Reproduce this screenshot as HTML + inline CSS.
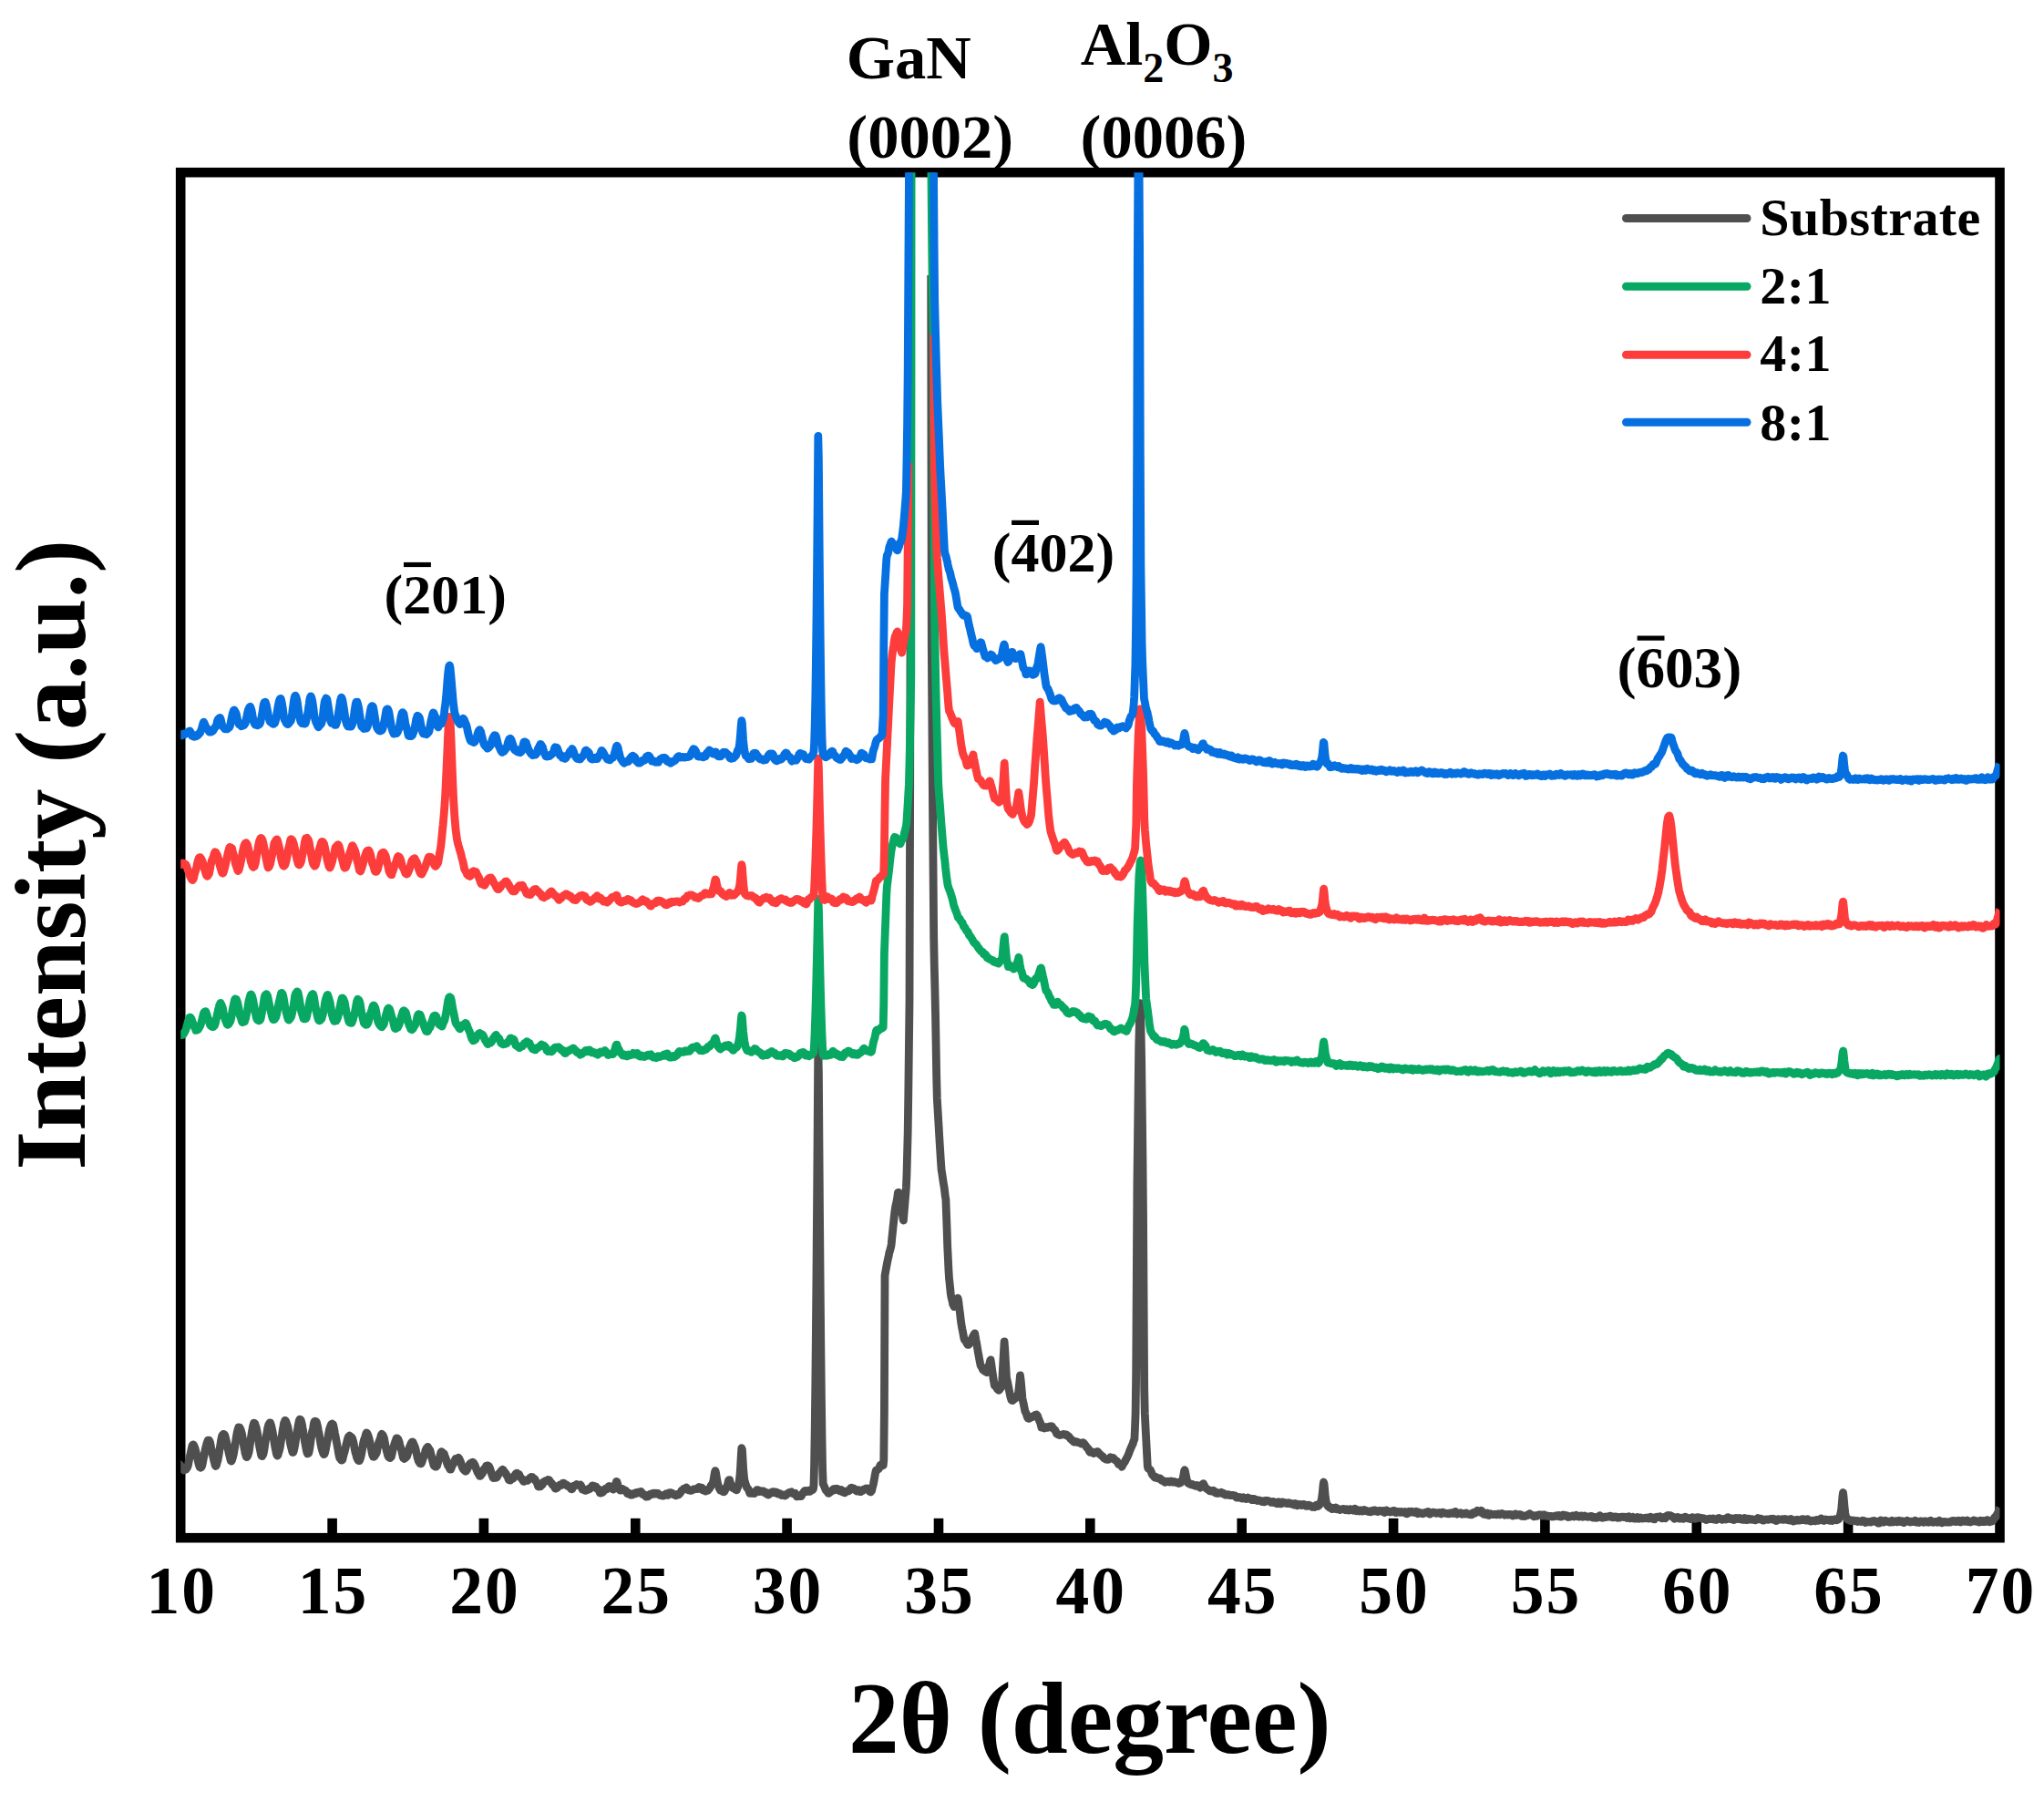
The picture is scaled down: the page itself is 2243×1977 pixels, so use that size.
<!DOCTYPE html>
<html lang="en"><head><meta charset="utf-8"><title>XRD patterns</title>
<style>
html,body{margin:0;padding:0;background:#fff;}
body{width:2243px;height:1977px;overflow:hidden;}
svg{display:block;}
text{font-family:"Liberation Serif","Times New Roman",serif;font-weight:bold;fill:#000;}
.c{fill:none;stroke-linecap:butt;}
</style></head><body>
<svg width="2243" height="1977" viewBox="0 0 2243 1977">
<rect x="0" y="0" width="2243" height="1977" fill="#ffffff"/>
<text x="928.8" y="86" font-size="68.5">GaN</text>
<text x="929.3" y="173" font-size="68.6">(0002)</text>
<text x="1185.8" y="71.3" font-size="68.5">Al<tspan dy="18.5" font-size="46">2</tspan><tspan dy="-18.5" font-size="68.5">O</tspan><tspan dy="18.5" font-size="46">3</tspan></text>
<text x="1185.6" y="173" font-size="68.6">(0006)</text>
<rect x="198.2" y="189.2" width="1996.3" height="1498.0" fill="none" stroke="#000" stroke-width="10.6"/>
<rect x="359.3" y="1665.8" width="10.6" height="20" fill="#000"/>
<rect x="525.6" y="1665.8" width="10.6" height="20" fill="#000"/>
<rect x="692.0" y="1665.8" width="10.6" height="20" fill="#000"/>
<rect x="858.3" y="1665.8" width="10.6" height="20" fill="#000"/>
<rect x="1024.7" y="1665.8" width="10.6" height="20" fill="#000"/>
<rect x="1191.0" y="1665.8" width="10.6" height="20" fill="#000"/>
<rect x="1357.4" y="1665.8" width="10.6" height="20" fill="#000"/>
<rect x="1523.8" y="1665.8" width="10.6" height="20" fill="#000"/>
<rect x="1690.1" y="1665.8" width="10.6" height="20" fill="#000"/>
<rect x="1856.5" y="1665.8" width="10.6" height="20" fill="#000"/>
<rect x="2022.8" y="1665.8" width="10.6" height="20" fill="#000"/>
<defs><clipPath id="pc"><rect x="198.2" y="189.2" width="1996.3" height="1498.0"/></clipPath></defs>
<g clip-path="url(#pc)">
<polyline class="c" stroke="#4f4f4f" stroke-width="8.8" stroke-linejoin="round" stroke-miterlimit="10" points="194.0,1605.1 194.6,1604.7 195.2,1605.0 195.8,1605.9 196.4,1606.4 197.0,1606.7 197.6,1607.1 198.2,1608.3 198.8,1609.5 199.4,1609.9 200.0,1610.8 200.6,1611.9 201.2,1612.6 201.8,1612.9 202.4,1612.3 203.0,1612.5 203.6,1611.8 204.2,1612.0 204.8,1611.0 205.4,1610.4 206.0,1608.7 206.6,1606.9 207.2,1603.3 207.8,1600.2 208.4,1597.3 209.0,1595.3 209.6,1592.1 210.2,1589.3 210.8,1586.6 211.4,1585.2 212.0,1585.0 212.6,1585.5 213.2,1586.8 213.8,1588.3 214.4,1590.5 215.0,1592.9 215.6,1595.3 216.2,1598.4 216.8,1600.7 217.4,1603.3 218.0,1606.2 218.6,1608.0 219.2,1609.6 219.8,1609.9 220.4,1610.2 221.0,1609.7 221.6,1608.4 222.2,1606.1 222.8,1602.7 223.4,1599.7 224.0,1596.9 224.6,1593.9 225.2,1590.5 225.8,1587.9 226.4,1585.7 227.0,1583.4 227.6,1581.7 228.2,1580.1 228.8,1580.2 229.4,1580.1 230.0,1581.2 230.6,1582.8 231.2,1585.9 231.8,1589.3 232.4,1591.8 233.0,1594.3 233.6,1597.2 234.2,1599.9 234.8,1602.7 235.4,1604.6 236.0,1607.4 236.6,1608.5 237.2,1608.1 237.8,1606.3 238.4,1604.0 239.0,1602.1 239.6,1599.0 240.2,1595.5 240.8,1591.3 241.4,1587.7 242.0,1584.1 242.6,1580.2 243.2,1577.3 243.8,1574.9 244.4,1574.1 245.0,1573.5 245.6,1573.5 246.2,1573.9 246.8,1574.8 247.4,1577.1 248.0,1579.3 248.6,1582.5 249.2,1584.7 249.8,1588.2 250.4,1590.6 251.0,1593.4 251.6,1595.9 252.2,1598.5 252.8,1601.0 253.4,1603.0 254.0,1603.1 254.6,1601.9 255.2,1599.5 255.8,1597.7 256.4,1594.9 257.0,1591.4 257.6,1587.8 258.2,1584.2 258.8,1580.1 259.4,1576.2 260.0,1572.7 260.6,1569.9 261.2,1567.8 261.8,1566.0 262.4,1566.0 263.0,1566.1 263.6,1567.4 264.2,1568.5 264.8,1570.8 265.4,1572.9 266.0,1576.1 266.6,1579.9 267.2,1583.5 267.8,1587.9 268.4,1590.4 269.0,1594.4 269.6,1595.9 270.2,1598.3 270.8,1598.6 271.4,1597.9 272.0,1596.6 272.6,1594.9 273.2,1592.6 273.8,1588.5 274.4,1584.1 275.0,1579.7 275.6,1576.2 276.2,1572.2 276.8,1569.1 277.4,1565.4 278.0,1563.2 278.6,1561.2 279.2,1561.4 279.8,1561.9 280.4,1564.1 281.0,1565.6 281.6,1568.1 282.2,1570.9 282.8,1574.4 283.4,1578.7 284.0,1582.6 284.6,1586.6 285.2,1589.5 285.8,1592.4 286.4,1595.5 287.0,1597.3 287.6,1597.7 288.2,1596.6 288.8,1595.8 289.4,1593.3 290.0,1590.0 290.6,1585.7 291.2,1581.7 291.8,1578.1 292.4,1574.4 293.0,1571.5 293.6,1567.6 294.2,1565.1 294.8,1562.9 295.4,1561.9 296.0,1560.9 296.6,1560.9 297.2,1562.6 297.8,1564.7 298.4,1567.8 299.0,1570.3 299.6,1573.7 300.2,1577.1 300.8,1581.1 301.4,1584.9 302.0,1588.4 302.6,1591.2 303.2,1594.2 303.8,1596.2 304.4,1597.1 305.0,1596.2 305.6,1594.1 306.2,1592.3 306.8,1590.1 307.4,1587.3 308.0,1583.4 308.6,1579.3 309.2,1575.7 309.8,1571.9 310.4,1567.8 311.0,1564.8 311.6,1561.3 312.2,1559.9 312.8,1558.4 313.4,1558.9 314.0,1560.0 314.6,1562.0 315.2,1563.6 315.8,1565.3 316.4,1568.6 317.0,1572.6 317.6,1577.4 318.2,1581.4 318.8,1584.9 319.4,1587.3 320.0,1589.6 320.6,1592.0 321.2,1593.5 321.8,1593.2 322.4,1591.5 323.0,1588.8 323.6,1585.7 324.2,1582.1 324.8,1578.2 325.4,1574.4 326.0,1570.7 326.6,1567.7 327.2,1563.8 327.8,1560.8 328.4,1558.3 329.0,1557.2 329.6,1557.4 330.2,1558.1 330.8,1560.2 331.4,1562.6 332.0,1566.7 332.6,1569.5 333.2,1573.5 333.8,1576.7 334.4,1581.3 335.0,1584.2 335.6,1587.5 336.2,1590.7 336.8,1593.3 337.4,1594.8 338.0,1594.7 338.6,1594.3 339.2,1592.4 339.8,1589.1 340.4,1585.1 341.0,1580.7 341.6,1576.3 342.2,1572.4 342.8,1569.8 343.4,1567.5 344.0,1564.2 344.6,1560.8 345.2,1559.5 345.8,1559.1 346.4,1559.4 347.0,1559.7 347.6,1561.1 348.2,1563.5 348.8,1566.4 349.4,1569.6 350.0,1572.3 350.6,1575.9 351.2,1579.2 351.8,1583.6 352.4,1586.2 353.0,1589.3 353.6,1591.3 354.2,1593.1 354.8,1594.8 355.4,1595.6 356.0,1595.3 356.6,1593.7 357.2,1591.3 357.8,1588.0 358.4,1584.8 359.0,1581.4 359.6,1579.1 360.2,1575.1 360.8,1571.6 361.4,1568.5 362.0,1566.7 362.6,1564.8 363.2,1563.3 363.8,1562.5 364.4,1562.1 365.0,1562.7 365.6,1562.8 366.2,1565.6 366.8,1568.5 367.4,1572.4 368.0,1575.1 368.6,1578.1 369.2,1581.3 369.8,1584.5 370.4,1587.8 371.0,1591.0 371.6,1594.7 372.2,1597.6 372.8,1599.7 373.4,1600.5 374.0,1601.2 374.6,1602.1 375.2,1602.1 375.8,1601.3 376.4,1599.0 377.0,1596.5 377.6,1594.2 378.2,1592.3 378.8,1590.1 379.4,1587.4 380.0,1584.5 380.6,1582.4 381.2,1579.7 381.8,1577.9 382.4,1576.1 383.0,1576.0 383.6,1575.2 384.2,1575.6 384.8,1576.1 385.4,1576.6 386.0,1577.0 386.6,1578.0 387.2,1580.0 387.8,1582.2 388.4,1584.9 389.0,1588.5 389.6,1591.7 390.2,1594.3 390.8,1595.8 391.4,1598.5 392.0,1600.1 392.6,1601.4 393.2,1602.5 393.8,1602.6 394.4,1602.6 395.0,1601.3 395.6,1599.7 396.2,1597.1 396.8,1594.5 397.4,1591.3 398.0,1587.8 398.6,1583.4 399.2,1580.7 399.8,1578.9 400.4,1577.6 401.0,1575.4 401.6,1573.2 402.2,1572.0 402.8,1572.4 403.4,1573.4 404.0,1575.1 404.6,1576.9 405.2,1579.2 405.8,1581.8 406.4,1584.6 407.0,1587.6 407.6,1590.6 408.2,1593.9 408.8,1596.4 409.4,1598.0 410.0,1597.8 410.6,1598.3 411.2,1597.2 411.8,1596.5 412.4,1595.3 413.0,1594.6 413.6,1592.8 414.2,1589.3 414.8,1586.1 415.4,1583.2 416.0,1581.5 416.6,1580.2 417.2,1578.5 417.8,1576.4 418.4,1574.0 419.0,1573.4 419.6,1573.8 420.2,1574.6 420.8,1576.1 421.4,1577.6 422.0,1580.8 422.6,1583.8 423.2,1587.4 423.8,1589.7 424.4,1592.2 425.0,1594.3 425.6,1596.6 426.2,1598.1 426.8,1598.9 427.4,1599.1 428.0,1599.5 428.6,1599.2 429.2,1598.5 429.8,1596.7 430.4,1593.9 431.0,1591.1 431.6,1588.3 432.2,1586.7 432.8,1584.5 433.4,1582.8 434.0,1581.0 434.6,1579.4 435.2,1577.8 435.8,1577.8 436.4,1578.7 437.0,1579.2 437.6,1580.7 438.2,1582.4 438.8,1585.8 439.4,1587.3 440.0,1589.4 440.6,1590.8 441.2,1594.2 441.8,1596.4 442.4,1599.3 443.0,1599.4 443.6,1600.5 444.2,1599.6 444.8,1599.6 445.4,1599.2 446.0,1598.4 446.6,1597.6 447.2,1595.7 447.8,1593.9 448.4,1591.3 449.0,1589.0 449.6,1587.5 450.2,1585.8 450.8,1584.3 451.4,1583.1 452.0,1582.3 452.6,1582.0 453.2,1582.5 453.8,1584.1 454.4,1585.2 455.0,1586.8 455.6,1588.2 456.2,1590.6 456.8,1593.2 457.4,1595.7 458.0,1599.0 458.6,1600.5 459.2,1602.8 459.8,1603.7 460.4,1604.8 461.0,1605.6 461.6,1605.7 462.2,1605.8 462.8,1604.6 463.4,1602.8 464.0,1600.9 464.6,1599.1 465.2,1597.9 465.8,1595.7 466.4,1593.7 467.0,1591.0 467.6,1590.2 468.2,1588.7 468.8,1588.0 469.4,1587.4 470.0,1588.5 470.6,1589.3 471.2,1590.1 471.8,1591.0 472.4,1593.1 473.0,1595.9 473.6,1598.2 474.2,1600.8 474.8,1603.2 475.4,1605.3 476.0,1607.5 476.6,1608.3 477.2,1609.0 477.8,1608.4 478.4,1609.2 479.0,1608.7 479.6,1608.2 480.2,1605.7 480.8,1604.0 481.4,1602.0 482.0,1600.8 482.6,1598.4 483.2,1596.2 483.8,1593.7 484.4,1592.6 485.0,1593.1 485.6,1593.8 486.2,1594.3 486.8,1594.3 487.4,1595.0 488.0,1597.4 488.6,1598.5 489.2,1600.7 489.8,1601.6 490.4,1605.1 491.0,1606.2 491.6,1608.2 492.2,1608.5 492.8,1609.6 493.4,1611.0 494.0,1612.2 494.6,1612.2 495.2,1610.8 495.8,1608.8 496.4,1607.7 497.0,1606.7 497.6,1606.0 498.2,1604.6 498.8,1602.8 499.4,1601.5 500.0,1600.4 500.6,1600.5 501.2,1600.7 501.8,1600.4 502.4,1599.7 503.0,1599.3 503.6,1599.9 504.2,1601.0 504.8,1602.3 505.4,1603.6 506.0,1605.7 506.6,1607.4 507.2,1609.5 507.8,1610.7 508.4,1611.8 509.0,1612.4 509.6,1613.1 510.2,1613.7 510.8,1614.2 511.4,1614.0 512.0,1613.1 512.6,1612.2 513.2,1610.7 513.8,1609.8 514.4,1608.5 515.0,1607.0 515.6,1606.2 516.2,1605.4 516.8,1605.5 517.4,1604.8 518.0,1604.4 518.6,1604.1 519.2,1604.5 519.8,1605.1 520.4,1606.4 521.0,1607.2 521.6,1608.8 522.2,1610.3 522.8,1612.3 523.4,1613.5 524.0,1615.2 524.6,1615.9 525.2,1617.3 525.8,1618.0 526.4,1619.3 527.0,1619.3 527.6,1618.7 528.2,1617.8 528.8,1617.0 529.4,1616.3 530.0,1615.2 530.6,1613.0 531.2,1611.8 531.8,1611.0 532.4,1610.9 533.0,1610.0 533.6,1608.3 534.2,1608.0 534.8,1607.9 535.4,1607.9 536.0,1608.3 536.6,1608.7 537.2,1610.3 537.8,1611.2 538.4,1613.7 539.0,1615.5 539.6,1617.3 540.2,1618.8 540.8,1620.8 541.4,1621.6 542.0,1621.6 542.6,1621.0 543.2,1620.9 543.8,1621.0 544.4,1621.3 545.0,1620.9 545.6,1620.3 546.2,1618.9 546.8,1617.8 547.4,1616.6 548.0,1616.2 548.6,1615.8 549.2,1614.9 549.8,1614.0 550.4,1613.4 551.0,1612.7 551.6,1612.3 552.2,1612.7 552.8,1613.6 553.4,1615.1 554.0,1615.1 554.6,1616.1 555.2,1616.8 555.8,1618.3 556.4,1618.7 557.0,1619.9 557.6,1621.6 558.2,1623.4 558.8,1623.9 559.4,1623.9 560.0,1624.1 560.6,1623.0 561.2,1622.5 561.8,1621.7 562.4,1622.2 563.0,1622.1 563.6,1621.3 564.2,1620.2 564.8,1618.8 565.4,1617.9 566.0,1616.9 566.6,1616.3 567.2,1616.1 567.8,1617.1 568.4,1617.3 569.0,1617.4 569.6,1617.4 570.2,1618.9 570.8,1619.9 571.4,1621.4 572.0,1621.5 572.6,1622.5 573.2,1622.7 573.8,1624.2 574.4,1625.4 575.0,1625.3 575.6,1624.9 576.2,1624.6 576.8,1624.7 577.4,1624.1 578.0,1624.0 578.6,1624.0 579.2,1624.3 579.8,1623.1 580.4,1622.7 581.0,1621.9 581.6,1622.1 582.2,1621.0 582.8,1620.6 583.4,1620.3 584.0,1620.5 584.6,1621.3 585.2,1621.7 585.8,1622.2 586.4,1622.5 587.0,1623.0 587.6,1624.6 588.2,1625.2 588.8,1626.1 589.4,1627.1 590.0,1629.1 590.6,1630.8 591.2,1631.0 591.8,1630.7 592.4,1630.9 593.0,1630.9 593.6,1630.2 594.2,1629.3 594.8,1629.0 595.4,1628.5 596.0,1627.1 596.6,1625.6 597.2,1625.5 597.8,1625.1 598.4,1625.0 599.0,1624.3 599.6,1624.4 600.2,1624.1 600.8,1624.1 601.4,1623.5 602.0,1623.7 602.6,1623.6 603.2,1624.9 603.8,1625.7 604.4,1626.6 605.0,1626.8 605.6,1627.6 606.2,1629.0 606.8,1629.3 607.4,1629.7 608.0,1629.8 608.6,1631.9 609.2,1633.0 609.8,1633.2 610.4,1632.4 611.0,1632.7 611.6,1632.2 612.2,1631.3 612.8,1630.5 613.4,1630.3 614.0,1630.2 614.6,1629.0 615.2,1629.1 615.8,1629.2 616.4,1629.4 617.0,1628.8 617.6,1627.3 618.2,1627.4 618.8,1627.2 619.4,1628.4 620.0,1628.8 620.6,1629.1 621.2,1628.8 621.8,1629.1 622.4,1629.5 623.0,1630.5 623.6,1630.6 624.2,1631.2 624.8,1630.8 625.4,1631.8 626.0,1632.2 626.6,1633.6 627.2,1633.9 627.8,1633.7 628.4,1632.3 629.0,1630.9 629.6,1630.1 630.2,1630.2 630.8,1630.2 631.4,1629.5 632.0,1629.5 632.6,1628.5 633.2,1629.2 633.8,1628.9 634.4,1629.3 635.0,1629.1 635.6,1629.1 636.2,1629.2 636.8,1628.9 637.4,1629.5 638.0,1631.0 638.6,1633.0 639.2,1634.2 639.8,1634.3 640.4,1633.9 641.0,1634.5 641.6,1634.7 642.2,1635.3 642.8,1634.9 643.4,1635.0 644.0,1634.8 644.6,1634.7 645.2,1633.9 645.8,1633.5 646.4,1633.9 647.0,1633.7 647.6,1633.2 648.2,1631.8 648.8,1631.6 649.4,1630.7 650.0,1630.0 650.6,1629.8 651.2,1630.2 651.8,1630.4 652.4,1630.9 653.0,1630.9 653.6,1631.4 654.2,1631.3 654.8,1632.9 655.4,1632.8 656.0,1633.6 656.6,1633.6 657.2,1635.4 657.8,1636.6 658.4,1638.0 659.0,1637.5 659.6,1637.9 660.2,1637.3 660.8,1637.6 661.4,1637.2 662.0,1636.5 662.6,1635.4 663.2,1634.4 663.8,1633.5 664.4,1633.4 665.0,1633.0 665.6,1633.2 666.2,1633.6 666.8,1632.9 667.4,1631.9 668.0,1630.8 668.6,1630.5 669.2,1630.8 669.8,1631.5 670.4,1631.9 671.0,1632.0 671.6,1632.5 672.2,1633.0 672.8,1634.1 673.4,1633.7 674.0,1633.4 674.6,1632.0 675.2,1630.3 675.8,1627.4 676.4,1625.5 677.0,1625.8 677.6,1627.7 678.2,1630.4 678.8,1632.1 679.4,1634.0 680.0,1634.2 680.6,1635.2 681.2,1635.2 681.8,1635.2 682.4,1633.8 683.0,1633.5 683.6,1633.9 684.2,1634.3 684.8,1634.6 685.4,1634.6 686.0,1635.3 686.6,1635.4 687.2,1636.1 687.8,1636.8 688.4,1638.6 689.0,1638.8 689.6,1638.9 690.2,1638.1 690.8,1639.3 691.4,1639.5 692.0,1640.0 692.6,1639.9 693.2,1640.2 693.8,1640.0 694.4,1639.7 695.0,1639.1 695.6,1638.6 696.2,1638.3 696.8,1638.8 697.4,1638.9 698.0,1638.0 698.6,1637.3 699.2,1637.3 699.8,1638.0 700.4,1637.9 701.0,1637.0 701.6,1637.0 702.2,1636.8 702.8,1636.8 703.4,1636.4 704.0,1637.5 704.6,1638.4 705.2,1639.6 705.8,1639.2 706.4,1639.9 707.0,1639.7 707.6,1640.2 708.2,1641.2 708.8,1642.1 709.4,1642.2 710.0,1641.3 710.6,1641.1 711.2,1641.7 711.8,1641.4 712.4,1640.3 713.0,1639.4 713.6,1639.2 714.2,1639.5 714.8,1639.8 715.4,1639.5 716.0,1639.4 716.6,1638.1 717.2,1638.1 717.8,1638.5 718.4,1639.1 719.0,1638.9 719.6,1638.2 720.2,1638.8 720.8,1638.5 721.4,1638.7 722.0,1638.5 722.6,1639.6 723.2,1639.9 723.8,1640.2 724.4,1640.2 725.0,1640.7 725.6,1640.8 726.2,1640.7 726.8,1640.7 727.4,1641.2 728.0,1641.1 728.6,1640.8 729.2,1640.4 729.8,1640.1 730.4,1639.8 731.0,1638.7 731.6,1639.1 732.2,1639.6 732.8,1640.4 733.4,1639.5 734.0,1638.6 734.6,1637.6 735.2,1637.6 735.8,1638.1 736.4,1637.7 737.0,1638.4 737.6,1638.1 738.2,1639.5 738.8,1639.6 739.4,1639.7 740.0,1639.6 740.6,1640.1 741.2,1640.6 741.8,1640.8 742.4,1640.3 743.0,1639.4 743.6,1639.3 744.2,1639.5 744.8,1639.9 745.4,1639.0 746.0,1638.6 746.6,1637.7 747.2,1636.7 747.8,1635.5 748.4,1635.5 749.0,1634.6 749.6,1634.5 750.2,1633.3 750.8,1633.1 751.4,1632.9 752.0,1632.9 752.6,1632.7 753.2,1632.0 753.8,1632.7 754.4,1634.2 755.0,1634.6 755.6,1634.8 756.2,1635.0 756.8,1635.2 757.4,1635.4 758.0,1635.2 758.6,1635.3 759.2,1634.8 759.8,1634.7 760.4,1634.7 761.0,1634.3 761.6,1633.7 762.2,1633.7 762.8,1633.6 763.4,1633.7 764.0,1633.4 764.6,1633.2 765.2,1633.5 765.8,1632.5 766.4,1632.5 767.0,1631.5 767.6,1632.7 768.2,1633.3 768.8,1632.9 769.4,1632.1 770.0,1632.1 770.6,1633.7 771.2,1634.8 771.8,1634.9 772.4,1635.2 773.0,1635.4 773.6,1635.7 774.2,1636.1 774.8,1635.0 775.4,1635.3 776.0,1634.3 776.6,1635.3 777.2,1634.5 777.8,1634.1 778.4,1633.3 779.0,1632.3 779.6,1631.5 780.2,1629.8 780.8,1629.0 781.4,1628.3 782.0,1627.6 782.6,1625.4 783.2,1622.7 783.8,1618.7 784.4,1615.2 785.0,1613.6 785.6,1616.0 786.2,1620.0 786.8,1623.7 787.4,1626.6 788.0,1629.3 788.6,1630.9 789.2,1632.8 789.8,1633.7 790.4,1635.1 791.0,1635.0 791.6,1635.7 792.2,1635.8 792.8,1636.1 793.4,1636.6 794.0,1636.3 794.6,1636.8 795.2,1635.8 795.8,1634.7 796.4,1633.0 797.0,1631.7 797.6,1630.8 798.2,1629.3 798.8,1627.1 799.4,1624.6 800.0,1623.6 800.6,1623.6 801.2,1626.2 801.8,1627.8 802.4,1629.9 803.0,1630.9 803.6,1632.2 804.2,1632.7 804.8,1632.8 805.4,1632.7 806.0,1632.8 806.6,1633.3 807.2,1634.4 807.8,1634.6 808.4,1634.8 809.0,1632.7 809.6,1632.0 810.2,1629.7 810.8,1627.5 811.4,1623.5 812.0,1618.2 812.6,1609.5 813.2,1598.2 813.8,1588.7 814.4,1590.3 815.0,1599.7 815.6,1610.4 816.2,1617.5 816.8,1623.3 817.4,1625.5 818.0,1627.8 818.6,1629.2 819.2,1631.3 819.8,1632.4 820.4,1633.0 821.0,1633.5 821.6,1634.8 822.2,1636.6 822.8,1638.3 823.4,1638.3 824.0,1637.5 824.6,1637.2 825.2,1638.3 825.8,1638.4 826.4,1638.3 827.0,1638.1 827.6,1638.6 828.2,1638.4 828.8,1637.3 829.4,1635.9 830.0,1635.4 830.6,1634.6 831.2,1635.1 831.8,1634.8 832.4,1635.6 833.0,1635.9 833.6,1636.6 834.2,1635.9 834.8,1635.6 835.4,1635.8 836.0,1636.3 836.6,1635.9 837.2,1635.8 837.8,1635.9 838.4,1637.4 839.0,1636.9 839.6,1637.5 840.2,1637.2 840.8,1638.4 841.4,1639.2 842.0,1639.6 842.6,1639.6 843.2,1640.0 843.8,1638.9 844.4,1638.7 845.0,1637.7 845.6,1638.3 846.2,1638.0 846.8,1637.5 847.4,1636.8 848.0,1636.7 848.6,1636.9 849.2,1636.6 849.8,1637.0 850.4,1637.7 851.0,1637.4 851.6,1636.9 852.2,1637.2 852.8,1638.4 853.4,1638.8 854.0,1638.1 854.6,1638.1 855.2,1638.4 855.8,1638.7 856.4,1639.7 857.0,1640.0 857.6,1640.4 858.2,1639.9 858.8,1640.2 859.4,1640.0 860.0,1640.4 860.6,1640.7 861.2,1641.0 861.8,1640.9 862.4,1640.3 863.0,1639.8 863.6,1639.1 864.2,1638.5 864.8,1638.4 865.4,1637.7 866.0,1638.1 866.6,1637.6 867.2,1637.7 867.8,1637.0 868.4,1636.8 869.0,1637.4 869.6,1637.6 870.2,1638.7 870.8,1638.8 871.4,1638.6 872.0,1638.4 872.6,1638.3 873.2,1639.7 873.8,1640.6 874.4,1641.9 875.0,1641.5 875.6,1640.8 876.2,1641.2 876.8,1641.7 877.4,1641.7 878.0,1641.1 878.6,1641.5 879.2,1641.5 879.8,1640.6 880.4,1639.2 881.0,1638.4 881.6,1637.5 882.2,1636.5 882.8,1635.8 883.4,1635.3 884.0,1635.4 884.6,1635.3 885.2,1636.5 885.8,1636.1 886.4,1636.1 887.0,1635.2 887.6,1635.8 888.2,1636.3 888.8,1636.3 889.4,1635.8 890.0,1634.6 890.6,1634.2 891.2,1634.4 891.8,1634.5 892.4,1633.6 893.0,1629.5 893.6,1605.8 894.2,1568.4 894.8,1519.2 895.4,1460.3 896.0,1392.0 896.6,1316.7 897.2,1235.5 897.8,1147.3 898.4,1177.0 899.0,1261.6 899.6,1341.2 900.2,1412.9 900.8,1476.8 901.4,1532.3 902.0,1577.9 902.6,1610.8 903.2,1627.9 903.8,1628.9 904.4,1630.6 905.0,1631.8 905.6,1633.4 906.2,1634.8 906.8,1635.3 907.4,1636.1 908.0,1636.8 908.6,1637.8 909.2,1638.3 909.8,1638.0 910.4,1637.5 911.0,1637.2 911.6,1636.5 912.2,1636.4 912.8,1635.5 913.4,1635.5 914.0,1634.3 914.6,1633.8 915.2,1633.5 915.8,1634.2 916.4,1634.7 917.0,1634.5 917.6,1633.9 918.2,1633.2 918.8,1633.4 919.4,1633.6 920.0,1634.4 920.6,1635.2 921.2,1635.7 921.8,1635.3 922.4,1634.6 923.0,1634.5 923.6,1635.0 924.2,1636.2 924.8,1637.1 925.4,1637.2 926.0,1637.0 926.6,1637.4 927.2,1637.7 927.8,1637.0 928.4,1636.0 929.0,1635.9 929.6,1636.0 930.2,1636.1 930.8,1636.0 931.4,1635.7 932.0,1635.3 932.6,1634.7 933.2,1633.2 933.8,1632.4 934.4,1632.1 935.0,1632.5 935.6,1632.9 936.2,1632.8 936.8,1632.8 937.4,1633.3 938.0,1634.0 938.6,1634.8 939.2,1635.0 939.8,1635.6 940.4,1636.1 941.0,1635.2 941.6,1634.8 942.2,1634.7 942.8,1635.5 943.4,1635.9 944.0,1636.6 944.6,1636.6 945.2,1635.9 945.8,1635.9 946.4,1635.6 947.0,1635.2 947.6,1634.1 948.2,1634.0 948.8,1633.9 949.4,1633.8 950.0,1633.2 950.6,1633.1 951.2,1632.9 951.8,1633.5 952.4,1633.9 953.0,1634.2 953.6,1634.2 954.2,1636.0 954.8,1635.9 955.4,1636.9 956.0,1636.0 956.6,1635.6 957.2,1632.7 957.8,1630.4 958.4,1628.2 959.0,1625.2 959.6,1621.8 960.2,1618.2 960.8,1615.4 961.4,1613.0 962.0,1613.2 962.6,1612.7 963.2,1612.4 963.8,1611.9 964.4,1611.4 965.0,1609.9 965.6,1608.3 966.2,1607.2 966.8,1607.9 967.4,1607.6 968.0,1608.2 968.6,1607.3 969.2,1607.8 969.8,1601.8 970.4,1547.5 971.0,1399.7 971.6,1396.0 972.2,1392.8 972.8,1389.4 973.4,1386.1 974.0,1383.4 974.6,1380.4 975.2,1378.0 975.8,1374.5 976.4,1372.8 977.0,1370.5 977.6,1368.4 978.2,1365.0 978.8,1358.1 979.4,1352.7 980.0,1346.3 980.6,1341.3 981.2,1335.0 981.8,1329.8 982.4,1325.6 983.0,1322.0 983.6,1320.1 984.2,1316.8 984.8,1313.2 985.4,1308.4 986.0,1308.2 986.6,1311.2 987.2,1314.2 987.8,1315.8 988.4,1316.8 989.0,1321.0 989.6,1326.3 990.2,1331.4 990.8,1335.7 991.4,1339.0 992.0,1331.3 992.6,1324.4 993.2,1316.8 993.8,1310.1 994.4,1302.8 995.0,1288.4 995.6,1265.1 996.2,1241.7 996.8,1199.9 997.4,1149.2 998.0,1099.2 998.6,899.2 999.2,621.2 999.2,620.6"/>
<polyline class="c" stroke="#4f4f4f" stroke-width="8.8" stroke-linejoin="round" stroke-miterlimit="10" points="1021.7,302.0 1022.3,707.6 1022.9,796.2 1023.5,884.7 1024.1,958.3 1024.7,1028.5 1025.3,1060.4 1025.9,1084.4 1026.5,1111.8 1027.1,1146.0 1027.7,1181.5 1028.3,1204.9 1028.9,1215.2 1029.5,1225.2 1030.1,1235.7 1030.7,1246.2 1031.3,1256.0 1031.9,1265.6 1032.5,1275.2 1033.1,1283.5 1033.7,1287.1 1034.3,1291.1 1034.9,1295.5 1035.5,1298.9 1036.1,1302.6 1036.7,1307.1 1037.3,1312.5 1037.9,1315.8 1038.5,1331.8 1039.1,1348.5 1039.7,1367.3 1040.3,1379.3 1040.9,1392.5 1041.5,1402.6 1042.1,1407.8 1042.7,1413.7 1043.3,1419.5 1043.9,1422.9 1044.5,1425.5 1045.1,1427.8 1045.7,1431.1 1046.3,1431.5 1046.9,1433.6 1047.5,1432.9 1048.1,1432.7 1048.7,1431.1 1049.3,1429.0 1049.9,1427.3 1050.5,1425.4 1051.1,1424.2 1051.7,1426.8 1052.3,1431.7 1052.9,1436.7 1053.5,1441.0 1054.1,1446.5 1054.7,1451.3 1055.3,1454.9 1055.9,1458.1 1056.5,1460.9 1057.1,1464.3 1057.7,1467.8 1058.3,1469.7 1058.9,1470.6 1059.5,1470.5 1060.1,1471.8 1060.7,1473.3 1061.3,1474.3 1061.9,1475.2 1062.5,1475.0 1063.1,1475.3 1063.7,1473.5 1064.3,1473.0 1064.9,1473.0 1065.5,1472.4 1066.1,1470.3 1066.7,1468.4 1067.3,1466.8 1067.9,1466.0 1068.5,1464.6 1069.1,1463.5 1069.7,1462.9 1070.3,1466.3 1070.9,1469.8 1071.5,1472.6 1072.1,1476.4 1072.7,1479.7 1073.3,1483.7 1073.9,1486.5 1074.5,1490.1 1075.1,1493.3 1075.7,1496.2 1076.3,1498.8 1076.9,1498.9 1077.5,1500.3 1078.1,1501.9 1078.7,1503.1 1079.3,1503.3 1079.9,1503.8 1080.5,1503.6 1081.1,1504.8 1081.7,1504.7 1082.3,1504.8 1082.9,1505.8 1083.5,1504.9 1084.1,1503.4 1084.7,1500.4 1085.3,1497.6 1085.9,1495.9 1086.5,1493.1 1087.1,1491.8 1087.7,1495.8 1088.3,1500.2 1088.9,1504.8 1089.5,1508.5 1090.1,1513.1 1090.7,1516.3 1091.3,1520.2 1091.9,1519.4 1092.5,1520.0 1093.1,1521.2 1093.7,1522.4 1094.3,1523.9 1094.9,1524.1 1095.5,1524.9 1096.1,1525.4 1096.7,1524.7 1097.3,1523.8 1097.9,1523.0 1098.5,1522.3 1099.1,1521.1 1099.7,1515.9 1100.3,1504.3 1100.9,1493.1 1101.5,1482.4 1102.1,1471.8 1102.7,1479.7 1103.3,1490.6 1103.9,1500.9 1104.5,1511.6 1105.1,1514.1 1105.7,1516.6 1106.3,1519.6 1106.9,1522.7 1107.5,1526.2 1108.1,1529.0 1108.7,1532.0 1109.3,1534.1 1109.9,1536.1 1110.5,1535.9 1111.1,1536.6 1111.7,1535.9 1112.3,1535.9 1112.9,1534.7 1113.5,1534.3 1114.1,1534.3 1114.7,1533.4 1115.3,1532.6 1115.9,1531.3 1116.5,1530.9 1117.1,1529.7 1117.7,1527.0 1118.3,1521.1 1118.9,1515.4 1119.5,1509.0 1120.1,1513.6 1120.7,1519.8 1121.3,1526.7 1121.9,1533.7 1122.5,1537.3 1123.1,1539.4 1123.7,1542.6 1124.3,1545.5 1124.9,1548.5 1125.5,1549.4 1126.1,1550.7 1126.7,1552.5 1127.3,1554.6 1127.9,1555.8 1128.5,1555.6 1129.1,1556.3 1129.7,1556.0 1130.3,1555.8 1130.9,1554.6 1131.5,1555.0 1132.1,1554.9 1132.7,1554.1 1133.3,1553.9 1133.9,1553.7 1134.5,1553.8 1135.1,1553.3 1135.7,1552.6 1136.3,1552.2 1136.9,1552.7 1137.5,1552.0 1138.1,1552.9 1138.7,1553.6 1139.3,1555.9 1139.9,1557.3 1140.5,1558.5 1141.1,1559.9 1141.7,1561.3 1142.3,1563.8 1142.9,1566.1 1143.5,1566.0 1144.1,1565.8 1144.7,1565.7 1145.3,1566.1 1145.9,1567.0 1146.5,1566.5 1147.1,1566.1 1147.7,1565.4 1148.3,1565.7 1148.9,1566.4 1149.5,1566.3 1150.1,1565.8 1150.7,1565.4 1151.3,1565.1 1151.9,1565.8 1152.5,1565.8 1153.1,1565.5 1153.7,1564.6 1154.3,1564.8 1154.9,1566.0 1155.5,1567.1 1156.1,1567.5 1156.7,1568.2 1157.3,1568.5 1157.9,1569.2 1158.5,1570.4 1159.1,1571.8 1159.7,1573.1 1160.3,1573.4 1160.9,1573.9 1161.5,1573.9 1162.1,1574.4 1162.7,1574.5 1163.3,1574.5 1163.9,1574.1 1164.5,1574.1 1165.1,1574.0 1165.7,1573.9 1166.3,1573.8 1166.9,1573.5 1167.5,1573.5 1168.1,1573.6 1168.7,1574.3 1169.3,1573.8 1169.9,1573.9 1170.5,1574.2 1171.1,1575.0 1171.7,1575.2 1172.3,1576.0 1172.9,1576.0 1173.5,1576.9 1174.1,1577.7 1174.7,1578.5 1175.3,1578.9 1175.9,1579.4 1176.5,1580.1 1177.1,1580.7 1177.7,1581.0 1178.3,1582.0 1178.9,1581.9 1179.5,1582.0 1180.1,1581.3 1180.7,1581.8 1181.3,1581.8 1181.9,1581.9 1182.5,1582.5 1183.1,1582.5 1183.7,1582.9 1184.3,1582.9 1184.9,1583.0 1185.5,1583.1 1186.1,1583.6 1186.7,1584.0 1187.3,1583.8 1187.9,1583.2 1188.5,1582.7 1189.1,1583.1 1189.7,1583.8 1190.3,1584.7 1190.9,1585.3 1191.5,1586.3 1192.1,1587.2 1192.7,1588.3 1193.3,1588.3 1193.9,1589.0 1194.5,1589.6 1195.1,1591.7 1195.7,1592.7 1196.3,1593.3 1196.9,1592.3 1197.5,1592.4 1198.1,1592.9 1198.7,1593.2 1199.3,1594.1 1199.9,1594.0 1200.5,1594.5 1201.1,1593.9 1201.7,1594.0 1202.3,1593.0 1202.9,1592.9 1203.5,1592.7 1204.1,1593.2 1204.7,1592.7 1205.3,1593.6 1205.9,1594.1 1206.5,1595.3 1207.1,1595.4 1207.7,1596.0 1208.3,1596.9 1208.9,1597.1 1209.5,1597.4 1210.1,1597.9 1210.7,1599.0 1211.3,1599.7 1211.9,1600.0 1212.5,1600.2 1213.1,1600.5 1213.7,1601.1 1214.3,1600.9 1214.9,1601.4 1215.5,1601.2 1216.1,1601.4 1216.7,1601.1 1217.3,1600.1 1217.9,1599.6 1218.5,1598.8 1219.1,1599.1 1219.7,1599.5 1220.3,1599.7 1220.9,1599.8 1221.5,1599.5 1222.1,1600.5 1222.7,1600.5 1223.3,1601.6 1223.9,1601.8 1224.5,1602.4 1225.1,1602.7 1225.7,1603.1 1226.3,1604.0 1226.9,1605.3 1227.5,1606.5 1228.1,1606.7 1228.7,1606.7 1229.3,1606.7 1229.9,1607.8 1230.5,1607.9 1231.1,1609.3 1231.7,1607.7 1232.3,1607.0 1232.9,1605.4 1233.5,1604.8 1234.1,1604.0 1234.7,1603.1 1235.3,1601.5 1235.9,1600.7 1236.5,1599.5 1237.1,1598.3 1237.7,1597.1 1238.3,1595.5 1238.9,1594.4 1239.5,1592.3 1240.1,1590.7 1240.7,1589.5 1241.3,1587.9 1241.9,1586.8 1242.5,1585.2 1243.1,1584.4 1243.7,1581.9 1244.3,1580.3 1244.9,1579.0 1245.5,1566.2 1246.1,1550.5 1246.7,1504.6 1247.3,1402.2 1247.9,1299.1 1248.5,1250.3 1249.1,1199.4 1249.7,1149.9 1250.3,1124.6 1250.9,1100.7 1251.5,1108.4 1252.1,1133.1 1252.7,1166.9 1253.3,1216.9 1253.9,1266.9 1254.5,1331.3 1255.1,1427.2 1255.7,1523.9 1256.3,1550.9 1256.9,1563.3 1257.5,1574.5 1258.1,1586.2 1258.7,1597.4 1259.3,1608.8 1259.9,1611.3 1260.5,1611.4 1261.1,1612.0 1261.7,1612.0 1262.3,1612.7 1262.9,1614.0 1263.5,1615.2 1264.1,1617.4 1264.7,1618.0 1265.3,1618.9 1265.9,1619.3 1266.5,1620.3 1267.1,1621.0 1267.7,1620.6 1268.3,1620.3 1268.9,1621.0 1269.5,1621.5 1270.1,1621.4 1270.7,1621.6 1271.3,1622.1 1271.9,1622.3 1272.5,1622.0 1273.1,1622.0 1273.7,1622.8 1274.3,1623.3 1274.9,1624.3 1275.5,1624.7 1276.1,1624.4 1276.7,1624.4 1277.3,1624.8 1277.9,1625.8 1278.5,1626.3 1279.1,1626.1 1279.7,1625.7 1280.3,1625.7 1280.9,1625.6 1281.5,1625.2 1282.1,1625.3 1282.7,1625.5 1283.3,1626.2 1283.9,1625.3 1284.5,1625.2 1285.1,1624.9 1285.7,1625.3 1286.3,1626.0 1286.9,1625.6 1287.5,1626.0 1288.1,1625.5 1288.7,1626.0 1289.3,1626.0 1289.9,1626.4 1290.5,1626.2 1291.1,1626.7 1291.7,1626.4 1292.3,1627.1 1292.9,1626.5 1293.5,1627.3 1294.1,1626.9 1294.7,1627.1 1295.3,1626.0 1295.9,1626.2 1296.5,1625.0 1297.1,1624.2 1297.7,1623.0 1298.3,1621.1 1298.9,1617.8 1299.5,1614.1 1300.1,1612.7 1300.7,1615.2 1301.3,1618.7 1301.9,1621.5 1302.5,1624.4 1303.1,1626.0 1303.7,1627.2 1304.3,1627.3 1304.9,1627.5 1305.5,1628.1 1306.1,1628.3 1306.7,1628.7 1307.3,1628.2 1307.9,1628.6 1308.5,1628.4 1309.1,1629.2 1309.7,1629.6 1310.3,1629.4 1310.9,1629.9 1311.5,1629.9 1312.1,1630.3 1312.7,1629.7 1313.3,1629.5 1313.9,1630.0 1314.5,1630.2 1315.1,1630.7 1315.7,1631.0 1316.3,1631.7 1316.9,1632.1 1317.5,1631.3 1318.1,1630.1 1318.7,1629.2 1319.3,1628.5 1319.9,1628.4 1320.5,1627.7 1321.1,1628.7 1321.7,1629.9 1322.3,1631.4 1322.9,1632.2 1323.5,1632.8 1324.1,1633.2 1324.7,1633.6 1325.3,1634.2 1325.9,1634.3 1326.5,1635.1 1327.1,1635.0 1327.7,1635.8 1328.3,1635.3 1328.9,1635.5 1329.5,1636.1 1330.1,1636.2 1330.7,1636.0 1331.3,1635.2 1331.9,1635.4 1332.5,1636.8 1333.1,1637.3 1333.7,1638.0 1334.3,1637.0 1334.9,1637.2 1335.5,1637.3 1336.1,1638.4 1336.7,1638.2 1337.3,1638.3 1337.9,1637.8 1338.5,1637.8 1339.1,1637.7 1339.7,1637.7 1340.3,1637.3 1340.9,1637.7 1341.5,1638.1 1342.1,1638.9 1342.7,1638.3 1343.3,1638.8 1343.9,1639.2 1344.5,1640.1 1345.1,1640.2 1345.7,1640.1 1346.3,1640.1 1346.9,1639.6 1347.5,1639.9 1348.1,1639.7 1348.7,1639.9 1349.3,1640.5 1349.9,1640.7 1350.5,1640.7 1351.1,1640.4 1351.7,1640.6 1352.3,1640.4 1352.9,1640.4 1353.5,1640.4 1354.1,1640.7 1354.7,1640.9 1355.3,1640.8 1355.9,1641.9 1356.5,1642.6 1357.1,1643.1 1357.7,1642.4 1358.3,1642.9 1358.9,1642.9 1359.5,1643.1 1360.1,1642.5 1360.7,1642.6 1361.3,1643.3 1361.9,1643.3 1362.5,1644.0 1363.1,1643.3 1363.7,1643.7 1364.3,1642.7 1364.9,1643.8 1365.5,1643.5 1366.1,1644.0 1366.7,1643.8 1367.3,1644.5 1367.9,1644.2 1368.5,1643.9 1369.1,1643.0 1369.7,1643.6 1370.3,1643.8 1370.9,1644.3 1371.5,1644.2 1372.1,1644.2 1372.7,1644.1 1373.3,1644.7 1373.9,1645.5 1374.5,1645.2 1375.1,1645.1 1375.7,1644.5 1376.3,1645.5 1376.9,1645.3 1377.5,1645.6 1378.1,1645.1 1378.7,1645.8 1379.3,1646.0 1379.9,1646.5 1380.5,1646.4 1381.1,1646.4 1381.7,1645.9 1382.3,1646.1 1382.9,1646.3 1383.5,1646.9 1384.1,1647.1 1384.7,1647.5 1385.3,1647.2 1385.9,1646.6 1386.5,1646.8 1387.1,1647.8 1387.7,1647.9 1388.3,1646.9 1388.9,1646.2 1389.5,1646.4 1390.1,1646.3 1390.7,1646.6 1391.3,1646.4 1391.9,1646.6 1392.5,1646.9 1393.1,1647.2 1393.7,1647.7 1394.3,1647.7 1394.9,1648.3 1395.5,1648.2 1396.1,1648.1 1396.7,1647.5 1397.3,1648.4 1397.9,1648.6 1398.5,1648.6 1399.1,1648.0 1399.7,1648.1 1400.3,1648.7 1400.9,1649.5 1401.5,1649.8 1402.1,1649.5 1402.7,1648.8 1403.3,1647.9 1403.9,1648.2 1404.5,1648.4 1405.1,1649.9 1405.7,1649.9 1406.3,1649.2 1406.9,1648.0 1407.5,1648.0 1408.1,1648.4 1408.7,1648.4 1409.3,1648.3 1409.9,1648.9 1410.5,1649.2 1411.1,1649.1 1411.7,1649.3 1412.3,1649.2 1412.9,1649.5 1413.5,1648.7 1414.1,1648.7 1414.7,1649.2 1415.3,1649.1 1415.9,1649.5 1416.5,1649.5 1417.1,1650.1 1417.7,1650.2 1418.3,1649.6 1418.9,1650.3 1419.5,1650.7 1420.1,1651.2 1420.7,1650.1 1421.3,1649.4 1421.9,1649.7 1422.5,1651.1 1423.1,1651.6 1423.7,1651.8 1424.3,1651.0 1424.9,1650.9 1425.5,1650.5 1426.1,1650.9 1426.7,1650.5 1427.3,1650.9 1427.9,1651.3 1428.5,1651.5 1429.1,1650.7 1429.7,1650.4 1430.3,1650.7 1430.9,1650.4 1431.5,1650.6 1432.1,1651.0 1432.7,1651.7 1433.3,1652.3 1433.9,1652.3 1434.5,1652.3 1435.1,1651.6 1435.7,1651.2 1436.3,1651.3 1436.9,1651.4 1437.5,1651.6 1438.1,1651.8 1438.7,1652.3 1439.3,1652.9 1439.9,1653.4 1440.5,1653.0 1441.1,1652.9 1441.7,1653.1 1442.3,1653.0 1442.9,1653.5 1443.5,1652.6 1444.1,1652.4 1444.7,1651.2 1445.3,1651.3 1445.9,1651.5 1446.5,1652.3 1447.1,1651.9 1447.7,1651.4 1448.3,1650.1 1448.9,1649.3 1449.5,1647.5 1450.1,1645.6 1450.7,1642.0 1451.3,1637.3 1451.9,1630.4 1452.5,1626.0 1453.1,1628.3 1453.7,1634.8 1454.3,1641.8 1454.9,1645.6 1455.5,1649.2 1456.1,1650.4 1456.7,1651.9 1457.3,1651.7 1457.9,1652.4 1458.5,1653.6 1459.1,1654.1 1459.7,1653.9 1460.3,1653.9 1460.9,1654.5 1461.5,1655.6 1462.1,1655.1 1462.7,1655.3 1463.3,1654.3 1463.9,1655.4 1464.5,1655.0 1465.1,1654.7 1465.7,1654.0 1466.3,1654.2 1466.9,1655.8 1467.5,1655.8 1468.1,1655.9 1468.7,1655.5 1469.3,1656.2 1469.9,1656.3 1470.5,1656.5 1471.1,1656.1 1471.7,1656.1 1472.3,1655.8 1472.9,1655.6 1473.5,1655.5 1474.1,1655.9 1474.7,1655.5 1475.3,1656.3 1475.9,1656.2 1476.5,1656.7 1477.1,1656.1 1477.7,1655.7 1478.3,1655.9 1478.9,1656.5 1479.5,1656.7 1480.1,1657.0 1480.7,1656.5 1481.3,1656.5 1481.9,1655.6 1482.5,1656.2 1483.1,1656.2 1483.7,1656.6 1484.3,1656.8 1484.9,1657.1 1485.5,1656.2 1486.1,1655.8 1486.7,1655.1 1487.3,1656.6 1487.9,1657.5 1488.5,1657.9 1489.1,1657.5 1489.7,1656.6 1490.3,1656.9 1490.9,1657.2 1491.5,1657.8 1492.1,1657.3 1492.7,1657.7 1493.3,1656.9 1493.9,1657.4 1494.5,1657.3 1495.1,1658.0 1495.7,1657.5 1496.3,1656.9 1496.9,1656.5 1497.5,1656.9 1498.1,1657.6 1498.7,1657.3 1499.3,1657.5 1499.9,1657.4 1500.5,1658.1 1501.1,1658.1 1501.7,1658.5 1502.3,1658.5 1502.9,1658.7 1503.5,1658.4 1504.1,1658.9 1504.7,1657.9 1505.3,1658.2 1505.9,1657.5 1506.5,1658.1 1507.1,1657.3 1507.7,1656.8 1508.3,1656.8 1508.9,1656.9 1509.5,1657.8 1510.1,1657.5 1510.7,1658.3 1511.3,1658.2 1511.9,1658.7 1512.5,1658.0 1513.1,1657.6 1513.7,1657.3 1514.3,1657.4 1514.9,1657.8 1515.5,1658.1 1516.1,1657.8 1516.7,1657.7 1517.3,1657.5 1517.9,1658.1 1518.5,1658.9 1519.1,1659.5 1519.7,1659.3 1520.3,1658.0 1520.9,1657.3 1521.5,1656.8 1522.1,1657.7 1522.7,1657.9 1523.3,1658.6 1523.9,1658.1 1524.5,1658.4 1525.1,1659.0 1525.7,1658.9 1526.3,1658.8 1526.9,1658.0 1527.5,1658.6 1528.1,1658.4 1528.7,1658.3 1529.3,1657.4 1529.9,1657.3 1530.5,1657.9 1531.1,1659.4 1531.7,1659.6 1532.3,1659.7 1532.9,1658.9 1533.5,1658.9 1534.1,1658.4 1534.7,1658.3 1535.3,1658.5 1535.9,1659.3 1536.5,1658.7 1537.1,1659.1 1537.7,1658.5 1538.3,1659.0 1538.9,1658.9 1539.5,1659.2 1540.1,1659.4 1540.7,1659.6 1541.3,1659.5 1541.9,1658.7 1542.5,1659.1 1543.1,1659.7 1543.7,1660.8 1544.3,1660.7 1544.9,1659.3 1545.5,1659.0 1546.1,1658.3 1546.7,1658.6 1547.3,1659.0 1547.9,1659.1 1548.5,1659.2 1549.1,1658.2 1549.7,1658.4 1550.3,1658.5 1550.9,1659.0 1551.5,1658.8 1552.1,1659.5 1552.7,1659.3 1553.3,1659.2 1553.9,1658.2 1554.5,1659.1 1555.1,1660.3 1555.7,1660.7 1556.3,1660.0 1556.9,1659.1 1557.5,1659.4 1558.1,1659.4 1558.7,1660.1 1559.3,1660.2 1559.9,1660.6 1560.5,1660.3 1561.1,1660.1 1561.7,1660.6 1562.3,1660.0 1562.9,1660.2 1563.5,1659.5 1564.1,1659.6 1564.7,1659.2 1565.3,1659.3 1565.9,1659.3 1566.5,1658.6 1567.1,1658.4 1567.7,1659.3 1568.3,1660.6 1568.9,1661.2 1569.5,1661.1 1570.1,1660.2 1570.7,1660.0 1571.3,1659.7 1571.9,1659.5 1572.5,1659.2 1573.1,1659.1 1573.7,1659.4 1574.3,1659.4 1574.9,1659.5 1575.5,1659.6 1576.1,1660.3 1576.7,1660.2 1577.3,1660.2 1577.9,1659.9 1578.5,1659.8 1579.1,1659.7 1579.7,1659.5 1580.3,1659.9 1580.9,1660.4 1581.5,1661.0 1582.1,1660.1 1582.7,1659.8 1583.3,1659.2 1583.9,1659.9 1584.5,1659.9 1585.1,1659.8 1585.7,1660.1 1586.3,1660.3 1586.9,1660.1 1587.5,1660.3 1588.1,1660.6 1588.7,1660.9 1589.3,1660.7 1589.9,1660.1 1590.5,1660.7 1591.1,1660.3 1591.7,1660.3 1592.3,1659.8 1592.9,1659.6 1593.5,1660.0 1594.1,1660.2 1594.7,1660.5 1595.3,1660.2 1595.9,1658.9 1596.5,1658.9 1597.1,1658.4 1597.7,1659.9 1598.3,1660.2 1598.9,1661.1 1599.5,1660.8 1600.1,1660.4 1600.7,1660.2 1601.3,1660.2 1601.9,1660.0 1602.5,1659.8 1603.1,1660.4 1603.7,1660.6 1604.3,1661.3 1604.9,1660.8 1605.5,1660.9 1606.1,1660.5 1606.7,1660.7 1607.3,1661.0 1607.9,1661.2 1608.5,1660.8 1609.1,1660.2 1609.7,1660.7 1610.3,1660.8 1610.9,1661.0 1611.5,1661.0 1612.1,1661.5 1612.7,1661.7 1613.3,1661.1 1613.9,1661.5 1614.5,1661.4 1615.1,1661.7 1615.7,1660.8 1616.3,1660.1 1616.9,1659.3 1617.5,1659.4 1618.1,1660.0 1618.7,1660.2 1619.3,1659.4 1619.9,1658.4 1620.5,1658.0 1621.1,1657.3 1621.7,1657.6 1622.3,1657.6 1622.9,1658.9 1623.5,1659.0 1624.1,1658.9 1624.7,1658.2 1625.3,1657.2 1625.9,1657.7 1626.5,1658.3 1627.1,1660.2 1627.7,1660.8 1628.3,1661.3 1628.9,1661.2 1629.5,1661.3 1630.1,1661.7 1630.7,1661.3 1631.3,1660.9 1631.9,1660.0 1632.5,1661.0 1633.1,1661.7 1633.7,1662.5 1634.3,1661.5 1634.9,1661.1 1635.5,1660.8 1636.1,1661.3 1636.7,1661.2 1637.3,1661.5 1637.9,1661.3 1638.5,1661.7 1639.1,1661.7 1639.7,1661.7 1640.3,1661.4 1640.9,1661.2 1641.5,1661.6 1642.1,1661.5 1642.7,1661.8 1643.3,1661.4 1643.9,1661.0 1644.5,1661.2 1645.1,1661.0 1645.7,1661.8 1646.3,1661.6 1646.9,1661.4 1647.5,1660.9 1648.1,1660.5 1648.7,1660.9 1649.3,1660.8 1649.9,1661.3 1650.5,1661.5 1651.1,1662.1 1651.7,1661.7 1652.3,1661.9 1652.9,1661.5 1653.5,1661.7 1654.1,1661.8 1654.7,1662.1 1655.3,1661.9 1655.9,1661.3 1656.5,1661.4 1657.1,1661.7 1657.7,1662.0 1658.3,1661.7 1658.9,1661.8 1659.5,1662.8 1660.1,1663.0 1660.7,1662.9 1661.3,1662.2 1661.9,1661.4 1662.5,1661.3 1663.1,1660.9 1663.7,1662.4 1664.3,1662.3 1664.9,1662.3 1665.5,1661.7 1666.1,1661.9 1666.7,1662.0 1667.3,1662.0 1667.9,1661.5 1668.5,1661.6 1669.1,1661.9 1669.7,1663.2 1670.3,1663.5 1670.9,1663.4 1671.5,1663.1 1672.1,1663.2 1672.7,1663.7 1673.3,1663.7 1673.9,1663.3 1674.5,1662.8 1675.1,1662.5 1675.7,1662.7 1676.3,1662.7 1676.9,1662.3 1677.5,1661.5 1678.1,1661.2 1678.7,1660.7 1679.3,1661.5 1679.9,1661.8 1680.5,1661.9 1681.1,1662.2 1681.7,1662.5 1682.3,1663.2 1682.9,1663.6 1683.5,1663.9 1684.1,1663.5 1684.7,1663.3 1685.3,1662.7 1685.9,1663.4 1686.5,1663.3 1687.1,1662.9 1687.7,1662.6 1688.3,1661.9 1688.9,1661.9 1689.5,1662.1 1690.1,1661.9 1690.7,1661.8 1691.3,1662.1 1691.9,1662.6 1692.5,1663.2 1693.1,1662.3 1693.7,1662.0 1694.3,1661.7 1694.9,1662.4 1695.5,1662.5 1696.1,1663.1 1696.7,1663.0 1697.3,1663.3 1697.9,1662.9 1698.5,1663.2 1699.1,1663.1 1699.7,1663.5 1700.3,1663.4 1700.9,1663.6 1701.5,1663.3 1702.1,1663.3 1702.7,1663.6 1703.3,1664.0 1703.9,1663.9 1704.5,1663.9 1705.1,1663.6 1705.7,1663.9 1706.3,1663.6 1706.9,1662.8 1707.5,1662.9 1708.1,1662.9 1708.7,1663.3 1709.3,1662.7 1709.9,1662.4 1710.5,1663.6 1711.1,1663.8 1711.7,1663.6 1712.3,1663.0 1712.9,1662.7 1713.5,1664.0 1714.1,1663.4 1714.7,1662.8 1715.3,1662.1 1715.9,1662.4 1716.5,1663.1 1717.1,1662.3 1717.7,1662.6 1718.3,1663.3 1718.9,1663.4 1719.5,1663.7 1720.1,1662.9 1720.7,1664.5 1721.3,1664.2 1721.9,1664.4 1722.5,1663.9 1723.1,1664.0 1723.7,1663.8 1724.3,1663.7 1724.9,1663.3 1725.5,1662.9 1726.1,1663.4 1726.7,1663.5 1727.3,1663.9 1727.9,1663.3 1728.5,1662.9 1729.1,1662.6 1729.7,1662.3 1730.3,1662.7 1730.9,1663.3 1731.5,1663.9 1732.1,1663.9 1732.7,1664.1 1733.3,1663.9 1733.9,1663.7 1734.5,1663.6 1735.1,1663.0 1735.7,1663.8 1736.3,1663.9 1736.9,1664.3 1737.5,1663.4 1738.1,1663.3 1738.7,1663.0 1739.3,1663.8 1739.9,1663.7 1740.5,1663.7 1741.1,1663.8 1741.7,1664.1 1742.3,1664.2 1742.9,1664.3 1743.5,1664.0 1744.1,1664.1 1744.7,1663.7 1745.3,1663.6 1745.9,1663.5 1746.5,1663.4 1747.1,1664.3 1747.7,1665.0 1748.3,1665.0 1748.9,1665.0 1749.5,1664.5 1750.1,1664.7 1750.7,1664.5 1751.3,1664.6 1751.9,1665.3 1752.5,1665.1 1753.1,1664.6 1753.7,1664.2 1754.3,1664.0 1754.9,1664.3 1755.5,1662.7 1756.1,1663.3 1756.7,1663.7 1757.3,1665.1 1757.9,1665.1 1758.5,1665.4 1759.1,1665.1 1759.7,1665.1 1760.3,1664.3 1760.9,1664.2 1761.5,1664.2 1762.1,1664.6 1762.7,1664.3 1763.3,1664.0 1763.9,1663.8 1764.5,1664.0 1765.1,1664.1 1765.7,1664.0 1766.3,1663.8 1766.9,1663.2 1767.5,1664.0 1768.1,1664.0 1768.7,1664.5 1769.3,1664.1 1769.9,1664.9 1770.5,1664.4 1771.1,1664.1 1771.7,1663.9 1772.3,1664.7 1772.9,1664.6 1773.5,1664.1 1774.1,1664.2 1774.7,1664.8 1775.3,1665.4 1775.9,1664.8 1776.5,1664.6 1777.1,1664.5 1777.7,1665.0 1778.3,1664.4 1778.9,1664.5 1779.5,1664.1 1780.1,1664.2 1780.7,1664.2 1781.3,1664.3 1781.9,1664.6 1782.5,1664.6 1783.1,1664.1 1783.7,1664.3 1784.3,1664.3 1784.9,1664.9 1785.5,1665.4 1786.1,1664.8 1786.7,1664.1 1787.3,1663.8 1787.9,1664.4 1788.5,1665.8 1789.1,1665.9 1789.7,1665.5 1790.3,1665.0 1790.9,1664.5 1791.5,1664.3 1792.1,1664.9 1792.7,1665.4 1793.3,1666.2 1793.9,1665.4 1794.5,1666.0 1795.1,1665.9 1795.7,1666.1 1796.3,1665.1 1796.9,1664.5 1797.5,1664.6 1798.1,1665.5 1798.7,1666.2 1799.3,1665.8 1799.9,1665.3 1800.5,1664.9 1801.1,1665.4 1801.7,1665.6 1802.3,1666.0 1802.9,1665.6 1803.5,1665.7 1804.1,1665.8 1804.7,1665.9 1805.3,1665.1 1805.9,1665.1 1806.5,1665.6 1807.1,1665.9 1807.7,1665.7 1808.3,1665.2 1808.9,1665.8 1809.5,1666.0 1810.1,1665.1 1810.7,1665.0 1811.3,1664.3 1811.9,1664.6 1812.5,1664.6 1813.1,1665.0 1813.7,1665.6 1814.3,1666.5 1814.9,1666.9 1815.5,1666.9 1816.1,1665.4 1816.7,1664.9 1817.3,1664.3 1817.9,1664.4 1818.5,1664.2 1819.1,1664.4 1819.7,1664.5 1820.3,1664.5 1820.9,1664.2 1821.5,1663.8 1822.1,1664.3 1822.7,1664.9 1823.3,1665.7 1823.9,1665.9 1824.5,1665.7 1825.1,1665.5 1825.7,1664.5 1826.3,1665.4 1826.9,1665.5 1827.5,1665.8 1828.1,1664.4 1828.7,1663.8 1829.3,1663.0 1829.9,1662.7 1830.5,1662.5 1831.1,1662.9 1831.7,1662.8 1832.3,1662.9 1832.9,1662.7 1833.5,1663.3 1834.1,1663.2 1834.7,1663.6 1835.3,1664.0 1835.9,1664.1 1836.5,1665.3 1837.1,1665.0 1837.7,1666.3 1838.3,1665.3 1838.9,1665.8 1839.5,1664.7 1840.1,1664.7 1840.7,1664.5 1841.3,1665.3 1841.9,1665.3 1842.5,1665.8 1843.1,1665.2 1843.7,1665.8 1844.3,1665.5 1844.9,1666.0 1845.5,1665.4 1846.1,1665.8 1846.7,1665.8 1847.3,1666.4 1847.9,1665.4 1848.5,1664.6 1849.1,1664.3 1849.7,1664.9 1850.3,1665.4 1850.9,1665.5 1851.5,1665.1 1852.1,1665.8 1852.7,1666.1 1853.3,1666.1 1853.9,1666.0 1854.5,1666.3 1855.1,1666.6 1855.7,1665.9 1856.3,1665.1 1856.9,1664.7 1857.5,1664.7 1858.1,1665.2 1858.7,1665.8 1859.3,1666.2 1859.9,1666.4 1860.5,1666.3 1861.1,1665.8 1861.7,1664.9 1862.3,1664.6 1862.9,1664.7 1863.5,1665.2 1864.1,1665.3 1864.7,1665.2 1865.3,1665.1 1865.9,1665.2 1866.5,1665.7 1867.1,1665.8 1867.7,1666.1 1868.3,1665.9 1868.9,1665.8 1869.5,1665.7 1870.1,1666.4 1870.7,1666.6 1871.3,1667.0 1871.9,1666.8 1872.5,1667.6 1873.1,1666.9 1873.7,1667.1 1874.3,1666.7 1874.9,1666.9 1875.5,1666.1 1876.1,1666.2 1876.7,1666.4 1877.3,1666.4 1877.9,1666.6 1878.5,1666.4 1879.1,1666.1 1879.7,1665.9 1880.3,1666.4 1880.9,1667.2 1881.5,1666.5 1882.1,1666.7 1882.7,1666.5 1883.3,1667.5 1883.9,1666.7 1884.5,1666.6 1885.1,1665.8 1885.7,1665.7 1886.3,1665.4 1886.9,1665.9 1887.5,1666.3 1888.1,1666.3 1888.7,1666.3 1889.3,1666.8 1889.9,1667.4 1890.5,1666.8 1891.1,1666.5 1891.7,1666.5 1892.3,1666.5 1892.9,1666.3 1893.5,1666.2 1894.1,1667.0 1894.7,1666.9 1895.3,1665.7 1895.9,1664.6 1896.5,1664.6 1897.1,1665.5 1897.7,1666.3 1898.3,1666.6 1898.9,1666.4 1899.5,1666.3 1900.1,1666.0 1900.7,1666.2 1901.3,1665.9 1901.9,1667.3 1902.5,1667.6 1903.1,1667.5 1903.7,1666.2 1904.3,1665.7 1904.9,1665.5 1905.5,1665.6 1906.1,1665.5 1906.7,1666.4 1907.3,1666.5 1907.9,1666.5 1908.5,1665.7 1909.1,1665.4 1909.7,1665.7 1910.3,1666.1 1910.9,1667.0 1911.5,1666.8 1912.1,1667.3 1912.7,1666.9 1913.3,1667.2 1913.9,1666.1 1914.5,1665.5 1915.1,1665.8 1915.7,1667.0 1916.3,1667.6 1916.9,1667.6 1917.5,1667.0 1918.1,1666.8 1918.7,1666.2 1919.3,1666.8 1919.9,1667.0 1920.5,1667.2 1921.1,1666.7 1921.7,1666.8 1922.3,1667.0 1922.9,1666.8 1923.5,1667.3 1924.1,1667.3 1924.7,1667.6 1925.3,1667.5 1925.9,1667.8 1926.5,1667.8 1927.1,1667.4 1927.7,1666.7 1928.3,1666.5 1928.9,1665.5 1929.5,1666.3 1930.1,1665.8 1930.7,1666.9 1931.3,1666.2 1931.9,1666.5 1932.5,1666.2 1933.1,1666.6 1933.7,1667.2 1934.3,1668.0 1934.9,1668.0 1935.5,1668.1 1936.1,1667.2 1936.7,1667.4 1937.3,1667.1 1937.9,1667.2 1938.5,1666.9 1939.1,1666.8 1939.7,1667.1 1940.3,1667.3 1940.9,1667.1 1941.5,1666.8 1942.1,1666.9 1942.7,1666.5 1943.3,1666.5 1943.9,1666.8 1944.5,1666.5 1945.1,1666.4 1945.7,1666.1 1946.3,1666.5 1946.9,1667.7 1947.5,1666.6 1948.1,1667.7 1948.7,1667.3 1949.3,1668.6 1949.9,1668.0 1950.5,1667.6 1951.1,1666.9 1951.7,1667.3 1952.3,1666.8 1952.9,1667.0 1953.5,1667.1 1954.1,1667.1 1954.7,1667.1 1955.3,1666.8 1955.9,1666.7 1956.5,1667.3 1957.1,1667.3 1957.7,1667.3 1958.3,1666.8 1958.9,1666.4 1959.5,1666.8 1960.1,1666.8 1960.7,1666.8 1961.3,1667.5 1961.9,1667.2 1962.5,1667.8 1963.1,1667.4 1963.7,1668.0 1964.3,1667.5 1964.9,1667.3 1965.5,1666.6 1966.1,1667.0 1966.7,1667.6 1967.3,1668.8 1967.9,1669.0 1968.5,1668.8 1969.1,1668.0 1969.7,1667.6 1970.3,1667.6 1970.9,1668.2 1971.5,1668.4 1972.1,1668.1 1972.7,1667.3 1973.3,1667.5 1973.9,1668.0 1974.5,1668.1 1975.1,1668.1 1975.7,1667.8 1976.3,1667.8 1976.9,1667.2 1977.5,1666.7 1978.1,1667.1 1978.7,1666.9 1979.3,1667.4 1979.9,1666.8 1980.5,1667.5 1981.1,1667.7 1981.7,1668.0 1982.3,1667.2 1982.9,1667.2 1983.5,1666.6 1984.1,1667.4 1984.7,1667.5 1985.3,1668.1 1985.9,1668.7 1986.5,1668.8 1987.1,1669.1 1987.7,1668.4 1988.3,1668.1 1988.9,1668.3 1989.5,1668.6 1990.1,1668.2 1990.7,1668.3 1991.3,1668.1 1991.9,1668.9 1992.5,1668.7 1993.1,1668.1 1993.7,1667.3 1994.3,1667.8 1994.9,1668.4 1995.5,1668.3 1996.1,1667.8 1996.7,1667.6 1997.3,1667.4 1997.9,1666.5 1998.5,1666.0 1999.1,1666.8 1999.7,1667.6 2000.3,1668.1 2000.9,1668.1 2001.5,1668.4 2002.1,1667.7 2002.7,1667.5 2003.3,1667.0 2003.9,1667.3 2004.5,1667.2 2005.1,1667.5 2005.7,1667.8 2006.3,1667.5 2006.9,1667.4 2007.5,1668.2 2008.1,1668.3 2008.7,1667.9 2009.3,1667.2 2009.9,1667.8 2010.5,1668.5 2011.1,1668.0 2011.7,1668.1 2012.3,1667.6 2012.9,1667.5 2013.5,1666.8 2014.1,1667.0 2014.7,1667.5 2015.3,1667.8 2015.9,1667.6 2016.5,1667.4 2017.1,1666.8 2017.7,1666.7 2018.3,1665.1 2018.9,1663.4 2019.5,1661.8 2020.1,1659.3 2020.7,1655.8 2021.3,1649.2 2021.9,1641.8 2022.5,1637.5 2023.1,1642.3 2023.7,1649.4 2024.3,1656.1 2024.9,1660.4 2025.5,1663.9 2026.1,1665.2 2026.7,1665.7 2027.3,1667.1 2027.9,1667.3 2028.5,1667.4 2029.1,1667.0 2029.7,1667.9 2030.3,1668.1 2030.9,1668.6 2031.5,1668.4 2032.1,1668.4 2032.7,1668.1 2033.3,1668.0 2033.9,1668.1 2034.5,1668.3 2035.1,1668.2 2035.7,1668.9 2036.3,1668.9 2036.9,1668.9 2037.5,1668.7 2038.1,1668.5 2038.7,1669.3 2039.3,1668.9 2039.9,1669.2 2040.5,1669.1 2041.1,1668.9 2041.7,1668.9 2042.3,1669.6 2042.9,1669.0 2043.5,1669.0 2044.1,1668.4 2044.7,1668.9 2045.3,1668.3 2045.9,1669.0 2046.5,1669.2 2047.1,1670.5 2047.7,1669.9 2048.3,1670.1 2048.9,1669.5 2049.5,1669.5 2050.1,1669.9 2050.7,1669.9 2051.3,1669.8 2051.9,1669.4 2052.5,1669.7 2053.1,1670.0 2053.7,1669.6 2054.3,1668.8 2054.9,1668.7 2055.5,1668.8 2056.1,1668.9 2056.7,1668.4 2057.3,1668.6 2057.9,1668.9 2058.5,1669.6 2059.1,1669.7 2059.7,1670.3 2060.3,1669.9 2060.9,1671.1 2061.5,1670.7 2062.1,1670.9 2062.7,1669.5 2063.3,1668.1 2063.9,1667.9 2064.5,1668.1 2065.1,1669.9 2065.7,1669.4 2066.3,1670.1 2066.9,1669.3 2067.5,1670.0 2068.1,1668.4 2068.7,1668.6 2069.3,1668.2 2069.9,1669.3 2070.5,1669.3 2071.1,1669.0 2071.7,1669.1 2072.3,1669.4 2072.9,1670.0 2073.5,1670.0 2074.1,1670.2 2074.7,1669.9 2075.3,1669.1 2075.9,1668.2 2076.5,1668.7 2077.1,1669.4 2077.7,1670.0 2078.3,1669.3 2078.9,1669.1 2079.5,1669.0 2080.1,1669.1 2080.7,1668.8 2081.3,1669.6 2081.9,1669.8 2082.5,1669.8 2083.1,1668.6 2083.7,1668.2 2084.3,1668.7 2084.9,1669.5 2085.5,1669.6 2086.1,1669.4 2086.7,1669.0 2087.3,1668.7 2087.9,1669.1 2088.5,1669.4 2089.1,1670.7 2089.7,1670.0 2090.3,1669.8 2090.9,1669.2 2091.5,1669.4 2092.1,1668.9 2092.7,1668.2 2093.3,1668.4 2093.9,1669.0 2094.5,1669.3 2095.1,1669.6 2095.7,1669.9 2096.3,1670.0 2096.9,1669.7 2097.5,1669.2 2098.1,1669.3 2098.7,1669.6 2099.3,1669.7 2099.9,1669.7 2100.5,1669.3 2101.1,1668.7 2101.7,1668.2 2102.3,1668.6 2102.9,1669.3 2103.5,1670.2 2104.1,1670.0 2104.7,1670.1 2105.3,1670.0 2105.9,1670.4 2106.5,1669.8 2107.1,1669.3 2107.7,1668.9 2108.3,1668.8 2108.9,1669.0 2109.5,1669.4 2110.1,1669.6 2110.7,1670.1 2111.3,1669.6 2111.9,1669.7 2112.5,1668.9 2113.1,1668.8 2113.7,1669.0 2114.3,1669.1 2114.9,1670.0 2115.5,1670.0 2116.1,1670.2 2116.7,1669.5 2117.3,1668.8 2117.9,1668.6 2118.5,1668.3 2119.1,1669.2 2119.7,1669.2 2120.3,1670.1 2120.9,1670.1 2121.5,1670.4 2122.1,1669.9 2122.7,1669.7 2123.3,1669.6 2123.9,1669.8 2124.5,1669.5 2125.1,1669.5 2125.7,1670.1 2126.3,1670.3 2126.9,1670.0 2127.5,1668.8 2128.1,1668.3 2128.7,1668.8 2129.3,1669.1 2129.9,1669.8 2130.5,1670.0 2131.1,1670.9 2131.7,1670.5 2132.3,1670.2 2132.9,1669.5 2133.5,1670.0 2134.1,1669.7 2134.7,1669.5 2135.3,1669.9 2135.9,1670.0 2136.5,1670.1 2137.1,1670.0 2137.7,1670.1 2138.3,1670.2 2138.9,1669.8 2139.5,1670.1 2140.1,1670.1 2140.7,1670.0 2141.3,1669.0 2141.9,1668.7 2142.5,1668.4 2143.1,1668.7 2143.7,1668.9 2144.3,1668.6 2144.9,1668.5 2145.5,1668.7 2146.1,1669.5 2146.7,1669.1 2147.3,1669.4 2147.9,1669.0 2148.5,1668.9 2149.1,1668.1 2149.7,1668.3 2150.3,1669.1 2150.9,1669.9 2151.5,1670.0 2152.1,1669.2 2152.7,1668.5 2153.3,1668.1 2153.9,1668.5 2154.5,1668.1 2155.1,1668.4 2155.7,1668.7 2156.3,1669.3 2156.9,1669.4 2157.5,1668.8 2158.1,1668.4 2158.7,1668.0 2159.3,1668.7 2159.9,1669.6 2160.5,1669.7 2161.1,1669.7 2161.7,1669.2 2162.3,1669.9 2162.9,1669.6 2163.5,1669.6 2164.1,1669.3 2164.7,1668.8 2165.3,1668.7 2165.9,1667.8 2166.5,1668.2 2167.1,1668.5 2167.7,1669.0 2168.3,1668.8 2168.9,1669.3 2169.5,1669.2 2170.1,1669.1 2170.7,1669.0 2171.3,1669.7 2171.9,1670.0 2172.5,1668.9 2173.1,1668.2 2173.7,1668.3 2174.3,1668.9 2174.9,1669.7 2175.5,1669.0 2176.1,1669.2 2176.7,1668.4 2177.3,1669.4 2177.9,1669.1 2178.5,1669.7 2179.1,1669.0 2179.7,1668.5 2180.3,1667.7 2180.9,1667.7 2181.5,1667.8 2182.1,1668.7 2182.7,1669.4 2183.3,1669.9 2183.9,1669.0 2184.5,1668.5 2185.1,1668.1 2185.7,1669.0 2186.3,1668.7 2186.9,1668.6 2187.5,1667.4 2188.1,1666.0 2188.7,1665.0 2189.3,1664.2 2189.9,1664.5 2190.5,1663.6 2191.1,1662.4 2191.7,1660.8 2192.3,1660.0 2192.9,1658.6 2193.5,1657.1 2194.1,1655.1 2194.5,1654.3"/>
<polyline class="c" stroke="#08a863" stroke-width="8.8" stroke-linejoin="round" stroke-miterlimit="10" points="194.0,1132.8 194.6,1133.2 195.2,1133.4 195.8,1134.2 196.4,1134.5 197.0,1134.8 197.6,1134.7 198.2,1135.0 198.8,1135.1 199.4,1135.5 200.0,1135.4 200.6,1135.4 201.2,1134.8 201.8,1133.9 202.4,1132.8 203.0,1131.4 203.6,1130.4 204.2,1128.8 204.8,1126.7 205.4,1124.5 206.0,1122.6 206.6,1119.9 207.2,1118.4 207.8,1116.3 208.4,1116.2 209.0,1116.2 209.6,1117.1 210.2,1118.1 210.8,1120.2 211.4,1121.5 212.0,1123.5 212.6,1124.7 213.2,1126.3 213.8,1127.6 214.4,1128.4 215.0,1130.4 215.6,1130.3 216.2,1130.1 216.8,1129.2 217.4,1129.4 218.0,1128.4 218.6,1127.4 219.2,1126.1 219.8,1125.2 220.4,1123.5 221.0,1121.7 221.6,1119.4 222.2,1116.8 222.8,1113.9 223.4,1111.9 224.0,1110.6 224.6,1110.0 225.2,1109.8 225.8,1109.7 226.4,1111.3 227.0,1113.4 227.6,1115.3 228.2,1116.9 228.8,1118.1 229.4,1120.8 230.0,1122.8 230.6,1124.6 231.2,1125.3 231.8,1126.0 232.4,1126.1 233.0,1126.5 233.6,1126.1 234.2,1126.4 234.8,1125.6 235.4,1125.3 236.0,1123.5 236.6,1121.8 237.2,1118.5 237.8,1115.9 238.4,1112.5 239.0,1110.0 239.6,1107.1 240.2,1105.2 240.8,1102.6 241.4,1101.5 242.0,1100.3 242.6,1102.1 243.2,1102.4 243.8,1104.4 244.4,1105.6 245.0,1109.7 245.6,1112.4 246.2,1115.9 246.8,1117.5 247.4,1119.4 248.0,1120.9 248.6,1122.5 249.2,1123.7 249.8,1124.4 250.4,1123.9 251.0,1123.7 251.6,1122.4 252.2,1121.5 252.8,1120.5 253.4,1118.4 254.0,1115.6 254.6,1111.4 255.2,1107.7 255.8,1105.0 256.4,1101.8 257.0,1099.2 257.6,1096.7 258.2,1095.8 258.8,1096.7 259.4,1096.4 260.0,1098.1 260.6,1099.6 261.2,1102.8 261.8,1105.3 262.4,1108.3 263.0,1112.5 263.6,1115.2 264.2,1116.7 264.8,1118.3 265.4,1120.5 266.0,1121.7 266.6,1120.6 267.2,1120.5 267.8,1120.3 268.4,1120.9 269.0,1119.0 269.6,1117.1 270.2,1114.0 270.8,1111.6 271.4,1108.9 272.0,1104.7 272.6,1100.3 273.2,1097.2 273.8,1095.2 274.4,1093.0 275.0,1091.1 275.6,1090.9 276.2,1092.1 276.8,1093.5 277.4,1095.8 278.0,1098.6 278.6,1102.2 279.2,1105.4 279.8,1108.8 280.4,1111.7 281.0,1115.1 281.6,1117.4 282.2,1118.7 282.8,1119.2 283.4,1119.4 284.0,1119.9 284.6,1119.6 285.2,1119.5 285.8,1118.4 286.4,1116.3 287.0,1112.9 287.6,1109.8 288.2,1106.7 288.8,1103.3 289.4,1099.0 290.0,1094.9 290.6,1092.5 291.2,1091.5 291.8,1091.5 292.4,1090.6 293.0,1091.5 293.6,1092.6 294.2,1095.6 294.8,1098.2 295.4,1101.4 296.0,1104.4 296.6,1106.7 297.2,1109.7 297.8,1111.8 298.4,1114.8 299.0,1116.6 299.6,1118.5 300.2,1118.7 300.8,1118.5 301.4,1118.0 302.0,1117.1 302.6,1116.4 303.2,1114.6 303.8,1112.0 304.4,1108.9 305.0,1105.5 305.6,1102.4 306.2,1099.5 306.8,1097.1 307.4,1094.5 308.0,1092.1 308.6,1089.5 309.2,1089.4 309.8,1090.0 310.4,1091.5 311.0,1093.9 311.6,1097.2 312.2,1101.0 312.8,1104.1 313.4,1106.8 314.0,1110.5 314.6,1112.7 315.2,1115.1 315.8,1117.0 316.4,1118.5 317.0,1119.2 317.6,1118.4 318.2,1117.7 318.8,1116.8 319.4,1115.8 320.0,1114.0 320.6,1111.6 321.2,1108.8 321.8,1106.1 322.4,1101.7 323.0,1097.1 323.6,1092.7 324.2,1090.9 324.8,1089.4 325.4,1089.0 326.0,1087.9 326.6,1088.0 327.2,1089.6 327.8,1092.5 328.4,1095.8 329.0,1099.4 329.6,1103.4 330.2,1107.4 330.8,1110.3 331.4,1112.0 332.0,1114.0 332.6,1116.0 333.2,1117.7 333.8,1117.9 334.4,1117.6 335.0,1117.9 335.6,1117.5 336.2,1116.7 336.8,1114.2 337.4,1111.6 338.0,1108.7 338.6,1105.4 339.2,1101.7 339.8,1098.1 340.4,1095.9 341.0,1093.9 341.6,1092.8 342.2,1091.2 342.8,1090.9 343.4,1090.5 344.0,1091.9 344.6,1094.9 345.2,1098.6 345.8,1102.5 346.4,1105.7 347.0,1109.0 347.6,1111.8 348.2,1114.4 348.8,1116.8 349.4,1118.6 350.0,1119.7 350.6,1119.9 351.2,1119.5 351.8,1119.1 352.4,1118.1 353.0,1117.7 353.6,1115.2 354.2,1113.1 354.8,1110.7 355.4,1108.1 356.0,1104.3 356.6,1099.9 357.2,1097.4 357.8,1095.1 358.4,1093.4 359.0,1091.8 359.6,1091.5 360.2,1093.3 360.8,1095.0 361.4,1097.4 362.0,1099.0 362.6,1102.6 363.2,1106.5 363.8,1110.5 364.4,1113.6 365.0,1115.6 365.6,1117.7 366.2,1119.1 366.8,1120.4 367.4,1120.1 368.0,1120.0 368.6,1119.8 369.2,1119.8 369.8,1118.4 370.4,1117.1 371.0,1115.0 371.6,1112.5 372.2,1109.2 372.8,1105.7 373.4,1103.5 374.0,1099.9 374.6,1097.8 375.2,1095.1 375.8,1095.0 376.4,1095.4 377.0,1096.5 377.6,1098.2 378.2,1099.6 378.8,1103.3 379.4,1106.6 380.0,1110.6 380.6,1112.4 381.2,1114.5 381.8,1117.0 382.4,1119.4 383.0,1121.2 383.6,1121.8 384.2,1121.8 384.8,1122.3 385.4,1122.1 386.0,1122.3 386.6,1120.7 387.2,1119.3 387.8,1116.7 388.4,1114.8 389.0,1112.1 389.6,1109.6 390.2,1106.3 390.8,1103.2 391.4,1099.3 392.0,1097.6 392.6,1096.2 393.2,1097.1 393.8,1097.2 394.4,1098.3 395.0,1100.3 395.6,1103.5 396.2,1107.8 396.8,1111.0 397.4,1113.6 398.0,1116.5 398.6,1118.9 399.2,1122.0 399.8,1122.9 400.4,1123.7 401.0,1123.7 401.6,1124.4 402.2,1124.2 402.8,1124.0 403.4,1122.4 404.0,1122.3 404.6,1119.7 405.2,1117.0 405.8,1114.1 406.4,1112.1 407.0,1111.0 407.6,1109.2 408.2,1107.2 408.8,1105.0 409.4,1103.4 410.0,1103.0 410.6,1103.4 411.2,1104.7 411.8,1105.6 412.4,1108.3 413.0,1110.9 413.6,1115.7 414.2,1118.7 414.8,1121.0 415.4,1122.4 416.0,1123.3 416.6,1124.6 417.2,1124.4 417.8,1125.9 418.4,1126.5 419.0,1126.7 419.6,1125.8 420.2,1125.1 420.8,1124.5 421.4,1123.0 422.0,1120.1 422.6,1117.3 423.2,1114.7 423.8,1112.9 424.4,1110.6 425.0,1108.2 425.6,1106.9 426.2,1106.0 426.8,1106.7 427.4,1106.9 428.0,1108.8 428.6,1110.7 429.2,1113.0 429.8,1115.4 430.4,1116.9 431.0,1118.8 431.6,1121.1 432.2,1124.0 432.8,1126.5 433.4,1128.3 434.0,1128.5 434.6,1128.3 435.2,1127.9 435.8,1127.7 436.4,1127.3 437.0,1125.8 437.6,1125.1 438.2,1123.2 438.8,1121.9 439.4,1118.8 440.0,1117.4 440.6,1114.5 441.2,1113.3 441.8,1110.4 442.4,1109.4 443.0,1108.7 443.6,1108.9 444.2,1109.6 444.8,1110.1 445.4,1111.1 446.0,1113.2 446.6,1115.9 447.2,1118.8 447.8,1121.2 448.4,1122.9 449.0,1124.8 449.6,1126.1 450.2,1127.2 450.8,1129.2 451.4,1129.0 452.0,1129.6 452.6,1129.1 453.2,1128.7 453.8,1127.2 454.4,1126.0 455.0,1125.3 455.6,1124.5 456.2,1122.8 456.8,1120.9 457.4,1118.3 458.0,1115.0 458.6,1113.7 459.2,1112.6 459.8,1113.2 460.4,1113.0 461.0,1113.3 461.6,1114.7 462.2,1116.5 462.8,1119.2 463.4,1120.0 464.0,1121.6 464.6,1123.1 465.2,1125.5 465.8,1126.9 466.4,1128.7 467.0,1130.0 467.6,1131.3 468.2,1131.2 468.8,1131.7 469.4,1131.5 470.0,1130.2 470.6,1128.7 471.2,1127.6 471.8,1127.6 472.4,1126.1 473.0,1124.1 473.6,1121.4 474.2,1119.9 474.8,1118.0 475.4,1116.5 476.0,1114.7 476.6,1114.4 477.2,1114.2 477.8,1114.1 478.4,1114.8 479.0,1115.7 479.6,1117.9 480.2,1119.2 480.8,1121.5 481.4,1123.2 482.0,1124.1 482.6,1124.5 483.2,1124.2 483.8,1125.3 484.4,1125.5 485.0,1126.1 485.6,1124.6 486.2,1122.8 486.8,1121.6 487.4,1120.2 488.0,1119.0 488.6,1115.9 489.2,1113.2 489.8,1110.0 490.4,1105.7 491.0,1102.3 491.6,1098.4 492.2,1095.9 492.8,1094.1 493.4,1093.8 494.0,1094.3 494.6,1094.5 495.2,1096.8 495.8,1100.3 496.4,1104.5 497.0,1107.4 497.6,1110.2 498.2,1112.8 498.8,1116.1 499.4,1119.1 500.0,1122.0 500.6,1123.1 501.2,1124.1 501.8,1124.7 502.4,1125.5 503.0,1126.3 503.6,1127.6 504.2,1128.3 504.8,1128.9 505.4,1127.7 506.0,1127.2 506.6,1125.5 507.2,1124.9 507.8,1124.5 508.4,1125.1 509.0,1124.8 509.6,1124.1 510.2,1123.0 510.8,1122.4 511.4,1122.7 512.0,1123.9 512.6,1125.2 513.2,1127.3 513.8,1128.5 514.4,1130.0 515.0,1131.1 515.6,1132.7 516.2,1134.5 516.8,1136.8 517.4,1138.5 518.0,1140.0 518.6,1140.7 519.2,1141.7 519.8,1141.5 520.4,1141.5 521.0,1140.9 521.6,1140.6 522.2,1139.5 522.8,1137.9 523.4,1136.5 524.0,1135.3 524.6,1135.1 525.2,1134.4 525.8,1133.7 526.4,1133.4 527.0,1134.0 527.6,1134.5 528.2,1134.9 528.8,1134.7 529.4,1135.1 530.0,1135.8 530.6,1137.0 531.2,1138.2 531.8,1140.0 532.4,1141.2 533.0,1142.1 533.6,1142.6 534.2,1144.1 534.8,1145.0 535.4,1145.6 536.0,1144.8 536.6,1144.6 537.2,1143.7 537.8,1143.6 538.4,1144.0 539.0,1143.2 539.6,1143.0 540.2,1140.9 540.8,1140.2 541.4,1138.9 542.0,1138.6 542.6,1138.0 543.2,1136.4 543.8,1136.0 544.4,1135.4 545.0,1137.3 545.6,1137.6 546.2,1138.8 546.8,1138.3 547.4,1139.2 548.0,1139.8 548.6,1141.7 549.2,1142.9 549.8,1144.5 550.4,1144.6 551.0,1145.1 551.6,1145.7 552.2,1145.8 552.8,1145.4 553.4,1145.1 554.0,1145.0 554.6,1145.4 555.2,1145.2 555.8,1144.8 556.4,1144.7 557.0,1143.2 557.6,1143.2 558.2,1142.5 558.8,1141.8 559.4,1140.4 560.0,1139.0 560.6,1138.9 561.2,1139.4 561.8,1139.5 562.4,1140.3 563.0,1140.0 563.6,1141.2 564.2,1141.1 564.8,1143.6 565.4,1145.0 566.0,1146.9 566.6,1146.6 567.2,1147.8 567.8,1147.4 568.4,1148.1 569.0,1148.8 569.6,1149.6 570.2,1149.6 570.8,1149.0 571.4,1148.6 572.0,1148.3 572.6,1148.0 573.2,1147.8 573.8,1147.2 574.4,1146.0 575.0,1145.3 575.6,1144.5 576.2,1144.7 576.8,1144.5 577.4,1144.2 578.0,1142.7 578.6,1142.8 579.2,1143.6 579.8,1144.8 580.4,1144.4 581.0,1144.4 581.6,1146.0 582.2,1147.2 582.8,1148.3 583.4,1148.7 584.0,1150.2 584.6,1150.8 585.2,1151.0 585.8,1150.5 586.4,1151.2 587.0,1151.8 587.6,1151.9 588.2,1150.6 588.8,1149.6 589.4,1149.5 590.0,1149.3 590.6,1149.4 591.2,1148.7 591.8,1148.5 592.4,1147.8 593.0,1147.4 593.6,1146.6 594.2,1146.0 594.8,1146.7 595.4,1146.8 596.0,1147.0 596.6,1147.0 597.2,1148.1 597.8,1148.7 598.4,1148.5 599.0,1149.5 599.6,1151.0 600.2,1152.7 600.8,1153.1 601.4,1153.5 602.0,1152.8 602.6,1153.1 603.2,1152.5 603.8,1153.0 604.4,1153.2 605.0,1153.8 605.6,1153.1 606.2,1152.9 606.8,1151.9 607.4,1151.4 608.0,1150.3 608.6,1149.3 609.2,1149.3 609.8,1149.0 610.4,1149.3 611.0,1149.3 611.6,1149.0 612.2,1149.2 612.8,1148.7 613.4,1149.2 614.0,1149.4 614.6,1150.3 615.2,1150.9 615.8,1152.0 616.4,1152.1 617.0,1152.0 617.6,1152.3 618.2,1153.5 618.8,1154.5 619.4,1155.1 620.0,1155.5 620.6,1155.6 621.2,1155.2 621.8,1154.2 622.4,1153.4 623.0,1152.9 623.6,1153.0 624.2,1153.0 624.8,1152.7 625.4,1152.0 626.0,1151.6 626.6,1151.3 627.2,1151.1 627.8,1150.8 628.4,1150.5 629.0,1150.0 629.6,1150.3 630.2,1151.1 630.8,1151.9 631.4,1152.2 632.0,1153.5 632.6,1153.9 633.2,1154.6 633.8,1154.3 634.4,1154.6 635.0,1155.1 635.6,1156.0 636.2,1156.9 636.8,1157.2 637.4,1156.7 638.0,1156.3 638.6,1156.3 639.2,1155.7 639.8,1155.2 640.4,1154.4 641.0,1154.4 641.6,1154.2 642.2,1153.9 642.8,1152.3 643.4,1152.3 644.0,1152.6 644.6,1153.8 645.2,1153.2 645.8,1152.0 646.4,1151.8 647.0,1151.8 647.6,1152.8 648.2,1153.0 648.8,1154.2 649.4,1154.9 650.0,1154.8 650.6,1154.9 651.2,1154.4 651.8,1154.8 652.4,1154.6 653.0,1154.9 653.6,1155.9 654.2,1155.6 654.8,1156.1 655.4,1156.4 656.0,1157.1 656.6,1156.7 657.2,1155.6 657.8,1154.6 658.4,1154.2 659.0,1154.0 659.6,1154.5 660.2,1155.0 660.8,1154.9 661.4,1154.6 662.0,1154.2 662.6,1153.4 663.2,1153.0 663.8,1152.5 664.4,1153.1 665.0,1154.2 665.6,1154.6 666.2,1156.0 666.8,1156.7 667.4,1157.5 668.0,1156.9 668.6,1156.7 669.2,1156.8 669.8,1156.6 670.4,1156.4 671.0,1156.2 671.6,1156.6 672.2,1156.7 672.8,1156.4 673.4,1155.3 674.0,1153.7 674.6,1151.4 675.2,1150.0 675.8,1147.3 676.4,1146.2 677.0,1146.2 677.6,1148.6 678.2,1150.0 678.8,1150.7 679.4,1152.1 680.0,1153.0 680.6,1154.9 681.2,1155.0 681.8,1155.9 682.4,1156.7 683.0,1157.2 683.6,1158.0 684.2,1157.1 684.8,1157.6 685.4,1157.2 686.0,1158.0 686.6,1157.8 687.2,1158.1 687.8,1158.9 688.4,1158.2 689.0,1158.0 689.6,1157.0 690.2,1158.1 690.8,1157.7 691.4,1157.9 692.0,1157.1 692.6,1157.2 693.2,1157.2 693.8,1156.9 694.4,1156.5 695.0,1155.4 695.6,1155.7 696.2,1156.0 696.8,1156.5 697.4,1157.1 698.0,1156.2 698.6,1156.0 699.2,1155.3 699.8,1156.3 700.4,1157.4 701.0,1158.2 701.6,1158.7 702.2,1159.1 702.8,1159.1 703.4,1158.7 704.0,1158.0 704.6,1159.1 705.2,1158.6 705.8,1159.0 706.4,1158.6 707.0,1159.6 707.6,1159.1 708.2,1158.3 708.8,1158.2 709.4,1158.7 710.0,1158.0 710.6,1157.8 711.2,1157.2 711.8,1157.9 712.4,1158.1 713.0,1157.9 713.6,1157.0 714.2,1156.8 714.8,1157.9 715.4,1159.1 716.0,1159.4 716.6,1160.0 717.2,1159.6 717.8,1160.2 718.4,1159.3 719.0,1159.9 719.6,1159.7 720.2,1160.6 720.8,1160.3 721.4,1160.0 722.0,1158.7 722.6,1159.2 723.2,1159.1 723.8,1159.7 724.4,1158.9 725.0,1158.6 725.6,1158.5 726.2,1158.6 726.8,1158.7 727.4,1158.2 728.0,1157.9 728.6,1156.9 729.2,1157.0 729.8,1157.2 730.4,1158.3 731.0,1157.3 731.6,1156.8 732.2,1155.8 732.8,1156.6 733.4,1158.0 734.0,1159.4 734.6,1160.0 735.2,1159.9 735.8,1160.1 736.4,1160.0 737.0,1160.1 737.6,1159.8 738.2,1158.9 738.8,1158.5 739.4,1158.9 740.0,1159.5 740.6,1159.3 741.2,1158.2 741.8,1157.9 742.4,1158.0 743.0,1157.6 743.6,1157.0 744.2,1154.8 744.8,1154.2 745.4,1153.4 746.0,1153.5 746.6,1153.6 747.2,1154.4 747.8,1154.2 748.4,1154.1 749.0,1153.9 749.6,1154.3 750.2,1154.3 750.8,1153.6 751.4,1153.5 752.0,1152.7 752.6,1152.9 753.2,1153.7 753.8,1153.7 754.4,1153.5 755.0,1152.6 755.6,1153.0 756.2,1152.9 756.8,1153.2 757.4,1152.4 758.0,1151.4 758.6,1150.2 759.2,1149.7 759.8,1149.2 760.4,1149.0 761.0,1149.3 761.6,1149.1 762.2,1148.8 762.8,1148.6 763.4,1148.6 764.0,1148.4 764.6,1147.7 765.2,1148.6 765.8,1149.6 766.4,1150.5 767.0,1150.8 767.6,1151.6 768.2,1152.5 768.8,1152.3 769.4,1152.1 770.0,1152.0 770.6,1152.9 771.2,1152.9 771.8,1152.6 772.4,1152.1 773.0,1151.4 773.6,1151.4 774.2,1151.0 774.8,1151.4 775.4,1150.5 776.0,1150.0 776.6,1148.8 777.2,1148.2 777.8,1148.1 778.4,1147.7 779.0,1147.9 779.6,1146.7 780.2,1146.5 780.8,1145.3 781.4,1145.1 782.0,1144.3 782.6,1144.3 783.2,1143.1 783.8,1141.3 784.4,1139.5 785.0,1138.8 785.6,1140.5 786.2,1143.0 786.8,1145.4 787.4,1147.0 788.0,1148.1 788.6,1148.9 789.2,1149.7 789.8,1150.4 790.4,1151.0 791.0,1150.6 791.6,1149.4 792.2,1148.7 792.8,1148.4 793.4,1148.9 794.0,1148.4 794.6,1148.0 795.2,1147.5 795.8,1147.2 796.4,1147.0 797.0,1147.3 797.6,1148.0 798.2,1148.2 798.8,1147.4 799.4,1146.4 800.0,1146.6 800.6,1147.3 801.2,1148.8 801.8,1149.4 802.4,1150.1 803.0,1150.5 803.6,1151.2 804.2,1152.0 804.8,1152.3 805.4,1151.4 806.0,1150.4 806.6,1149.3 807.2,1149.3 807.8,1149.3 808.4,1149.3 809.0,1148.3 809.6,1146.8 810.2,1144.6 810.8,1141.8 811.4,1137.9 812.0,1133.1 812.6,1127.6 813.2,1119.3 813.8,1114.0 814.4,1115.6 815.0,1123.9 815.6,1131.7 816.2,1137.2 816.8,1141.7 817.4,1145.1 818.0,1147.6 818.6,1149.7 819.2,1151.2 819.8,1152.3 820.4,1152.8 821.0,1152.8 821.6,1153.2 822.2,1153.0 822.8,1153.4 823.4,1153.5 824.0,1153.7 824.6,1154.3 825.2,1153.7 825.8,1153.5 826.4,1152.4 827.0,1151.7 827.6,1151.5 828.2,1150.5 828.8,1150.7 829.4,1150.8 830.0,1151.6 830.6,1152.5 831.2,1153.2 831.8,1153.9 832.4,1154.2 833.0,1154.2 833.6,1154.8 834.2,1155.0 834.8,1155.5 835.4,1156.2 836.0,1157.2 836.6,1158.0 837.2,1157.9 837.8,1158.2 838.4,1157.7 839.0,1157.5 839.6,1156.8 840.2,1157.3 840.8,1157.0 841.4,1157.7 842.0,1157.6 842.6,1157.1 843.2,1156.1 843.8,1155.0 844.4,1154.9 845.0,1154.7 845.6,1155.0 846.2,1154.0 846.8,1153.5 847.4,1153.7 848.0,1154.7 848.6,1155.6 849.2,1155.3 849.8,1155.8 850.4,1155.6 851.0,1156.7 851.6,1157.1 852.2,1158.1 852.8,1158.2 853.4,1158.4 854.0,1157.9 854.6,1157.7 855.2,1157.9 855.8,1158.4 856.4,1158.3 857.0,1157.7 857.6,1157.6 858.2,1158.6 858.8,1159.0 859.4,1158.9 860.0,1157.2 860.6,1156.3 861.2,1155.7 861.8,1156.2 862.4,1156.0 863.0,1155.5 863.6,1156.0 864.2,1156.4 864.8,1156.6 865.4,1155.8 866.0,1156.4 866.6,1156.7 867.2,1158.0 867.8,1158.5 868.4,1158.8 869.0,1158.9 869.6,1158.4 870.2,1159.3 870.8,1159.5 871.4,1160.6 872.0,1160.7 872.6,1160.6 873.2,1160.2 873.8,1159.8 874.4,1159.4 875.0,1159.6 875.6,1159.0 876.2,1158.5 876.8,1157.1 877.4,1156.5 878.0,1155.4 878.6,1155.3 879.2,1155.0 879.8,1155.4 880.4,1154.6 881.0,1154.5 881.6,1154.4 882.2,1154.8 882.8,1156.4 883.4,1157.5 884.0,1158.2 884.6,1157.1 885.2,1157.2 885.8,1156.8 886.4,1158.0 887.0,1158.1 887.6,1158.7 888.2,1158.4 888.8,1158.1 889.4,1157.4 890.0,1157.4 890.6,1156.8 891.2,1156.6 891.8,1155.7 892.4,1155.3 893.0,1153.8 893.6,1144.4 894.2,1130.2 894.8,1112.2 895.4,1091.1 896.0,1068.2 896.6,1042.2 897.2,1015.4 897.8,986.3 898.4,996.3 899.0,1024.2 899.6,1050.9 900.2,1076.3 900.8,1099.2 901.4,1118.3 902.0,1134.9 902.6,1148.4 903.2,1157.1 903.8,1158.3 904.4,1158.1 905.0,1157.5 905.6,1156.7 906.2,1157.1 906.8,1158.2 907.4,1158.3 908.0,1157.9 908.6,1157.4 909.2,1156.7 909.8,1156.3 910.4,1156.4 911.0,1157.6 911.6,1157.2 912.2,1156.9 912.8,1155.5 913.4,1155.0 914.0,1153.2 914.6,1153.8 915.2,1154.1 915.8,1156.2 916.4,1156.3 917.0,1156.9 917.6,1155.7 918.2,1156.7 918.8,1157.0 919.4,1158.1 920.0,1156.9 920.6,1157.7 921.2,1158.4 921.8,1159.2 922.4,1158.9 923.0,1158.6 923.6,1159.2 924.2,1159.1 924.8,1159.5 925.4,1158.7 926.0,1158.1 926.6,1156.8 927.2,1155.3 927.8,1154.6 928.4,1154.7 929.0,1155.3 929.6,1154.8 930.2,1154.2 930.8,1153.0 931.4,1153.2 932.0,1153.2 932.6,1154.5 933.2,1154.5 933.8,1155.0 934.4,1155.9 935.0,1156.4 935.6,1156.7 936.2,1155.7 936.8,1155.4 937.4,1155.5 938.0,1156.3 938.6,1157.1 939.2,1156.6 939.8,1156.4 940.4,1156.5 941.0,1157.3 941.6,1157.0 942.2,1155.7 942.8,1155.1 943.4,1154.9 944.0,1155.3 944.6,1154.3 945.2,1154.4 945.8,1153.6 946.4,1153.3 947.0,1151.3 947.6,1150.7 948.2,1150.2 948.8,1150.9 949.4,1151.4 950.0,1151.6 950.6,1152.7 951.2,1152.5 951.8,1153.0 952.4,1152.7 953.0,1152.9 953.6,1153.4 954.2,1153.7 954.8,1154.0 955.4,1154.4 956.0,1154.1 956.6,1153.4 957.2,1149.8 957.8,1146.6 958.4,1143.7 959.0,1141.4 959.6,1139.4 960.2,1137.4 960.8,1134.2 961.4,1131.5 962.0,1130.0 962.6,1131.0 963.2,1130.7 963.8,1130.8 964.4,1129.3 965.0,1129.4 965.6,1129.0 966.2,1129.0 966.8,1127.4 967.4,1127.5 968.0,1127.1 968.6,1127.7 969.2,1127.2 969.8,1099.6 970.4,1046.2 971.0,1029.9 971.6,1014.1 972.2,997.9 972.8,981.6 973.4,972.4 974.0,967.6 974.6,962.7 975.2,957.8 975.8,953.1 976.4,946.9 977.0,941.6 977.6,936.3 978.2,932.5 978.8,929.4 979.4,926.7 980.0,924.6 980.6,922.2 981.2,919.4 981.8,918.3 982.4,918.7 983.0,918.7 983.6,919.4 984.2,920.0 984.8,920.6 985.4,921.3 986.0,922.6 986.6,923.7 987.2,925.2 987.8,925.9 988.4,924.8 989.0,922.5 989.6,921.2 990.2,921.0 990.8,920.4 991.4,918.9 992.0,916.4 992.6,913.1 993.2,911.3 993.8,908.4 994.4,906.7 995.0,900.5 995.6,890.8 996.2,880.9 996.8,870.5 997.4,860.9 998.0,836.6 998.6,811.2 999.2,778.3 999.8,741.9 1000.1,184.8"/>
<polyline class="c" stroke="#08a863" stroke-width="8.8" stroke-linejoin="round" stroke-miterlimit="10" points="1021.9,185.5 1022.5,249.0 1023.1,306.4 1023.7,338.5 1024.3,371.1 1024.9,559.0 1025.5,661.1 1026.1,708.0 1026.7,742.9 1027.3,771.0 1027.9,793.2 1028.5,814.7 1029.1,837.0 1029.7,859.6 1030.3,868.7 1030.9,876.5 1031.5,883.8 1032.1,891.8 1032.7,900.7 1033.3,908.2 1033.9,915.4 1034.5,922.8 1035.1,930.0 1035.7,935.0 1036.3,940.4 1036.9,945.0 1037.5,951.5 1038.1,956.6 1038.7,961.9 1039.3,966.0 1039.9,970.3 1040.5,972.7 1041.1,974.4 1041.7,976.1 1042.3,977.3 1042.9,979.4 1043.5,980.9 1044.1,982.9 1044.7,984.9 1045.3,987.1 1045.9,989.8 1046.5,992.5 1047.1,994.8 1047.7,996.1 1048.3,998.1 1048.9,999.4 1049.5,1001.1 1050.1,1002.3 1050.7,1004.4 1051.3,1006.6 1051.9,1007.2 1052.5,1007.5 1053.1,1007.9 1053.7,1009.3 1054.3,1010.5 1054.9,1011.4 1055.5,1011.7 1056.1,1012.5 1056.7,1014.2 1057.3,1016.0 1057.9,1017.0 1058.5,1017.2 1059.1,1017.9 1059.7,1019.6 1060.3,1020.6 1060.9,1021.7 1061.5,1021.6 1062.1,1022.4 1062.7,1023.5 1063.3,1025.6 1063.9,1026.5 1064.5,1026.9 1065.1,1027.7 1065.7,1028.8 1066.3,1029.8 1066.9,1030.5 1067.5,1031.6 1068.1,1033.1 1068.7,1034.1 1069.3,1034.6 1069.9,1035.0 1070.5,1035.5 1071.1,1036.0 1071.7,1036.5 1072.3,1037.8 1072.9,1038.6 1073.5,1040.0 1074.1,1040.3 1074.7,1041.5 1075.3,1041.9 1075.9,1042.6 1076.5,1043.8 1077.1,1044.0 1077.7,1044.3 1078.3,1044.3 1078.9,1045.9 1079.5,1046.9 1080.1,1047.3 1080.7,1047.0 1081.3,1046.9 1081.9,1047.9 1082.5,1048.7 1083.1,1050.5 1083.7,1050.4 1084.3,1051.3 1084.9,1051.2 1085.5,1052.2 1086.1,1052.4 1086.7,1052.3 1087.3,1052.8 1087.9,1053.5 1088.5,1053.3 1089.1,1054.0 1089.7,1053.6 1090.3,1055.0 1090.9,1054.9 1091.5,1055.7 1092.1,1055.5 1092.7,1056.0 1093.3,1055.7 1093.9,1055.4 1094.5,1055.4 1095.1,1055.9 1095.7,1057.2 1096.3,1056.4 1096.9,1055.3 1097.5,1054.1 1098.1,1053.7 1098.7,1052.9 1099.3,1052.6 1099.9,1050.2 1100.5,1043.7 1101.1,1037.2 1101.7,1030.9 1102.3,1027.6 1102.9,1034.1 1103.5,1040.7 1104.1,1047.0 1104.7,1052.9 1105.3,1055.5 1105.9,1058.3 1106.5,1060.6 1107.1,1060.5 1107.7,1059.8 1108.3,1059.2 1108.9,1059.7 1109.5,1061.2 1110.1,1061.6 1110.7,1061.5 1111.3,1062.2 1111.9,1062.3 1112.5,1063.2 1113.1,1062.4 1113.7,1061.6 1114.3,1061.2 1114.9,1059.7 1115.5,1059.2 1116.1,1056.3 1116.7,1054.7 1117.3,1052.9 1117.9,1050.2 1118.5,1053.6 1119.1,1057.7 1119.7,1061.1 1120.3,1064.7 1120.9,1065.4 1121.5,1067.2 1122.1,1069.5 1122.7,1072.2 1123.3,1073.4 1123.9,1073.3 1124.5,1073.7 1125.1,1073.5 1125.7,1074.0 1126.3,1074.0 1126.9,1074.8 1127.5,1075.4 1128.1,1075.6 1128.7,1076.0 1129.3,1077.1 1129.9,1078.1 1130.5,1079.3 1131.1,1079.0 1131.7,1079.5 1132.3,1079.7 1132.9,1080.6 1133.5,1080.5 1134.1,1079.4 1134.7,1078.4 1135.3,1076.8 1135.9,1074.9 1136.5,1073.6 1137.1,1073.0 1137.7,1074.0 1138.3,1073.0 1138.9,1071.5 1139.5,1069.8 1140.1,1067.8 1140.7,1066.0 1141.3,1064.2 1141.9,1062.5 1142.5,1062.0 1143.1,1064.8 1143.7,1067.4 1144.3,1070.6 1144.9,1072.9 1145.5,1075.7 1146.1,1078.7 1146.7,1081.5 1147.3,1084.7 1147.9,1087.0 1148.5,1087.4 1149.1,1087.8 1149.7,1088.9 1150.3,1090.0 1150.9,1092.2 1151.5,1093.1 1152.1,1094.5 1152.7,1095.2 1153.3,1096.9 1153.9,1098.4 1154.5,1099.0 1155.1,1099.9 1155.7,1101.2 1156.3,1102.3 1156.9,1102.1 1157.5,1102.0 1158.1,1102.0 1158.7,1102.3 1159.3,1100.8 1159.9,1099.9 1160.5,1099.2 1161.1,1100.3 1161.7,1100.7 1162.3,1101.5 1162.9,1102.0 1163.5,1102.2 1164.1,1102.2 1164.7,1103.2 1165.3,1103.6 1165.9,1104.4 1166.5,1105.1 1167.1,1106.3 1167.7,1106.2 1168.3,1106.5 1168.9,1107.1 1169.5,1108.6 1170.1,1109.6 1170.7,1110.6 1171.3,1111.1 1171.9,1111.5 1172.5,1111.8 1173.1,1112.1 1173.7,1111.9 1174.3,1111.7 1174.9,1111.3 1175.5,1110.8 1176.1,1110.5 1176.7,1110.0 1177.3,1109.4 1177.9,1109.7 1178.5,1109.9 1179.1,1110.4 1179.7,1109.8 1180.3,1110.1 1180.9,1110.4 1181.5,1110.8 1182.1,1111.0 1182.7,1111.9 1183.3,1112.3 1183.9,1113.7 1184.5,1113.3 1185.1,1113.9 1185.7,1114.5 1186.3,1115.9 1186.9,1116.7 1187.5,1117.0 1188.1,1117.0 1188.7,1117.6 1189.3,1116.8 1189.9,1117.1 1190.5,1116.9 1191.1,1117.9 1191.7,1118.2 1192.3,1117.9 1192.9,1118.1 1193.5,1117.3 1194.1,1116.6 1194.7,1114.8 1195.3,1115.5 1195.9,1116.3 1196.5,1117.0 1197.1,1116.3 1197.7,1116.1 1198.3,1117.3 1198.9,1118.1 1199.5,1119.8 1200.1,1119.8 1200.7,1119.6 1201.3,1119.9 1201.9,1120.6 1202.5,1122.2 1203.1,1123.1 1203.7,1123.8 1204.3,1124.9 1204.9,1124.7 1205.5,1124.8 1206.1,1124.8 1206.7,1124.6 1207.3,1125.4 1207.9,1125.5 1208.5,1125.6 1209.1,1125.1 1209.7,1124.7 1210.3,1124.3 1210.9,1124.2 1211.5,1123.7 1212.1,1123.9 1212.7,1123.1 1213.3,1123.3 1213.9,1123.4 1214.5,1123.7 1215.1,1123.9 1215.7,1124.0 1216.3,1125.2 1216.9,1125.7 1217.5,1126.8 1218.1,1127.8 1218.7,1128.9 1219.3,1128.8 1219.9,1128.8 1220.5,1129.6 1221.1,1130.6 1221.7,1131.3 1222.3,1131.4 1222.9,1131.8 1223.5,1131.2 1224.1,1130.6 1224.7,1130.2 1225.3,1130.1 1225.9,1130.2 1226.5,1130.3 1227.1,1129.9 1227.7,1129.5 1228.3,1129.3 1228.9,1128.7 1229.5,1128.3 1230.1,1127.8 1230.7,1128.5 1231.3,1128.8 1231.9,1129.2 1232.5,1129.2 1233.1,1129.8 1233.7,1130.3 1234.3,1130.2 1234.9,1130.2 1235.5,1129.9 1236.1,1131.5 1236.7,1130.1 1237.3,1129.1 1237.9,1127.2 1238.5,1125.9 1239.1,1124.7 1239.7,1123.9 1240.3,1122.7 1240.9,1121.6 1241.5,1120.0 1242.1,1118.1 1242.7,1117.0 1243.3,1114.0 1243.9,1111.6 1244.5,1107.4 1245.1,1104.4 1245.7,1101.1 1246.3,1089.8 1246.9,1070.7 1247.5,1043.8 1248.1,1015.0 1248.7,996.2 1249.3,978.3 1249.9,960.9 1250.5,953.6 1251.1,946.3 1251.7,944.0 1252.3,950.7 1252.9,957.4 1253.5,970.9 1254.1,989.5 1254.7,1008.2 1255.3,1029.8 1255.9,1056.0 1256.5,1070.6 1257.1,1083.9 1257.7,1095.8 1258.3,1100.6 1258.9,1104.9 1259.5,1109.0 1260.1,1113.8 1260.7,1118.1 1261.3,1123.4 1261.9,1126.9 1262.5,1130.8 1263.1,1132.1 1263.7,1133.2 1264.3,1134.2 1264.9,1135.0 1265.5,1136.3 1266.1,1137.4 1266.7,1137.6 1267.3,1137.2 1267.9,1138.0 1268.5,1138.8 1269.1,1140.2 1269.7,1140.7 1270.3,1141.2 1270.9,1141.2 1271.5,1141.2 1272.1,1141.6 1272.7,1141.9 1273.3,1141.9 1273.9,1142.7 1274.5,1143.0 1275.1,1143.2 1275.7,1142.8 1276.3,1142.5 1276.9,1143.3 1277.5,1142.7 1278.1,1143.1 1278.7,1142.8 1279.3,1143.3 1279.9,1143.9 1280.5,1144.3 1281.1,1144.6 1281.7,1144.6 1282.3,1143.7 1282.9,1144.4 1283.5,1144.5 1284.1,1145.1 1284.7,1145.5 1285.3,1145.8 1285.9,1146.4 1286.5,1146.2 1287.1,1145.6 1287.7,1145.2 1288.3,1145.3 1288.9,1145.3 1289.5,1145.7 1290.1,1145.6 1290.7,1146.3 1291.3,1145.4 1291.9,1145.3 1292.5,1145.3 1293.1,1145.4 1293.7,1145.3 1294.3,1144.2 1294.9,1144.6 1295.5,1143.8 1296.1,1143.2 1296.7,1141.5 1297.3,1140.5 1297.9,1139.7 1298.5,1136.9 1299.1,1133.4 1299.7,1129.2 1300.3,1130.5 1300.9,1134.2 1301.5,1139.5 1302.1,1141.1 1302.7,1143.1 1303.3,1143.2 1303.9,1144.7 1304.5,1145.3 1305.1,1145.5 1305.7,1145.1 1306.3,1144.7 1306.9,1144.9 1307.5,1145.2 1308.1,1145.5 1308.7,1145.6 1309.3,1146.0 1309.9,1146.7 1310.5,1146.9 1311.1,1146.9 1311.7,1146.8 1312.3,1147.4 1312.9,1147.4 1313.5,1147.9 1314.1,1148.4 1314.7,1149.0 1315.3,1148.7 1315.9,1149.1 1316.5,1149.5 1317.1,1149.2 1317.7,1148.1 1318.3,1147.4 1318.9,1146.6 1319.5,1145.9 1320.1,1144.7 1320.7,1144.7 1321.3,1145.3 1321.9,1145.9 1322.5,1147.0 1323.1,1147.2 1323.7,1149.4 1324.3,1150.7 1324.9,1152.4 1325.5,1152.0 1326.1,1152.0 1326.7,1152.3 1327.3,1152.8 1327.9,1153.0 1328.5,1152.3 1329.1,1152.3 1329.7,1151.9 1330.3,1152.0 1330.9,1151.5 1331.5,1152.0 1332.1,1153.0 1332.7,1153.1 1333.3,1153.7 1333.9,1154.0 1334.5,1154.5 1335.1,1153.8 1335.7,1153.3 1336.3,1153.9 1336.9,1154.1 1337.5,1153.8 1338.1,1153.7 1338.7,1153.1 1339.3,1153.7 1339.9,1154.2 1340.5,1155.2 1341.1,1155.6 1341.7,1155.4 1342.3,1155.7 1342.9,1155.6 1343.5,1155.2 1344.1,1154.9 1344.7,1154.9 1345.3,1155.9 1345.9,1156.7 1346.5,1157.1 1347.1,1156.4 1347.7,1155.5 1348.3,1155.4 1348.9,1156.4 1349.5,1156.9 1350.1,1157.1 1350.7,1156.3 1351.3,1156.7 1351.9,1156.9 1352.5,1157.3 1353.1,1157.1 1353.7,1157.8 1354.3,1157.9 1354.9,1158.6 1355.5,1158.5 1356.1,1158.7 1356.7,1158.5 1357.3,1158.1 1357.9,1157.8 1358.5,1157.4 1359.1,1157.2 1359.7,1157.8 1360.3,1158.0 1360.9,1158.7 1361.5,1158.9 1362.1,1157.8 1362.7,1157.8 1363.3,1156.8 1363.9,1158.2 1364.5,1157.8 1365.1,1158.7 1365.7,1159.2 1366.3,1159.0 1366.9,1159.1 1367.5,1158.6 1368.1,1158.6 1368.7,1158.9 1369.3,1159.0 1369.9,1159.7 1370.5,1159.2 1371.1,1160.6 1371.7,1160.7 1372.3,1160.4 1372.9,1158.8 1373.5,1158.9 1374.1,1159.6 1374.7,1160.0 1375.3,1159.8 1375.9,1160.3 1376.5,1160.2 1377.1,1160.2 1377.7,1159.7 1378.3,1159.8 1378.9,1160.8 1379.5,1161.4 1380.1,1161.5 1380.7,1161.3 1381.3,1161.3 1381.9,1162.3 1382.5,1162.1 1383.1,1162.3 1383.7,1161.9 1384.3,1161.8 1384.9,1161.8 1385.5,1161.7 1386.1,1162.0 1386.7,1162.2 1387.3,1162.6 1387.9,1163.4 1388.5,1163.1 1389.1,1162.9 1389.7,1163.5 1390.3,1163.2 1390.9,1163.2 1391.5,1162.7 1392.1,1163.2 1392.7,1163.5 1393.3,1163.2 1393.9,1163.5 1394.5,1163.8 1395.1,1163.7 1395.7,1163.5 1396.3,1163.0 1396.9,1163.0 1397.5,1163.0 1398.1,1162.6 1398.7,1163.1 1399.3,1163.8 1399.9,1165.0 1400.5,1165.3 1401.1,1164.3 1401.7,1164.2 1402.3,1163.5 1402.9,1163.9 1403.5,1164.1 1404.1,1164.0 1404.7,1164.4 1405.3,1163.8 1405.9,1164.2 1406.5,1163.6 1407.1,1163.7 1407.7,1163.6 1408.3,1164.4 1408.9,1164.8 1409.5,1164.5 1410.1,1163.9 1410.7,1163.3 1411.3,1163.5 1411.9,1163.3 1412.5,1163.5 1413.1,1163.9 1413.7,1163.8 1414.3,1163.6 1414.9,1163.9 1415.5,1164.1 1416.1,1164.0 1416.7,1164.5 1417.3,1165.5 1417.9,1165.3 1418.5,1164.2 1419.1,1163.9 1419.7,1164.1 1420.3,1164.6 1420.9,1164.3 1421.5,1165.0 1422.1,1164.2 1422.7,1163.5 1423.3,1162.8 1423.9,1164.3 1424.5,1165.1 1425.1,1165.0 1425.7,1164.8 1426.3,1165.2 1426.9,1165.8 1427.5,1165.5 1428.1,1165.4 1428.7,1166.0 1429.3,1166.2 1429.9,1166.3 1430.5,1165.8 1431.1,1165.7 1431.7,1165.1 1432.3,1165.2 1432.9,1165.3 1433.5,1165.6 1434.1,1165.9 1434.7,1166.2 1435.3,1166.7 1435.9,1165.7 1436.5,1165.8 1437.1,1165.2 1437.7,1165.5 1438.3,1165.0 1438.9,1165.7 1439.5,1166.4 1440.1,1166.4 1440.7,1165.5 1441.3,1165.2 1441.9,1165.2 1442.5,1166.3 1443.1,1165.7 1443.7,1165.1 1444.3,1164.3 1444.9,1164.8 1445.5,1165.4 1446.1,1165.7 1446.7,1166.3 1447.3,1165.8 1447.9,1164.9 1448.5,1162.7 1449.1,1162.1 1449.7,1161.3 1450.3,1159.7 1450.9,1156.6 1451.5,1151.0 1452.1,1145.5 1452.7,1142.8 1453.3,1146.8 1453.9,1152.2 1454.5,1156.2 1455.1,1158.9 1455.7,1161.2 1456.3,1163.4 1456.9,1165.7 1457.5,1166.2 1458.1,1166.2 1458.7,1165.3 1459.3,1166.0 1459.9,1166.5 1460.5,1166.9 1461.1,1166.9 1461.7,1167.1 1462.3,1166.7 1462.9,1166.8 1463.5,1166.7 1464.1,1167.4 1464.7,1167.1 1465.3,1167.8 1465.9,1168.7 1466.5,1169.6 1467.1,1168.6 1467.7,1167.8 1468.3,1167.5 1468.9,1167.5 1469.5,1167.5 1470.1,1166.5 1470.7,1167.8 1471.3,1168.6 1471.9,1169.6 1472.5,1169.0 1473.1,1168.4 1473.7,1168.2 1474.3,1168.4 1474.9,1168.3 1475.5,1169.0 1476.1,1168.7 1476.7,1168.6 1477.3,1168.7 1477.9,1168.9 1478.5,1169.6 1479.1,1168.9 1479.7,1168.2 1480.3,1168.2 1480.9,1167.9 1481.5,1169.3 1482.1,1168.5 1482.7,1168.3 1483.3,1168.1 1483.9,1168.9 1484.5,1169.8 1485.1,1169.2 1485.7,1169.5 1486.3,1168.9 1486.9,1169.3 1487.5,1168.6 1488.1,1169.1 1488.7,1169.7 1489.3,1169.8 1489.9,1170.3 1490.5,1170.2 1491.1,1169.8 1491.7,1169.2 1492.3,1168.8 1492.9,1169.2 1493.5,1169.9 1494.1,1169.3 1494.7,1169.8 1495.3,1170.0 1495.9,1170.8 1496.5,1170.0 1497.1,1169.7 1497.7,1169.6 1498.3,1170.4 1498.9,1170.4 1499.5,1170.9 1500.1,1170.5 1500.7,1171.2 1501.3,1170.0 1501.9,1169.8 1502.5,1169.4 1503.1,1169.8 1503.7,1170.5 1504.3,1169.9 1504.9,1170.5 1505.5,1169.9 1506.1,1170.3 1506.7,1170.3 1507.3,1170.7 1507.9,1170.7 1508.5,1171.5 1509.1,1171.6 1509.7,1171.4 1510.3,1171.0 1510.9,1171.3 1511.5,1172.2 1512.1,1172.6 1512.7,1171.9 1513.3,1171.9 1513.9,1171.7 1514.5,1172.1 1515.1,1171.8 1515.7,1170.1 1516.3,1169.9 1516.9,1170.6 1517.5,1171.1 1518.1,1171.1 1518.7,1170.6 1519.3,1171.6 1519.9,1172.4 1520.5,1171.7 1521.1,1171.5 1521.7,1171.2 1522.3,1171.4 1522.9,1171.4 1523.5,1171.8 1524.1,1172.9 1524.7,1173.2 1525.3,1171.4 1525.9,1170.9 1526.5,1170.8 1527.1,1171.8 1527.7,1171.8 1528.3,1173.0 1528.9,1173.0 1529.5,1172.7 1530.1,1171.6 1530.7,1171.6 1531.3,1171.9 1531.9,1171.8 1532.5,1172.2 1533.1,1172.5 1533.7,1172.1 1534.3,1171.7 1534.9,1171.9 1535.5,1172.2 1536.1,1172.7 1536.7,1172.9 1537.3,1172.7 1537.9,1172.4 1538.5,1172.9 1539.1,1173.9 1539.7,1173.8 1540.3,1173.4 1540.9,1172.6 1541.5,1172.0 1542.1,1171.9 1542.7,1172.3 1543.3,1173.1 1543.9,1172.9 1544.5,1173.0 1545.1,1172.6 1545.7,1172.8 1546.3,1173.1 1546.9,1173.3 1547.5,1173.5 1548.1,1172.4 1548.7,1172.2 1549.3,1172.5 1549.9,1173.9 1550.5,1174.3 1551.1,1173.8 1551.7,1172.6 1552.3,1172.7 1552.9,1173.0 1553.5,1173.0 1554.1,1173.1 1554.7,1173.0 1555.3,1173.8 1555.9,1173.2 1556.5,1173.2 1557.1,1172.4 1557.7,1173.5 1558.3,1173.4 1558.9,1173.5 1559.5,1173.5 1560.1,1173.9 1560.7,1174.1 1561.3,1174.5 1561.9,1173.6 1562.5,1174.0 1563.1,1173.7 1563.7,1173.2 1564.3,1173.5 1564.9,1173.0 1565.5,1173.9 1566.1,1173.1 1566.7,1173.3 1567.3,1172.8 1567.9,1172.9 1568.5,1172.6 1569.1,1172.6 1569.7,1173.6 1570.3,1173.3 1570.9,1173.5 1571.5,1172.7 1572.1,1173.3 1572.7,1173.9 1573.3,1174.4 1573.9,1174.3 1574.5,1173.8 1575.1,1173.6 1575.7,1174.0 1576.3,1174.5 1576.9,1174.3 1577.5,1173.1 1578.1,1173.7 1578.7,1174.3 1579.3,1175.3 1579.9,1174.6 1580.5,1174.0 1581.1,1173.5 1581.7,1173.3 1582.3,1173.4 1582.9,1173.6 1583.5,1173.1 1584.1,1173.1 1584.7,1173.6 1585.3,1174.0 1585.9,1174.2 1586.5,1173.1 1587.1,1173.3 1587.7,1173.2 1588.3,1173.6 1588.9,1173.0 1589.5,1173.2 1590.1,1173.4 1590.7,1174.3 1591.3,1174.0 1591.9,1174.6 1592.5,1174.3 1593.1,1173.9 1593.7,1173.6 1594.3,1173.6 1594.9,1174.5 1595.5,1174.4 1596.1,1174.4 1596.7,1174.5 1597.3,1175.1 1597.9,1175.6 1598.5,1175.7 1599.1,1175.4 1599.7,1175.4 1600.3,1175.4 1600.9,1175.4 1601.5,1175.1 1602.1,1174.9 1602.7,1175.7 1603.3,1175.7 1603.9,1175.5 1604.5,1174.5 1605.1,1174.4 1605.7,1174.7 1606.3,1174.4 1606.9,1173.6 1607.5,1173.6 1608.1,1173.5 1608.7,1174.4 1609.3,1174.3 1609.9,1175.5 1610.5,1176.0 1611.1,1176.2 1611.7,1175.5 1612.3,1174.4 1612.9,1173.9 1613.5,1174.2 1614.1,1173.8 1614.7,1174.2 1615.3,1174.2 1615.9,1175.3 1616.5,1175.2 1617.1,1175.2 1617.7,1174.7 1618.3,1174.7 1618.9,1173.9 1619.5,1174.3 1620.1,1175.1 1620.7,1175.9 1621.3,1176.0 1621.9,1175.0 1622.5,1175.5 1623.1,1175.1 1623.7,1175.8 1624.3,1175.3 1624.9,1175.2 1625.5,1175.3 1626.1,1175.3 1626.7,1175.8 1627.3,1175.5 1627.9,1175.5 1628.5,1175.3 1629.1,1175.3 1629.7,1175.2 1630.3,1175.4 1630.9,1174.9 1631.5,1174.5 1632.1,1174.2 1632.7,1174.3 1633.3,1174.9 1633.9,1175.6 1634.5,1175.1 1635.1,1175.2 1635.7,1173.8 1636.3,1174.1 1636.9,1173.9 1637.5,1173.8 1638.1,1173.5 1638.7,1173.8 1639.3,1174.7 1639.9,1175.4 1640.5,1175.1 1641.1,1175.9 1641.7,1175.9 1642.3,1175.9 1642.9,1175.7 1643.5,1176.0 1644.1,1176.2 1644.7,1176.0 1645.3,1175.8 1645.9,1176.2 1646.5,1175.9 1647.1,1175.4 1647.7,1175.5 1648.3,1175.5 1648.9,1175.5 1649.5,1174.8 1650.1,1175.2 1650.7,1175.4 1651.3,1175.8 1651.9,1175.6 1652.5,1175.8 1653.1,1175.2 1653.7,1175.2 1654.3,1175.6 1654.9,1176.5 1655.5,1176.9 1656.1,1176.7 1656.7,1176.7 1657.3,1176.7 1657.9,1176.4 1658.5,1176.8 1659.1,1176.8 1659.7,1177.3 1660.3,1177.3 1660.9,1177.0 1661.5,1176.3 1662.1,1176.0 1662.7,1175.8 1663.3,1176.4 1663.9,1176.0 1664.5,1176.4 1665.1,1176.5 1665.7,1176.1 1666.3,1175.8 1666.9,1175.9 1667.5,1175.9 1668.1,1175.5 1668.7,1175.0 1669.3,1175.1 1669.9,1175.4 1670.5,1176.0 1671.1,1177.0 1671.7,1177.3 1672.3,1177.3 1672.9,1177.0 1673.5,1177.1 1674.1,1176.6 1674.7,1176.4 1675.3,1176.0 1675.9,1176.1 1676.5,1175.6 1677.1,1175.3 1677.7,1175.3 1678.3,1174.9 1678.9,1175.4 1679.5,1175.5 1680.1,1176.0 1680.7,1175.9 1681.3,1176.2 1681.9,1176.0 1682.5,1175.8 1683.1,1174.9 1683.7,1174.2 1684.3,1173.5 1684.9,1174.8 1685.5,1174.9 1686.1,1175.9 1686.7,1175.9 1687.3,1176.4 1687.9,1176.9 1688.5,1177.0 1689.1,1177.6 1689.7,1177.9 1690.3,1177.4 1690.9,1176.8 1691.5,1176.0 1692.1,1175.6 1692.7,1175.4 1693.3,1174.6 1693.9,1175.7 1694.5,1176.0 1695.1,1176.5 1695.7,1175.4 1696.3,1175.6 1696.9,1175.5 1697.5,1175.6 1698.1,1175.1 1698.7,1174.6 1699.3,1174.5 1699.9,1175.1 1700.5,1176.5 1701.1,1177.2 1701.7,1177.8 1702.3,1177.2 1702.9,1176.7 1703.5,1175.5 1704.1,1175.3 1704.7,1174.4 1705.3,1174.9 1705.9,1175.5 1706.5,1176.5 1707.1,1177.1 1707.7,1176.3 1708.3,1175.6 1708.9,1174.9 1709.5,1174.9 1710.1,1176.0 1710.7,1176.9 1711.3,1176.8 1711.9,1176.2 1712.5,1175.3 1713.1,1175.5 1713.7,1175.1 1714.3,1175.2 1714.9,1175.5 1715.5,1176.1 1716.1,1175.6 1716.7,1175.4 1717.3,1174.6 1717.9,1175.4 1718.5,1175.1 1719.1,1175.6 1719.7,1175.1 1720.3,1175.3 1720.9,1174.9 1721.5,1174.4 1722.1,1175.3 1722.7,1175.9 1723.3,1176.7 1723.9,1176.8 1724.5,1176.7 1725.1,1176.8 1725.7,1176.0 1726.3,1176.5 1726.9,1176.4 1727.5,1176.6 1728.1,1176.0 1728.7,1175.9 1729.3,1176.2 1729.9,1175.5 1730.5,1175.3 1731.1,1174.7 1731.7,1175.4 1732.3,1174.7 1732.9,1175.1 1733.5,1174.9 1734.1,1175.6 1734.7,1175.1 1735.3,1174.8 1735.9,1174.7 1736.5,1174.1 1737.1,1174.4 1737.7,1174.5 1738.3,1175.2 1738.9,1175.6 1739.5,1175.7 1740.1,1176.5 1740.7,1176.7 1741.3,1176.2 1741.9,1175.1 1742.5,1174.7 1743.1,1175.1 1743.7,1175.1 1744.3,1175.0 1744.9,1175.7 1745.5,1176.0 1746.1,1176.2 1746.7,1175.4 1747.3,1175.3 1747.9,1176.0 1748.5,1176.3 1749.1,1176.8 1749.7,1175.0 1750.3,1174.9 1750.9,1174.9 1751.5,1176.9 1752.1,1176.8 1752.7,1175.7 1753.3,1175.1 1753.9,1174.9 1754.5,1174.8 1755.1,1174.3 1755.7,1175.0 1756.3,1176.2 1756.9,1176.7 1757.5,1175.9 1758.1,1176.4 1758.7,1175.6 1759.3,1176.0 1759.9,1174.4 1760.5,1175.4 1761.1,1175.6 1761.7,1176.5 1762.3,1176.0 1762.9,1175.8 1763.5,1175.5 1764.1,1174.7 1764.7,1175.1 1765.3,1175.4 1765.9,1176.0 1766.5,1175.6 1767.1,1175.3 1767.7,1176.1 1768.3,1176.3 1768.9,1176.2 1769.5,1175.3 1770.1,1174.5 1770.7,1174.3 1771.3,1174.5 1771.9,1175.0 1772.5,1175.2 1773.1,1175.5 1773.7,1175.7 1774.3,1175.8 1774.9,1175.7 1775.5,1175.6 1776.1,1175.5 1776.7,1175.4 1777.3,1174.6 1777.9,1175.1 1778.5,1174.4 1779.1,1175.4 1779.7,1174.9 1780.3,1175.8 1780.9,1175.5 1781.5,1175.1 1782.1,1175.0 1782.7,1175.1 1783.3,1175.5 1783.9,1175.0 1784.5,1175.3 1785.1,1175.6 1785.7,1175.6 1786.3,1174.6 1786.9,1174.0 1787.5,1174.0 1788.1,1175.3 1788.7,1175.5 1789.3,1175.4 1789.9,1175.1 1790.5,1174.9 1791.1,1174.9 1791.7,1174.4 1792.3,1173.8 1792.9,1174.2 1793.5,1174.2 1794.1,1174.7 1794.7,1173.8 1795.3,1173.6 1795.9,1174.2 1796.5,1174.4 1797.1,1173.8 1797.7,1173.3 1798.3,1172.9 1798.9,1172.3 1799.5,1171.9 1800.1,1172.2 1800.7,1172.9 1801.3,1172.7 1801.9,1173.0 1802.5,1173.0 1803.1,1172.8 1803.7,1172.4 1804.3,1172.6 1804.9,1173.1 1805.5,1173.5 1806.1,1173.4 1806.7,1171.6 1807.3,1170.6 1807.9,1170.1 1808.5,1171.3 1809.1,1170.9 1809.7,1171.4 1810.3,1171.2 1810.9,1171.4 1811.5,1170.6 1812.1,1170.1 1812.7,1169.8 1813.3,1169.6 1813.9,1169.3 1814.5,1168.7 1815.1,1167.9 1815.7,1167.7 1816.3,1167.5 1816.9,1167.8 1817.5,1167.0 1818.1,1167.7 1818.7,1167.1 1819.3,1166.6 1819.9,1165.5 1820.5,1165.0 1821.1,1164.7 1821.7,1163.6 1822.3,1162.6 1822.9,1162.8 1823.5,1162.0 1824.1,1161.5 1824.7,1160.0 1825.3,1159.9 1825.9,1158.9 1826.5,1158.1 1827.1,1157.9 1827.7,1157.7 1828.3,1157.0 1828.9,1156.7 1829.5,1155.6 1830.1,1156.0 1830.7,1155.2 1831.3,1156.1 1831.9,1156.0 1832.5,1156.5 1833.1,1156.3 1833.7,1156.8 1834.3,1156.9 1834.9,1158.3 1835.5,1158.2 1836.1,1159.1 1836.7,1159.1 1837.3,1160.1 1837.9,1160.0 1838.5,1160.7 1839.1,1160.7 1839.7,1161.1 1840.3,1161.9 1840.9,1162.5 1841.5,1164.2 1842.1,1164.4 1842.7,1165.7 1843.3,1165.7 1843.9,1166.5 1844.5,1166.8 1845.1,1167.1 1845.7,1167.3 1846.3,1168.3 1846.9,1169.3 1847.5,1170.2 1848.1,1170.3 1848.7,1170.1 1849.3,1169.2 1849.9,1169.6 1850.5,1170.3 1851.1,1171.1 1851.7,1171.4 1852.3,1171.8 1852.9,1172.3 1853.5,1172.6 1854.1,1172.4 1854.7,1171.8 1855.3,1171.4 1855.9,1171.3 1856.5,1172.3 1857.1,1172.3 1857.7,1172.5 1858.3,1172.0 1858.9,1172.5 1859.5,1172.8 1860.1,1173.7 1860.7,1174.1 1861.3,1174.3 1861.9,1174.1 1862.5,1173.9 1863.1,1174.0 1863.7,1174.6 1864.3,1173.6 1864.9,1173.6 1865.5,1173.2 1866.1,1174.7 1866.7,1174.4 1867.3,1174.5 1867.9,1174.4 1868.5,1174.8 1869.1,1173.9 1869.7,1173.5 1870.3,1173.2 1870.9,1174.3 1871.5,1174.2 1872.1,1175.4 1872.7,1175.3 1873.3,1175.3 1873.9,1174.5 1874.5,1174.0 1875.1,1174.5 1875.7,1175.4 1876.3,1175.7 1876.9,1176.0 1877.5,1175.1 1878.1,1175.3 1878.7,1175.9 1879.3,1175.7 1879.9,1176.1 1880.5,1175.7 1881.1,1175.6 1881.7,1174.5 1882.3,1173.7 1882.9,1174.8 1883.5,1175.3 1884.1,1175.6 1884.7,1175.5 1885.3,1175.8 1885.9,1176.0 1886.5,1175.6 1887.1,1176.0 1887.7,1175.6 1888.3,1176.4 1888.9,1175.9 1889.5,1175.9 1890.1,1175.5 1890.7,1175.8 1891.3,1175.4 1891.9,1175.2 1892.5,1174.5 1893.1,1175.0 1893.7,1175.2 1894.3,1175.4 1894.9,1175.9 1895.5,1175.5 1896.1,1176.6 1896.7,1176.4 1897.3,1176.1 1897.9,1174.9 1898.5,1174.6 1899.1,1175.2 1899.7,1175.6 1900.3,1176.4 1900.9,1176.4 1901.5,1176.5 1902.1,1176.2 1902.7,1176.1 1903.3,1176.2 1903.9,1176.4 1904.5,1176.8 1905.1,1176.4 1905.7,1175.4 1906.3,1174.8 1906.9,1175.1 1907.5,1174.9 1908.1,1175.0 1908.7,1175.1 1909.3,1175.9 1909.9,1175.7 1910.5,1176.2 1911.1,1177.0 1911.7,1177.4 1912.3,1177.2 1912.9,1177.2 1913.5,1176.8 1914.1,1177.4 1914.7,1176.5 1915.3,1176.9 1915.9,1175.4 1916.5,1175.8 1917.1,1175.4 1917.7,1175.9 1918.3,1176.3 1918.9,1176.9 1919.5,1176.8 1920.1,1177.0 1920.7,1176.6 1921.3,1177.1 1921.9,1176.4 1922.5,1176.8 1923.1,1176.5 1923.7,1176.6 1924.3,1176.6 1924.9,1176.2 1925.5,1176.0 1926.1,1176.2 1926.7,1176.5 1927.3,1176.2 1927.9,1175.8 1928.5,1175.6 1929.1,1176.0 1929.7,1176.4 1930.3,1176.7 1930.9,1176.5 1931.5,1176.5 1932.1,1175.9 1932.7,1175.0 1933.3,1175.0 1933.9,1174.9 1934.5,1175.7 1935.1,1175.2 1935.7,1176.1 1936.3,1176.1 1936.9,1176.7 1937.5,1176.2 1938.1,1176.2 1938.7,1175.5 1939.3,1175.9 1939.9,1176.5 1940.5,1177.5 1941.1,1178.1 1941.7,1178.0 1942.3,1177.8 1942.9,1177.1 1943.5,1177.0 1944.1,1176.8 1944.7,1176.5 1945.3,1177.2 1945.9,1176.6 1946.5,1177.1 1947.1,1176.5 1947.7,1177.3 1948.3,1176.8 1948.9,1176.6 1949.5,1176.4 1950.1,1176.3 1950.7,1176.4 1951.3,1176.4 1951.9,1176.7 1952.5,1177.0 1953.1,1176.7 1953.7,1177.1 1954.3,1176.6 1954.9,1177.2 1955.5,1177.1 1956.1,1177.4 1956.7,1176.9 1957.3,1176.5 1957.9,1176.1 1958.5,1176.6 1959.1,1177.2 1959.7,1178.0 1960.3,1177.7 1960.9,1177.5 1961.5,1176.4 1962.1,1175.7 1962.7,1175.4 1963.3,1175.8 1963.9,1176.0 1964.5,1175.7 1965.1,1176.2 1965.7,1176.5 1966.3,1176.5 1966.9,1177.3 1967.5,1177.7 1968.1,1178.2 1968.7,1177.6 1969.3,1177.2 1969.9,1178.0 1970.5,1177.1 1971.1,1176.9 1971.7,1176.2 1972.3,1176.5 1972.9,1177.6 1973.5,1177.0 1974.1,1177.1 1974.7,1176.6 1975.3,1177.5 1975.9,1178.2 1976.5,1178.2 1977.1,1178.9 1977.7,1178.3 1978.3,1178.3 1978.9,1177.7 1979.5,1177.8 1980.1,1177.6 1980.7,1177.1 1981.3,1177.0 1981.9,1176.7 1982.5,1176.6 1983.1,1176.3 1983.7,1176.9 1984.3,1176.5 1984.9,1177.9 1985.5,1178.5 1986.1,1179.6 1986.7,1178.7 1987.3,1177.8 1987.9,1177.8 1988.5,1178.0 1989.1,1178.5 1989.7,1177.7 1990.3,1178.0 1990.9,1177.5 1991.5,1177.9 1992.1,1176.7 1992.7,1176.8 1993.3,1177.0 1993.9,1177.5 1994.5,1177.6 1995.1,1177.7 1995.7,1177.9 1996.3,1178.5 1996.9,1177.3 1997.5,1177.5 1998.1,1177.2 1998.7,1177.6 1999.3,1176.9 1999.9,1177.0 2000.5,1177.2 2001.1,1177.5 2001.7,1177.4 2002.3,1177.7 2002.9,1178.1 2003.5,1177.5 2004.1,1177.8 2004.7,1178.0 2005.3,1178.5 2005.9,1177.5 2006.5,1177.3 2007.1,1177.2 2007.7,1177.7 2008.3,1178.0 2008.9,1177.3 2009.5,1178.4 2010.1,1177.5 2010.7,1178.8 2011.3,1178.0 2011.9,1177.7 2012.5,1177.1 2013.1,1177.2 2013.7,1177.8 2014.3,1178.1 2014.9,1177.5 2015.5,1177.3 2016.1,1177.0 2016.7,1177.0 2017.3,1176.1 2017.9,1175.0 2018.5,1174.7 2019.1,1174.4 2019.7,1173.0 2020.3,1169.8 2020.9,1166.2 2021.5,1160.3 2022.1,1154.9 2022.7,1152.9 2023.3,1157.9 2023.9,1164.0 2024.5,1168.6 2025.1,1172.7 2025.7,1175.3 2026.3,1176.4 2026.9,1177.0 2027.5,1177.1 2028.1,1177.3 2028.7,1176.9 2029.3,1177.4 2029.9,1177.6 2030.5,1178.1 2031.1,1177.4 2031.7,1177.6 2032.3,1177.5 2032.9,1178.0 2033.5,1178.6 2034.1,1178.7 2034.7,1177.9 2035.3,1177.5 2035.9,1177.1 2036.5,1177.4 2037.1,1177.9 2037.7,1179.5 2038.3,1179.9 2038.9,1179.0 2039.5,1178.4 2040.1,1177.4 2040.7,1177.6 2041.3,1177.9 2041.9,1179.1 2042.5,1178.9 2043.1,1177.6 2043.7,1177.7 2044.3,1178.2 2044.9,1178.7 2045.5,1178.5 2046.1,1178.3 2046.7,1177.8 2047.3,1178.0 2047.9,1178.0 2048.5,1178.3 2049.1,1177.5 2049.7,1177.9 2050.3,1178.0 2050.9,1178.8 2051.5,1178.6 2052.1,1179.3 2052.7,1178.9 2053.3,1178.8 2053.9,1177.6 2054.5,1177.3 2055.1,1177.9 2055.7,1179.9 2056.3,1179.8 2056.9,1179.2 2057.5,1178.1 2058.1,1178.8 2058.7,1178.9 2059.3,1178.9 2059.9,1178.0 2060.5,1178.2 2061.1,1178.5 2061.7,1179.8 2062.3,1179.9 2062.9,1179.5 2063.5,1179.0 2064.1,1179.5 2064.7,1179.8 2065.3,1179.4 2065.9,1179.1 2066.5,1179.3 2067.1,1179.3 2067.7,1178.6 2068.3,1178.5 2068.9,1178.9 2069.5,1179.8 2070.1,1179.7 2070.7,1179.3 2071.3,1178.7 2071.9,1178.3 2072.5,1178.2 2073.1,1178.2 2073.7,1178.4 2074.3,1179.2 2074.9,1178.9 2075.5,1179.1 2076.1,1178.4 2076.7,1179.5 2077.3,1179.6 2077.9,1179.7 2078.5,1179.5 2079.1,1179.4 2079.7,1179.3 2080.3,1179.6 2080.9,1179.9 2081.5,1180.8 2082.1,1180.6 2082.7,1180.6 2083.3,1180.0 2083.9,1179.1 2084.5,1179.1 2085.1,1179.1 2085.7,1179.8 2086.3,1179.5 2086.9,1179.2 2087.5,1178.5 2088.1,1178.8 2088.7,1179.6 2089.3,1179.9 2089.9,1179.8 2090.5,1179.8 2091.1,1179.6 2091.7,1179.3 2092.3,1178.3 2092.9,1179.1 2093.5,1179.3 2094.1,1179.6 2094.7,1178.5 2095.3,1178.3 2095.9,1178.9 2096.5,1179.4 2097.1,1179.3 2097.7,1179.2 2098.3,1178.8 2098.9,1179.0 2099.5,1179.0 2100.1,1179.1 2100.7,1178.8 2101.3,1178.7 2101.9,1178.9 2102.5,1179.2 2103.1,1179.2 2103.7,1179.3 2104.3,1179.0 2104.9,1178.7 2105.5,1178.8 2106.1,1179.6 2106.7,1180.4 2107.3,1179.9 2107.9,1179.8 2108.5,1179.6 2109.1,1179.9 2109.7,1179.7 2110.3,1179.7 2110.9,1180.4 2111.5,1179.8 2112.1,1179.7 2112.7,1179.0 2113.3,1179.3 2113.9,1179.5 2114.5,1179.9 2115.1,1179.6 2115.7,1179.0 2116.3,1178.8 2116.9,1178.6 2117.5,1179.1 2118.1,1179.0 2118.7,1179.6 2119.3,1179.4 2119.9,1180.1 2120.5,1180.1 2121.1,1179.8 2121.7,1179.8 2122.3,1179.6 2122.9,1179.5 2123.5,1178.3 2124.1,1178.9 2124.7,1179.2 2125.3,1179.9 2125.9,1179.6 2126.5,1179.4 2127.1,1178.9 2127.7,1178.6 2128.3,1178.8 2128.9,1179.1 2129.5,1180.1 2130.1,1179.6 2130.7,1179.4 2131.3,1178.3 2131.9,1179.2 2132.5,1178.9 2133.1,1179.6 2133.7,1179.6 2134.3,1180.0 2134.9,1180.0 2135.5,1178.6 2136.1,1178.5 2136.7,1177.6 2137.3,1178.5 2137.9,1178.6 2138.5,1179.0 2139.1,1179.3 2139.7,1179.4 2140.3,1179.5 2140.9,1179.0 2141.5,1178.2 2142.1,1178.4 2142.7,1179.4 2143.3,1179.7 2143.9,1180.0 2144.5,1178.9 2145.1,1179.5 2145.7,1179.5 2146.3,1179.6 2146.9,1178.6 2147.5,1178.2 2148.1,1178.8 2148.7,1179.4 2149.3,1179.9 2149.9,1179.2 2150.5,1178.6 2151.1,1178.5 2151.7,1178.8 2152.3,1179.3 2152.9,1179.0 2153.5,1179.0 2154.1,1179.0 2154.7,1179.3 2155.3,1179.1 2155.9,1178.4 2156.5,1178.2 2157.1,1178.0 2157.7,1178.6 2158.3,1178.8 2158.9,1178.9 2159.5,1179.4 2160.1,1179.7 2160.7,1179.9 2161.3,1179.1 2161.9,1178.4 2162.5,1178.7 2163.1,1179.2 2163.7,1179.2 2164.3,1178.8 2164.9,1179.1 2165.5,1179.5 2166.1,1179.8 2166.7,1179.3 2167.3,1179.1 2167.9,1178.7 2168.5,1179.0 2169.1,1178.3 2169.7,1178.3 2170.3,1177.8 2170.9,1179.2 2171.5,1179.9 2172.1,1181.1 2172.7,1180.8 2173.3,1180.0 2173.9,1179.8 2174.5,1179.4 2175.1,1179.8 2175.7,1179.1 2176.3,1178.9 2176.9,1178.8 2177.5,1179.9 2178.1,1180.1 2178.7,1180.8 2179.3,1181.2 2179.9,1180.7 2180.5,1179.6 2181.1,1177.9 2181.7,1178.1 2182.3,1177.7 2182.9,1177.8 2183.5,1178.0 2184.1,1178.3 2184.7,1178.2 2185.3,1177.5 2185.9,1177.0 2186.5,1176.7 2187.1,1176.6 2187.7,1176.4 2188.3,1175.7 2188.9,1173.7 2189.5,1172.7 2190.1,1171.9 2190.7,1171.2 2191.3,1169.1 2191.9,1167.6 2192.5,1166.1 2193.1,1164.2 2193.7,1162.3 2194.3,1161.4 2194.5,1162.3"/>
<polyline class="c" stroke="#fd3c3c" stroke-width="8.8" stroke-linejoin="round" stroke-miterlimit="10" points="194.0,949.9 194.6,949.8 195.2,949.3 195.8,949.1 196.4,948.6 197.0,947.9 197.6,947.5 198.2,948.2 198.8,948.6 199.4,947.6 200.0,947.4 200.6,946.9 201.2,947.9 201.8,947.6 202.4,948.0 203.0,947.9 203.6,948.1 204.2,949.0 204.8,950.3 205.4,952.1 206.0,954.0 206.6,955.2 207.2,957.4 207.8,959.0 208.4,960.9 209.0,962.2 209.6,963.4 210.2,964.6 210.8,965.2 211.4,965.5 212.0,964.6 212.6,963.1 213.2,960.2 213.8,958.1 214.4,956.1 215.0,954.4 215.6,952.0 216.2,948.9 216.8,945.9 217.4,943.8 218.0,941.9 218.6,940.8 219.2,940.6 219.8,940.7 220.4,942.4 221.0,942.4 221.6,944.3 222.2,944.9 222.8,947.6 223.4,949.2 224.0,951.9 224.6,954.0 225.2,956.2 225.8,958.1 226.4,960.1 227.0,960.9 227.6,961.3 228.2,960.4 228.8,959.6 229.4,958.6 230.0,955.7 230.6,953.0 231.2,948.8 231.8,946.7 232.4,944.1 233.0,943.6 233.6,941.4 234.2,940.1 234.8,937.4 235.4,935.9 236.0,934.8 236.6,935.0 237.2,935.9 237.8,937.0 238.4,938.2 239.0,939.7 239.6,941.7 240.2,944.2 240.8,947.7 241.4,950.3 242.0,952.4 242.6,954.2 243.2,956.1 243.8,957.6 244.4,958.1 245.0,957.8 245.6,955.8 246.2,953.6 246.8,951.4 247.4,948.7 248.0,946.3 248.6,942.9 249.2,940.2 249.8,937.5 250.4,934.8 251.0,932.6 251.6,930.3 252.2,929.4 252.8,930.3 253.4,929.8 254.0,930.5 254.6,930.7 255.2,933.7 255.8,935.9 256.4,937.6 257.0,940.6 257.6,943.2 258.2,947.0 258.8,948.5 259.4,950.7 260.0,952.3 260.6,954.3 261.2,955.5 261.8,954.9 262.4,953.5 263.0,951.1 263.6,949.0 264.2,946.0 264.8,943.3 265.4,939.7 266.0,936.3 266.6,933.1 267.2,930.5 267.8,927.9 268.4,926.6 269.0,925.2 269.6,925.2 270.2,924.7 270.8,926.2 271.4,926.4 272.0,929.1 272.6,931.0 273.2,934.2 273.8,936.4 274.4,940.5 275.0,944.1 275.6,946.3 276.2,947.6 276.8,949.7 277.4,950.9 278.0,951.5 278.6,950.4 279.2,950.6 279.8,948.5 280.4,946.6 281.0,942.5 281.6,938.9 282.2,935.3 282.8,932.3 283.4,928.5 284.0,925.3 284.6,922.7 285.2,921.3 285.8,920.0 286.4,919.5 287.0,920.0 287.6,920.8 288.2,922.2 288.8,924.7 289.4,927.3 290.0,930.7 290.6,933.6 291.2,937.6 291.8,940.9 292.4,944.0 293.0,946.9 293.6,949.7 294.2,951.9 294.8,951.5 295.4,950.8 296.0,949.2 296.6,947.8 297.2,944.5 297.8,941.6 298.4,939.0 299.0,936.2 299.6,932.8 300.2,928.9 300.8,925.8 301.4,924.0 302.0,923.3 302.6,922.0 303.2,921.4 303.8,920.8 304.4,922.0 305.0,923.8 305.6,926.4 306.2,928.9 306.8,931.3 307.4,934.8 308.0,938.8 308.6,942.6 309.2,944.8 309.8,947.0 310.4,948.8 311.0,950.0 311.6,950.2 312.2,949.5 312.8,948.8 313.4,946.9 314.0,944.8 314.6,941.9 315.2,938.8 315.8,935.1 316.4,931.6 317.0,929.2 317.6,926.8 318.2,924.1 318.8,921.6 319.4,920.6 320.0,920.8 320.6,921.7 321.2,922.4 321.8,924.5 322.4,926.0 323.0,928.9 323.6,930.9 324.2,934.8 324.8,938.1 325.4,940.9 326.0,943.5 326.6,945.3 327.2,947.6 327.8,948.7 328.4,948.9 329.0,948.2 329.6,947.2 330.2,946.0 330.8,943.7 331.4,939.9 332.0,937.3 332.6,934.6 333.2,932.0 333.8,927.5 334.4,923.9 335.0,921.5 335.6,919.7 336.2,919.7 336.8,919.4 337.4,920.5 338.0,920.7 338.6,922.1 339.2,924.1 339.8,927.5 340.4,930.9 341.0,934.4 341.6,937.8 342.2,941.2 342.8,944.7 343.4,947.0 344.0,948.4 344.6,949.1 345.2,950.2 345.8,950.0 346.4,948.9 347.0,946.4 347.6,944.5 348.2,941.9 348.8,938.8 349.4,935.5 350.0,932.9 350.6,930.9 351.2,928.9 351.8,926.9 352.4,924.9 353.0,923.5 353.6,923.4 354.2,923.5 354.8,924.7 355.4,925.3 356.0,927.8 356.6,930.1 357.2,933.3 357.8,936.7 358.4,939.8 359.0,943.1 359.6,945.5 360.2,947.8 360.8,950.2 361.4,951.2 362.0,952.0 362.6,950.5 363.2,949.4 363.8,947.5 364.4,945.7 365.0,943.1 365.6,940.5 366.2,938.4 366.8,935.7 367.4,933.0 368.0,929.9 368.6,929.1 369.2,928.5 369.8,928.0 370.4,927.1 371.0,926.7 371.6,927.4 372.2,928.8 372.8,931.2 373.4,933.3 374.0,935.6 374.6,938.6 375.2,941.9 375.8,944.1 376.4,946.4 377.0,948.8 377.6,951.1 378.2,952.2 378.8,951.5 379.4,951.8 380.0,950.2 380.6,948.8 381.2,946.3 381.8,945.3 382.4,943.0 383.0,940.0 383.6,936.7 384.2,934.6 384.8,933.6 385.4,931.1 386.0,929.2 386.6,927.7 387.2,928.2 387.8,929.5 388.4,931.0 389.0,931.9 389.6,933.4 390.2,935.3 390.8,938.8 391.4,942.1 392.0,944.7 392.6,946.6 393.2,949.2 393.8,951.7 394.4,954.8 395.0,955.4 395.6,956.0 396.2,954.1 396.8,953.0 397.4,950.6 398.0,949.0 398.6,946.6 399.2,944.3 399.8,941.9 400.4,939.7 401.0,937.9 401.6,935.9 402.2,934.5 402.8,933.6 403.4,933.1 404.0,933.1 404.6,932.9 405.2,933.8 405.8,935.4 406.4,937.0 407.0,939.6 407.6,942.5 408.2,945.8 408.8,947.7 409.4,949.0 410.0,950.6 410.6,952.7 411.2,955.2 411.8,956.2 412.4,956.4 413.0,956.4 413.6,955.3 414.2,954.4 414.8,952.4 415.4,950.0 416.0,947.5 416.6,944.5 417.2,942.4 417.8,939.4 418.4,937.1 419.0,936.1 419.6,935.7 420.2,935.8 420.8,935.2 421.4,935.8 422.0,936.5 422.6,937.8 423.2,939.1 423.8,941.5 424.4,944.6 425.0,947.3 425.6,949.6 426.2,952.1 426.8,955.3 427.4,956.8 428.0,958.1 428.6,959.1 429.2,959.7 429.8,959.7 430.4,957.0 431.0,956.2 431.6,954.0 432.2,952.4 432.8,950.0 433.4,948.4 434.0,947.6 434.6,945.9 435.2,943.9 435.8,941.8 436.4,940.2 437.0,939.6 437.6,940.0 438.2,940.3 438.8,941.2 439.4,942.6 440.0,944.4 440.6,947.1 441.2,949.6 441.8,951.2 442.4,952.1 443.0,952.8 443.6,954.6 444.2,956.5 444.8,957.8 445.4,958.6 446.0,958.6 446.6,959.0 447.2,958.4 447.8,957.2 448.4,955.7 449.0,954.3 449.6,952.7 450.2,950.7 450.8,948.2 451.4,946.3 452.0,944.1 452.6,943.6 453.2,942.8 453.8,942.1 454.4,942.1 455.0,941.6 455.6,943.2 456.2,943.8 456.8,945.4 457.4,946.2 458.0,947.9 458.6,950.2 459.2,952.4 459.8,954.6 460.4,955.8 461.0,957.5 461.6,958.3 462.2,958.8 462.8,959.0 463.4,958.0 464.0,956.8 464.6,955.1 465.2,953.9 465.8,953.3 466.4,951.3 467.0,949.8 467.6,947.9 468.2,946.5 468.8,944.7 469.4,942.8 470.0,941.1 470.6,940.1 471.2,940.1 471.8,940.5 472.4,940.6 473.0,940.4 473.6,941.6 474.2,943.1 474.8,944.5 475.4,945.7 476.0,947.1 476.6,948.7 477.2,949.8 477.8,950.4 478.4,950.0 479.0,949.2 479.6,948.1 480.2,947.5 480.8,946.0 481.4,942.4 482.0,938.8 482.6,934.9 483.2,932.1 483.8,928.3 484.4,922.8 485.0,916.9 485.6,910.1 486.2,904.7 486.8,897.5 487.4,890.9 488.0,882.4 488.6,873.5 489.2,861.3 489.8,848.3 490.4,834.8 491.0,820.7 491.6,807.0 492.2,794.7 492.8,787.9 493.4,786.3 494.0,791.1 494.6,801.1 495.2,815.4 495.8,831.3 496.4,847.8 497.0,862.4 497.6,875.8 498.2,885.7 498.8,895.4 499.4,902.4 500.0,909.6 500.6,914.2 501.2,918.7 501.8,922.3 502.4,925.1 503.0,927.4 503.6,929.1 504.2,931.7 504.8,933.3 505.4,935.6 506.0,937.6 506.6,940.3 507.2,942.6 507.8,944.4 508.4,947.5 509.0,950.0 509.6,953.4 510.2,954.5 510.8,955.6 511.4,956.6 512.0,957.6 512.6,959.3 513.2,959.6 513.8,960.6 514.4,960.7 515.0,960.9 515.6,961.4 516.2,961.0 516.8,959.8 517.4,958.8 518.0,957.3 518.6,957.2 519.2,955.8 519.8,955.7 520.4,956.0 521.0,956.3 521.6,956.7 522.2,956.5 522.8,957.4 523.4,959.2 524.0,960.2 524.6,961.1 525.2,962.2 525.8,963.5 526.4,965.3 527.0,966.9 527.6,968.8 528.2,969.8 528.8,969.9 529.4,970.1 530.0,970.3 530.6,970.6 531.2,971.2 531.8,971.3 532.4,970.4 533.0,968.8 533.6,967.9 534.2,966.5 534.8,965.8 535.4,964.6 536.0,964.2 536.6,963.4 537.2,963.4 537.8,963.0 538.4,963.1 539.0,963.0 539.6,964.3 540.2,964.8 540.8,966.4 541.4,967.3 542.0,968.9 542.6,969.5 543.2,970.5 543.8,971.4 544.4,973.0 545.0,974.1 545.6,975.1 546.2,975.5 546.8,975.3 547.4,975.5 548.0,974.7 548.6,974.1 549.2,973.5 549.8,972.0 550.4,971.7 551.0,970.2 551.6,970.1 552.2,969.6 552.8,969.5 553.4,968.6 554.0,967.7 554.6,967.2 555.2,967.1 555.8,967.0 556.4,967.7 557.0,969.0 557.6,969.6 558.2,970.5 558.8,971.5 559.4,973.2 560.0,973.9 560.6,975.1 561.2,975.5 561.8,976.9 562.4,977.7 563.0,977.8 563.6,977.8 564.2,977.2 564.8,977.8 565.4,977.0 566.0,976.1 566.6,974.8 567.2,974.4 567.8,974.0 568.4,973.6 569.0,972.5 569.6,971.6 570.2,971.5 570.8,971.7 571.4,971.8 572.0,971.9 572.6,971.7 573.2,971.2 573.8,972.0 574.4,973.9 575.0,975.2 575.6,975.6 576.2,976.1 576.8,977.9 577.4,979.3 578.0,980.5 578.6,980.7 579.2,981.2 579.8,981.2 580.4,981.2 581.0,981.5 581.6,981.4 582.2,981.6 582.8,980.6 583.4,980.2 584.0,978.9 584.6,978.6 585.2,976.6 585.8,976.1 586.4,975.8 587.0,976.3 587.6,976.5 588.2,975.5 588.8,976.4 589.4,976.8 590.0,977.8 590.6,977.9 591.2,978.5 591.8,979.8 592.4,980.5 593.0,980.7 593.6,980.9 594.2,982.0 594.8,983.5 595.4,984.0 596.0,984.2 596.6,984.3 597.2,984.8 597.8,983.8 598.4,983.2 599.0,982.8 599.6,982.8 600.2,982.8 600.8,982.7 601.4,982.0 602.0,981.4 602.6,979.9 603.2,979.4 603.8,978.9 604.4,978.4 605.0,977.8 605.6,978.4 606.2,979.1 606.8,980.8 607.4,980.7 608.0,981.4 608.6,981.8 609.2,982.7 609.8,982.9 610.4,983.7 611.0,983.7 611.6,984.8 612.2,985.8 612.8,986.6 613.4,987.4 614.0,986.3 614.6,986.4 615.2,985.6 615.8,985.6 616.4,984.7 617.0,983.9 617.6,983.4 618.2,982.6 618.8,982.2 619.4,981.9 620.0,981.9 620.6,981.6 621.2,980.7 621.8,980.9 622.4,981.1 623.0,981.7 623.6,981.8 624.2,983.1 624.8,983.3 625.4,983.1 626.0,983.0 626.6,983.7 627.2,985.2 627.8,985.1 628.4,986.0 629.0,986.4 629.6,987.3 630.2,986.5 630.8,986.8 631.4,986.7 632.0,987.6 632.6,986.9 633.2,986.0 633.8,985.1 634.4,984.4 635.0,984.5 635.6,983.5 636.2,983.3 636.8,982.7 637.4,982.8 638.0,982.5 638.6,982.2 639.2,982.2 639.8,982.4 640.4,983.1 641.0,983.4 641.6,983.2 642.2,983.7 642.8,984.9 643.4,986.5 644.0,987.4 644.6,987.6 645.2,987.8 645.8,987.4 646.4,987.9 647.0,988.7 647.6,989.4 648.2,989.2 648.8,988.7 649.4,988.2 650.0,987.8 650.6,987.2 651.2,986.9 651.8,986.0 652.4,985.3 653.0,985.0 653.6,984.8 654.2,983.9 654.8,983.5 655.4,982.7 656.0,984.3 656.6,984.7 657.2,986.1 657.8,985.4 658.4,985.1 659.0,985.2 659.6,986.0 660.2,986.7 660.8,987.3 661.4,988.1 662.0,989.1 662.6,989.0 663.2,988.2 663.8,988.1 664.4,988.3 665.0,989.2 665.6,989.6 666.2,990.1 666.8,989.7 667.4,989.0 668.0,988.5 668.6,987.9 669.2,987.1 669.8,986.4 670.4,985.9 671.0,985.3 671.6,984.3 672.2,984.1 672.8,983.9 673.4,984.3 674.0,983.9 674.6,984.3 675.2,983.8 675.8,982.7 676.4,982.2 677.0,982.3 677.6,985.0 678.2,986.5 678.8,988.0 679.4,988.8 680.0,989.1 680.6,989.7 681.2,989.9 681.8,990.1 682.4,990.1 683.0,989.3 683.6,989.3 684.2,988.4 684.8,988.6 685.4,988.2 686.0,988.5 686.6,987.7 687.2,988.4 687.8,987.8 688.4,987.9 689.0,986.4 689.6,987.1 690.2,987.0 690.8,988.0 691.4,987.4 692.0,988.1 692.6,988.0 693.2,989.2 693.8,989.5 694.4,989.9 695.0,990.2 695.6,990.3 696.2,990.6 696.8,991.0 697.4,990.9 698.0,991.6 698.6,991.1 699.2,991.3 699.8,990.8 700.4,990.8 701.0,990.5 701.6,989.9 702.2,989.4 702.8,989.5 703.4,989.1 704.0,988.1 704.6,987.2 705.2,986.8 705.8,987.2 706.4,987.8 707.0,988.3 707.6,988.8 708.2,988.8 708.8,989.0 709.4,988.8 710.0,990.2 710.6,990.1 711.2,990.9 711.8,990.8 712.4,992.1 713.0,993.2 713.6,993.8 714.2,994.2 714.8,993.0 715.4,992.6 716.0,991.9 716.6,991.9 717.2,991.4 717.8,990.9 718.4,990.6 719.0,990.6 719.6,990.7 720.2,990.1 720.8,988.4 721.4,988.1 722.0,988.2 722.6,988.8 723.2,988.2 723.8,988.2 724.4,988.2 725.0,989.0 725.6,988.7 726.2,989.1 726.8,989.3 727.4,989.7 728.0,990.5 728.6,991.1 729.2,991.6 729.8,992.3 730.4,992.1 731.0,992.9 731.6,992.7 732.2,992.6 732.8,991.9 733.4,990.9 734.0,990.4 734.6,989.9 735.2,990.7 735.8,990.9 736.4,990.3 737.0,989.7 737.6,989.2 738.2,989.4 738.8,989.3 739.4,989.5 740.0,989.6 740.6,989.2 741.2,989.0 741.8,988.9 742.4,989.1 743.0,989.0 743.6,989.2 744.2,988.9 744.8,989.0 745.4,989.6 746.0,990.0 746.6,989.4 747.2,989.2 747.8,989.0 748.4,989.2 749.0,989.0 749.6,988.2 750.2,987.5 750.8,986.5 751.4,986.0 752.0,986.2 752.6,986.1 753.2,985.1 753.8,983.9 754.4,982.8 755.0,983.3 755.6,982.7 756.2,982.6 756.8,982.0 757.4,982.0 758.0,982.0 758.6,982.0 759.2,982.0 759.8,982.5 760.4,982.6 761.0,983.0 761.6,983.2 762.2,983.9 762.8,984.6 763.4,984.6 764.0,984.9 764.6,984.5 765.2,985.3 765.8,985.3 766.4,985.5 767.0,985.2 767.6,984.4 768.2,984.1 768.8,983.2 769.4,983.1 770.0,982.3 770.6,982.3 771.2,982.1 771.8,982.2 772.4,981.5 773.0,980.7 773.6,979.6 774.2,979.7 774.8,980.4 775.4,980.8 776.0,980.5 776.6,980.3 777.2,980.5 777.8,981.0 778.4,980.8 779.0,979.9 779.6,979.7 780.2,980.2 780.8,980.8 781.4,979.3 782.0,977.5 782.6,974.6 783.2,973.4 783.8,970.0 784.4,967.0 785.0,964.9 785.6,965.4 786.2,968.6 786.8,971.2 787.4,973.3 788.0,975.1 788.6,975.8 789.2,977.5 789.8,977.9 790.4,978.5 791.0,977.8 791.6,978.8 792.2,980.2 792.8,980.9 793.4,981.4 794.0,981.4 794.6,982.3 795.2,982.2 795.8,982.4 796.4,983.3 797.0,983.5 797.6,982.7 798.2,982.4 798.8,981.8 799.4,981.1 800.0,979.7 800.6,979.3 801.2,980.6 801.8,981.6 802.4,982.4 803.0,982.3 803.6,981.7 804.2,981.6 804.8,981.4 805.4,982.2 806.0,981.1 806.6,981.1 807.2,979.8 807.8,979.4 808.4,979.2 809.0,978.7 809.6,978.0 810.2,976.4 810.8,975.1 811.4,972.4 812.0,968.9 812.6,962.5 813.2,954.7 813.8,948.6 814.4,951.0 815.0,959.6 815.6,967.7 816.2,973.9 816.8,978.3 817.4,980.5 818.0,981.3 818.6,981.6 819.2,982.4 819.8,982.1 820.4,982.6 821.0,982.7 821.6,983.1 822.2,983.2 822.8,982.8 823.4,982.7 824.0,982.3 824.6,982.5 825.2,982.7 825.8,983.1 826.4,983.7 827.0,984.7 827.6,984.7 828.2,985.4 828.8,984.9 829.4,985.8 830.0,986.0 830.6,987.6 831.2,988.4 831.8,989.2 832.4,989.6 833.0,990.0 833.6,990.2 834.2,989.1 834.8,987.8 835.4,987.3 836.0,987.0 836.6,986.9 837.2,986.4 837.8,985.5 838.4,985.8 839.0,985.1 839.6,985.2 840.2,984.6 840.8,984.3 841.4,984.8 842.0,985.1 842.6,985.7 843.2,985.3 843.8,985.1 844.4,985.0 845.0,986.5 845.6,987.2 846.2,988.2 846.8,987.8 847.4,988.5 848.0,989.8 848.6,990.0 849.2,989.7 849.8,988.6 850.4,989.3 851.0,989.5 851.6,990.8 852.2,990.2 852.8,989.5 853.4,988.0 854.0,987.9 854.6,986.9 855.2,987.0 855.8,986.4 856.4,986.5 857.0,985.6 857.6,985.7 858.2,986.6 858.8,986.8 859.4,986.8 860.0,987.1 860.6,987.4 861.2,987.5 861.8,986.9 862.4,987.6 863.0,988.2 863.6,989.1 864.2,989.3 864.8,989.1 865.4,989.1 866.0,989.2 866.6,990.2 867.2,990.5 867.8,990.4 868.4,990.2 869.0,990.3 869.6,989.9 870.2,989.0 870.8,988.5 871.4,988.5 872.0,987.9 872.6,987.3 873.2,986.8 873.8,987.3 874.4,986.6 875.0,986.9 875.6,986.6 876.2,986.7 876.8,987.0 877.4,987.5 878.0,987.7 878.6,988.5 879.2,988.2 879.8,988.9 880.4,988.4 881.0,989.6 881.6,990.5 882.2,990.8 882.8,991.2 883.4,991.2 884.0,991.6 884.6,992.0 885.2,991.6 885.8,989.6 886.4,987.9 887.0,986.8 887.6,987.3 888.2,986.9 888.8,986.2 889.4,985.1 890.0,984.4 890.6,984.4 891.2,983.4 891.8,983.5 892.4,983.3 893.0,982.9 893.6,974.1 894.2,960.8 894.8,944.9 895.4,926.6 896.0,906.6 896.6,884.0 897.2,858.9 897.8,832.1 898.4,841.8 899.0,868.4 899.6,893.2 900.2,914.6 900.8,934.6 901.4,952.0 902.0,968.4 902.6,980.4 903.2,987.0 903.8,986.3 904.4,987.0 905.0,987.4 905.6,986.7 906.2,985.3 906.8,984.1 907.4,983.7 908.0,983.7 908.6,985.1 909.2,986.5 909.8,986.6 910.4,985.8 911.0,985.7 911.6,986.5 912.2,986.6 912.8,986.3 913.4,987.2 914.0,988.3 914.6,990.2 915.2,989.9 915.8,990.7 916.4,990.0 917.0,990.2 917.6,990.2 918.2,990.7 918.8,990.1 919.4,989.4 920.0,988.4 920.6,987.5 921.2,986.8 921.8,987.1 922.4,987.5 923.0,986.3 923.6,985.7 924.2,985.4 924.8,985.5 925.4,984.0 926.0,984.2 926.6,984.9 927.2,986.3 927.8,985.6 928.4,985.0 929.0,985.7 929.6,987.2 930.2,988.5 930.8,988.5 931.4,988.8 932.0,988.8 932.6,989.1 933.2,988.8 933.8,989.2 934.4,989.1 935.0,989.7 935.6,989.7 936.2,989.2 936.8,989.1 937.4,987.9 938.0,987.9 938.6,987.1 939.2,987.5 939.8,986.0 940.4,985.6 941.0,985.3 941.6,986.5 942.2,985.2 942.8,984.4 943.4,984.0 944.0,984.9 944.6,986.1 945.2,986.3 945.8,987.4 946.4,987.6 947.0,987.8 947.6,987.4 948.2,987.5 948.8,988.5 949.4,989.6 950.0,989.9 950.6,990.2 951.2,989.1 951.8,987.7 952.4,986.9 953.0,987.4 953.6,988.2 954.2,987.5 954.8,987.2 955.4,987.9 956.0,988.0 956.6,986.6 957.2,982.8 957.8,981.1 958.4,978.8 959.0,976.9 959.6,974.1 960.2,972.2 960.8,969.1 961.4,966.5 962.0,966.0 962.6,966.1 963.2,965.6 963.8,964.6 964.4,963.9 965.0,962.8 965.6,962.9 966.2,962.1 966.8,962.0 967.4,960.8 968.0,960.5 968.6,959.8 969.2,959.7 969.8,956.7 970.4,933.7 971.0,890.8 971.6,854.6 972.2,843.0 972.8,830.7 973.4,819.3 974.0,806.4 974.6,795.0 975.2,782.6 975.8,771.0 976.4,759.0 977.0,747.9 977.6,736.1 978.2,726.3 978.8,720.6 979.4,716.1 980.0,711.8 980.6,708.1 981.2,703.4 981.8,699.9 982.4,697.9 983.0,696.5 983.6,695.5 984.2,693.7 984.8,693.0 985.4,696.0 986.0,700.2 986.6,703.4 987.2,707.2 987.8,710.1 988.4,712.7 989.0,714.0 989.6,716.2 990.2,713.3 990.8,709.9 991.4,706.3 992.0,702.2 992.6,699.5 993.2,696.7 993.8,693.7 994.4,690.5 995.0,679.6 995.6,662.6 996.2,597.6 996.8,532.0 996.9,507.8"/>
<polyline class="c" stroke="#fd3c3c" stroke-width="8.8" stroke-linejoin="round" stroke-miterlimit="10" points="1024.8,366.9 1025.4,510.2 1026.0,540.2 1026.6,560.2 1027.2,579.5 1027.8,599.7 1028.4,612.0 1029.0,620.4 1029.6,628.5 1030.2,636.4 1030.8,643.7 1031.4,650.7 1032.0,658.2 1032.6,665.6 1033.2,672.6 1033.8,681.1 1034.4,690.1 1035.0,700.6 1035.6,709.5 1036.2,718.2 1036.8,724.7 1037.4,732.2 1038.0,739.5 1038.6,746.6 1039.2,753.7 1039.8,760.9 1040.4,769.0 1041.0,775.8 1041.6,780.4 1042.2,781.0 1042.8,782.3 1043.4,784.4 1044.0,785.2 1044.6,787.7 1045.2,787.8 1045.8,790.1 1046.4,791.7 1047.0,792.8 1047.6,793.6 1048.2,794.0 1048.8,794.3 1049.4,794.0 1050.0,792.9 1050.6,791.8 1051.2,791.5 1051.8,795.5 1052.4,799.8 1053.0,804.0 1053.6,808.1 1054.2,813.2 1054.8,817.0 1055.4,820.9 1056.0,824.0 1056.6,826.9 1057.2,828.2 1057.8,829.8 1058.4,830.9 1059.0,831.9 1059.6,833.5 1060.2,835.8 1060.8,838.6 1061.4,840.0 1062.0,839.6 1062.6,839.1 1063.2,839.3 1063.8,839.1 1064.4,838.5 1065.0,838.7 1065.6,836.7 1066.2,834.6 1066.8,831.2 1067.4,829.6 1068.0,827.8 1068.6,832.1 1069.2,834.8 1069.8,838.2 1070.4,840.7 1071.0,844.5 1071.6,846.6 1072.2,849.8 1072.8,852.1 1073.4,854.2 1074.0,854.2 1074.6,854.9 1075.2,855.6 1075.8,855.7 1076.4,856.8 1077.0,857.8 1077.6,859.2 1078.2,859.5 1078.8,860.7 1079.4,861.6 1080.0,861.8 1080.6,861.9 1081.2,861.8 1081.8,862.2 1082.4,860.9 1083.0,860.4 1083.6,860.0 1084.2,859.7 1084.8,858.8 1085.4,857.7 1086.0,856.8 1086.6,857.7 1087.2,860.1 1087.8,862.2 1088.4,864.4 1089.0,866.8 1089.6,869.0 1090.2,871.8 1090.8,874.0 1091.4,876.1 1092.0,876.1 1092.6,876.4 1093.2,877.1 1093.8,877.8 1094.4,878.3 1095.0,878.4 1095.6,879.3 1096.2,880.1 1096.8,879.7 1097.4,878.5 1098.0,877.3 1098.6,876.1 1099.2,874.8 1099.8,872.1 1100.4,864.0 1101.0,855.8 1101.6,846.0 1102.2,837.2 1102.8,848.0 1103.4,858.6 1104.0,869.2 1104.6,879.1 1105.2,882.3 1105.8,885.6 1106.4,887.5 1107.0,888.3 1107.6,888.2 1108.2,890.0 1108.8,890.7 1109.4,891.8 1110.0,892.1 1110.6,892.6 1111.2,893.4 1111.8,891.7 1112.4,891.1 1113.0,890.2 1113.6,889.9 1114.2,889.1 1114.8,888.2 1115.4,884.9 1116.0,880.8 1116.6,876.8 1117.2,873.2 1117.8,869.4 1118.4,873.2 1119.0,877.4 1119.6,882.3 1120.2,886.8 1120.8,891.0 1121.4,893.2 1122.0,895.9 1122.6,897.9 1123.2,899.1 1123.8,900.7 1124.4,901.5 1125.0,902.3 1125.6,902.5 1126.2,903.4 1126.8,904.5 1127.4,904.2 1128.0,903.9 1128.6,903.1 1129.2,902.0 1129.8,900.7 1130.4,897.9 1131.0,896.7 1131.6,893.8 1132.2,886.8 1132.8,879.4 1133.4,873.0 1134.0,865.9 1134.6,858.4 1135.2,849.3 1135.8,839.8 1136.4,831.8 1137.0,823.1 1137.6,815.4 1138.2,807.4 1138.8,800.3 1139.4,793.2 1140.0,785.0 1140.6,777.9 1141.2,770.2 1141.8,777.4 1142.4,784.9 1143.0,792.1 1143.6,799.0 1144.2,805.6 1144.8,814.0 1145.4,822.8 1146.0,832.0 1146.6,840.9 1147.2,850.9 1147.8,859.1 1148.4,866.9 1149.0,873.2 1149.6,880.9 1150.2,888.4 1150.8,895.5 1151.4,900.7 1152.0,905.6 1152.6,910.1 1153.2,913.2 1153.8,914.9 1154.4,916.9 1155.0,918.8 1155.6,920.6 1156.2,922.6 1156.8,923.9 1157.4,925.6 1158.0,927.2 1158.6,929.6 1159.2,932.1 1159.8,933.3 1160.4,933.2 1161.0,932.4 1161.6,932.1 1162.2,931.2 1162.8,930.2 1163.4,929.1 1164.0,928.4 1164.6,928.0 1165.2,927.0 1165.8,926.8 1166.4,925.8 1167.0,925.1 1167.6,924.8 1168.2,924.2 1168.8,925.0 1169.4,925.9 1170.0,927.6 1170.6,928.1 1171.2,929.1 1171.8,930.1 1172.4,931.6 1173.0,933.1 1173.6,934.5 1174.2,935.4 1174.8,935.7 1175.4,936.3 1176.0,936.7 1176.6,937.0 1177.2,937.7 1177.8,937.1 1178.4,936.9 1179.0,936.6 1179.6,936.6 1180.2,936.3 1180.8,935.3 1181.4,935.4 1182.0,935.3 1182.6,935.7 1183.2,935.4 1183.8,934.6 1184.4,934.0 1185.0,934.1 1185.6,935.2 1186.2,934.7 1186.8,935.2 1187.4,934.7 1188.0,936.7 1188.6,937.6 1189.2,939.6 1189.8,940.7 1190.4,941.8 1191.0,942.4 1191.6,943.2 1192.2,944.4 1192.8,945.3 1193.4,945.7 1194.0,945.2 1194.6,945.9 1195.2,945.8 1195.8,945.9 1196.4,945.0 1197.0,944.6 1197.6,944.4 1198.2,944.7 1198.8,944.9 1199.4,945.2 1200.0,945.0 1200.6,944.2 1201.2,943.8 1201.8,944.0 1202.4,945.5 1203.0,945.3 1203.6,944.8 1204.2,944.9 1204.8,946.3 1205.4,947.5 1206.0,948.5 1206.6,949.4 1207.2,950.0 1207.8,950.8 1208.4,952.1 1209.0,954.0 1209.6,955.1 1210.2,955.6 1210.8,955.6 1211.4,955.2 1212.0,954.5 1212.6,954.3 1213.2,954.6 1213.8,955.1 1214.4,955.7 1215.0,954.8 1215.6,953.4 1216.2,952.5 1216.8,952.7 1217.4,952.8 1218.0,951.9 1218.6,951.7 1219.2,952.8 1219.8,953.4 1220.4,953.9 1221.0,954.0 1221.6,954.8 1222.2,955.3 1222.8,956.5 1223.4,957.7 1224.0,958.7 1224.6,958.4 1225.2,959.8 1225.8,960.3 1226.4,961.6 1227.0,960.8 1227.6,961.5 1228.2,961.1 1228.8,961.6 1229.4,961.3 1230.0,962.1 1230.6,961.5 1231.2,961.0 1231.8,959.4 1232.4,959.4 1233.0,958.0 1233.6,957.1 1234.2,955.0 1234.8,954.8 1235.4,954.1 1236.0,953.6 1236.6,952.8 1237.2,952.0 1237.8,951.0 1238.4,950.2 1239.0,948.8 1239.6,948.0 1240.2,946.3 1240.8,945.3 1241.4,944.2 1242.0,943.0 1242.6,941.7 1243.2,940.2 1243.8,937.4 1244.4,935.7 1245.0,933.6 1245.6,930.9 1246.2,917.3 1246.8,904.6 1247.4,862.3 1248.0,841.5 1248.6,823.9 1249.2,806.4 1249.8,794.6 1250.4,786.6 1251.0,778.0 1251.6,783.5 1252.2,791.7 1252.8,800.1 1253.4,816.6 1254.0,832.9 1254.6,849.7 1255.2,873.0 1255.8,900.1 1256.4,910.5 1257.0,917.7 1257.6,925.0 1258.2,930.6 1258.8,936.5 1259.4,941.9 1260.0,947.6 1260.6,951.6 1261.2,955.9 1261.8,959.9 1262.4,964.6 1263.0,966.8 1263.6,968.0 1264.2,968.5 1264.8,969.1 1265.4,969.3 1266.0,968.9 1266.6,970.2 1267.2,970.6 1267.8,971.1 1268.4,971.8 1269.0,972.9 1269.6,973.5 1270.2,974.1 1270.8,974.4 1271.4,976.4 1272.0,977.2 1272.6,977.5 1273.2,976.5 1273.8,975.7 1274.4,976.1 1275.0,976.3 1275.6,977.0 1276.2,977.1 1276.8,976.7 1277.4,976.2 1278.0,976.8 1278.6,977.9 1279.2,978.3 1279.8,977.8 1280.4,977.4 1281.0,977.6 1281.6,977.1 1282.2,977.6 1282.8,977.5 1283.4,978.3 1284.0,977.1 1284.6,977.5 1285.2,978.1 1285.8,978.3 1286.4,978.9 1287.0,978.6 1287.6,979.3 1288.2,978.2 1288.8,978.6 1289.4,979.0 1290.0,979.9 1290.6,979.4 1291.2,979.0 1291.8,979.2 1292.4,978.9 1293.0,979.5 1293.6,978.5 1294.2,978.4 1294.8,977.4 1295.4,978.3 1296.0,977.6 1296.6,977.1 1297.2,975.9 1297.8,975.2 1298.4,974.1 1299.0,971.1 1299.6,967.8 1300.2,966.6 1300.8,968.3 1301.4,971.5 1302.0,974.1 1302.6,976.6 1303.2,977.7 1303.8,978.4 1304.4,978.8 1305.0,980.2 1305.6,981.1 1306.2,981.6 1306.8,981.3 1307.4,981.4 1308.0,981.5 1308.6,981.7 1309.2,981.0 1309.8,981.7 1310.4,982.3 1311.0,983.3 1311.6,983.3 1312.2,983.2 1312.8,984.0 1313.4,984.0 1314.0,983.4 1314.6,982.3 1315.2,982.5 1315.8,983.4 1316.4,983.9 1317.0,983.8 1317.6,983.1 1318.2,981.6 1318.8,980.1 1319.4,978.2 1320.0,977.6 1320.6,977.1 1321.2,978.7 1321.8,980.3 1322.4,981.4 1323.0,982.8 1323.6,984.0 1324.2,984.8 1324.8,985.1 1325.4,985.4 1326.0,986.2 1326.6,986.8 1327.2,986.8 1327.8,987.6 1328.4,987.5 1329.0,987.6 1329.6,987.6 1330.2,988.0 1330.8,988.3 1331.4,988.1 1332.0,987.6 1332.6,987.5 1333.2,987.6 1333.8,988.1 1334.4,988.4 1335.0,988.7 1335.6,988.8 1336.2,988.9 1336.8,989.7 1337.4,990.3 1338.0,990.1 1338.6,989.8 1339.2,989.3 1339.8,989.6 1340.4,989.5 1341.0,989.5 1341.6,989.1 1342.2,988.3 1342.8,988.8 1343.4,989.9 1344.0,990.6 1344.6,990.8 1345.2,990.3 1345.8,990.9 1346.4,990.5 1347.0,990.7 1347.6,990.7 1348.2,990.2 1348.8,990.4 1349.4,990.6 1350.0,990.6 1350.6,990.9 1351.2,991.1 1351.8,992.2 1352.4,992.2 1353.0,992.2 1353.6,991.8 1354.2,991.6 1354.8,991.7 1355.4,993.1 1356.0,994.1 1356.6,994.2 1357.2,993.3 1357.8,992.8 1358.4,993.3 1359.0,993.2 1359.6,992.8 1360.2,993.4 1360.8,994.2 1361.4,994.1 1362.0,992.7 1362.6,992.1 1363.2,992.9 1363.8,993.9 1364.4,994.1 1365.0,993.5 1365.6,993.5 1366.2,993.9 1366.8,994.7 1367.4,994.5 1368.0,994.5 1368.6,994.6 1369.2,994.5 1369.8,994.4 1370.4,994.0 1371.0,994.9 1371.6,995.1 1372.2,995.3 1372.8,995.1 1373.4,995.5 1374.0,995.2 1374.6,995.1 1375.2,995.3 1375.8,995.7 1376.4,995.7 1377.0,994.6 1377.6,995.3 1378.2,994.5 1378.8,994.5 1379.4,994.5 1380.0,995.5 1380.6,996.4 1381.2,996.9 1381.8,997.3 1382.4,997.6 1383.0,997.8 1383.6,997.0 1384.2,996.8 1384.8,997.8 1385.4,999.2 1386.0,999.7 1386.6,998.8 1387.2,998.4 1387.8,998.0 1388.4,998.6 1389.0,998.1 1389.6,998.3 1390.2,998.5 1390.8,997.9 1391.4,998.1 1392.0,996.7 1392.6,997.3 1393.2,997.2 1393.8,997.8 1394.4,998.1 1395.0,997.9 1395.6,998.1 1396.2,997.6 1396.8,997.8 1397.4,997.4 1398.0,998.2 1398.6,997.9 1399.2,998.7 1399.8,998.4 1400.4,998.8 1401.0,999.1 1401.6,999.3 1402.2,998.8 1402.8,998.6 1403.4,997.4 1404.0,998.3 1404.6,998.1 1405.2,998.7 1405.8,998.7 1406.4,998.8 1407.0,1000.2 1407.6,1000.0 1408.2,1001.0 1408.8,1000.8 1409.4,1000.8 1410.0,999.8 1410.6,999.8 1411.2,1000.0 1411.8,1000.5 1412.4,999.9 1413.0,999.6 1413.6,999.4 1414.2,999.2 1414.8,999.1 1415.4,999.2 1416.0,1000.3 1416.6,1001.6 1417.2,1001.8 1417.8,1001.2 1418.4,1000.8 1419.0,1001.4 1419.6,1001.6 1420.2,1001.2 1420.8,1000.6 1421.4,1001.0 1422.0,1002.3 1422.6,1002.2 1423.2,1001.0 1423.8,1000.4 1424.4,1000.6 1425.0,1001.5 1425.6,1001.7 1426.2,1001.9 1426.8,1001.3 1427.4,1000.1 1428.0,1000.1 1428.6,1000.2 1429.2,1001.1 1429.8,1000.7 1430.4,1001.1 1431.0,1000.4 1431.6,1000.8 1432.2,1000.8 1432.8,1001.7 1433.4,1002.4 1434.0,1002.5 1434.6,1002.0 1435.2,1002.3 1435.8,1002.5 1436.4,1003.1 1437.0,1002.6 1437.6,1003.1 1438.2,1003.3 1438.8,1003.3 1439.4,1003.1 1440.0,1002.4 1440.6,1001.9 1441.2,1001.5 1441.8,1001.9 1442.4,1002.1 1443.0,1002.3 1443.6,1002.2 1444.2,1002.0 1444.8,1001.1 1445.4,1001.3 1446.0,1001.6 1446.6,1001.7 1447.2,1001.2 1447.8,1000.7 1448.4,1000.5 1449.0,998.6 1449.6,996.6 1450.2,994.2 1450.8,992.1 1451.4,986.7 1452.0,980.0 1452.6,975.1 1453.2,979.1 1453.8,986.4 1454.4,991.5 1455.0,994.2 1455.6,996.6 1456.2,998.9 1456.8,1000.8 1457.4,1001.7 1458.0,1002.6 1458.6,1002.4 1459.2,1002.2 1459.8,1002.5 1460.4,1003.3 1461.0,1003.4 1461.6,1003.5 1462.2,1003.8 1462.8,1003.6 1463.4,1003.1 1464.0,1002.7 1464.6,1003.5 1465.2,1003.2 1465.8,1004.2 1466.4,1003.4 1467.0,1004.1 1467.6,1003.2 1468.2,1003.8 1468.8,1004.2 1469.4,1005.3 1470.0,1006.0 1470.6,1005.6 1471.2,1005.3 1471.8,1004.9 1472.4,1005.2 1473.0,1005.1 1473.6,1005.5 1474.2,1005.4 1474.8,1006.1 1475.4,1005.9 1476.0,1006.0 1476.6,1005.3 1477.2,1005.0 1477.8,1004.3 1478.4,1004.5 1479.0,1004.6 1479.6,1005.5 1480.2,1005.2 1480.8,1006.6 1481.4,1006.2 1482.0,1007.3 1482.6,1006.5 1483.2,1005.5 1483.8,1005.0 1484.4,1005.2 1485.0,1005.3 1485.6,1005.7 1486.2,1004.8 1486.8,1005.6 1487.4,1005.4 1488.0,1005.1 1488.6,1005.4 1489.2,1005.1 1489.8,1005.6 1490.4,1005.8 1491.0,1007.5 1491.6,1008.0 1492.2,1008.0 1492.8,1006.6 1493.4,1006.2 1494.0,1006.1 1494.6,1006.7 1495.2,1007.1 1495.8,1007.4 1496.4,1006.7 1497.0,1007.7 1497.6,1006.7 1498.2,1007.1 1498.8,1006.3 1499.4,1007.1 1500.0,1006.5 1500.6,1005.8 1501.2,1005.6 1501.8,1006.2 1502.4,1006.2 1503.0,1005.9 1503.6,1006.1 1504.2,1007.0 1504.8,1007.2 1505.4,1006.8 1506.0,1006.1 1506.6,1007.3 1507.2,1007.8 1507.8,1008.1 1508.4,1007.6 1509.0,1008.3 1509.6,1008.8 1510.2,1007.9 1510.8,1007.0 1511.4,1006.4 1512.0,1006.8 1512.6,1006.4 1513.2,1006.5 1513.8,1006.2 1514.4,1006.8 1515.0,1007.0 1515.6,1006.9 1516.2,1006.1 1516.8,1006.0 1517.4,1006.8 1518.0,1007.7 1518.6,1007.9 1519.2,1006.4 1519.8,1006.0 1520.4,1005.8 1521.0,1007.0 1521.6,1006.7 1522.2,1006.9 1522.8,1006.8 1523.4,1008.4 1524.0,1008.9 1524.6,1009.1 1525.2,1008.0 1525.8,1007.7 1526.4,1007.9 1527.0,1007.8 1527.6,1007.8 1528.2,1008.2 1528.8,1008.7 1529.4,1008.9 1530.0,1009.1 1530.6,1008.8 1531.2,1008.4 1531.8,1007.1 1532.4,1006.8 1533.0,1007.2 1533.6,1008.1 1534.2,1008.8 1534.8,1008.7 1535.4,1008.2 1536.0,1008.1 1536.6,1008.8 1537.2,1009.0 1537.8,1008.9 1538.4,1009.0 1539.0,1009.3 1539.6,1009.2 1540.2,1007.8 1540.8,1008.3 1541.4,1008.6 1542.0,1009.5 1542.6,1008.8 1543.2,1008.1 1543.8,1008.0 1544.4,1008.2 1545.0,1009.2 1545.6,1008.7 1546.2,1009.4 1546.8,1009.0 1547.4,1010.0 1548.0,1009.0 1548.6,1009.2 1549.2,1009.2 1549.8,1009.7 1550.4,1009.0 1551.0,1008.4 1551.6,1008.6 1552.2,1008.7 1552.8,1008.3 1553.4,1008.2 1554.0,1008.4 1554.6,1009.3 1555.2,1008.7 1555.8,1008.4 1556.4,1007.8 1557.0,1008.9 1557.6,1009.3 1558.2,1009.6 1558.8,1009.1 1559.4,1009.1 1560.0,1009.6 1560.6,1009.5 1561.2,1010.1 1561.8,1009.0 1562.4,1008.2 1563.0,1007.0 1563.6,1007.6 1564.2,1008.2 1564.8,1009.6 1565.4,1010.3 1566.0,1010.3 1566.6,1009.9 1567.2,1009.5 1567.8,1010.2 1568.4,1010.0 1569.0,1010.1 1569.6,1009.4 1570.2,1009.6 1570.8,1009.7 1571.4,1009.4 1572.0,1009.2 1572.6,1009.1 1573.2,1009.4 1573.8,1009.8 1574.4,1009.4 1575.0,1009.7 1575.6,1009.6 1576.2,1010.0 1576.8,1010.0 1577.4,1010.7 1578.0,1010.9 1578.6,1011.1 1579.2,1010.4 1579.8,1010.0 1580.4,1009.4 1581.0,1010.7 1581.6,1010.5 1582.2,1011.0 1582.8,1010.4 1583.4,1010.0 1584.0,1009.4 1584.6,1008.7 1585.2,1008.9 1585.8,1008.7 1586.4,1008.7 1587.0,1009.6 1587.6,1010.4 1588.2,1010.6 1588.8,1010.1 1589.4,1009.2 1590.0,1009.5 1590.6,1009.6 1591.2,1009.9 1591.8,1009.7 1592.4,1009.4 1593.0,1009.7 1593.6,1009.2 1594.2,1009.0 1594.8,1008.8 1595.4,1009.4 1596.0,1009.9 1596.6,1010.4 1597.2,1010.1 1597.8,1009.8 1598.4,1010.5 1599.0,1009.9 1599.6,1010.5 1600.2,1009.8 1600.8,1010.6 1601.4,1009.9 1602.0,1009.7 1602.6,1009.2 1603.2,1008.9 1603.8,1008.9 1604.4,1008.7 1605.0,1009.6 1605.6,1010.1 1606.2,1009.4 1606.8,1008.5 1607.4,1008.1 1608.0,1009.6 1608.6,1010.3 1609.2,1010.3 1609.8,1010.5 1610.4,1010.8 1611.0,1011.4 1611.6,1011.1 1612.2,1011.1 1612.8,1009.7 1613.4,1009.6 1614.0,1008.8 1614.6,1010.0 1615.2,1010.9 1615.8,1011.6 1616.4,1010.5 1617.0,1009.4 1617.6,1009.2 1618.2,1009.7 1618.8,1010.0 1619.4,1010.2 1620.0,1008.8 1620.6,1008.6 1621.2,1007.6 1621.8,1008.0 1622.4,1007.6 1623.0,1007.6 1623.6,1007.4 1624.2,1006.7 1624.8,1007.3 1625.4,1008.7 1626.0,1010.1 1626.6,1010.3 1627.2,1010.0 1627.8,1010.2 1628.4,1010.2 1629.0,1011.0 1629.6,1010.6 1630.2,1010.9 1630.8,1010.3 1631.4,1010.4 1632.0,1010.1 1632.6,1010.0 1633.2,1009.8 1633.8,1009.8 1634.4,1010.2 1635.0,1010.3 1635.6,1010.5 1636.2,1010.3 1636.8,1010.2 1637.4,1011.0 1638.0,1011.1 1638.6,1011.0 1639.2,1010.2 1639.8,1010.5 1640.4,1010.7 1641.0,1010.7 1641.6,1010.4 1642.2,1010.5 1642.8,1010.8 1643.4,1011.1 1644.0,1010.4 1644.6,1009.8 1645.2,1008.6 1645.8,1009.6 1646.4,1010.4 1647.0,1012.0 1647.6,1011.8 1648.2,1011.8 1648.8,1011.3 1649.4,1011.2 1650.0,1010.1 1650.6,1009.8 1651.2,1009.7 1651.8,1010.7 1652.4,1011.7 1653.0,1011.7 1653.6,1011.5 1654.2,1011.0 1654.8,1010.9 1655.4,1010.0 1656.0,1009.6 1656.6,1009.4 1657.2,1010.0 1657.8,1010.2 1658.4,1010.7 1659.0,1010.8 1659.6,1011.1 1660.2,1010.8 1660.8,1011.2 1661.4,1010.3 1662.0,1010.8 1662.6,1010.6 1663.2,1010.9 1663.8,1010.3 1664.4,1010.4 1665.0,1010.4 1665.6,1011.4 1666.2,1011.5 1666.8,1011.7 1667.4,1011.4 1668.0,1011.5 1668.6,1011.7 1669.2,1011.3 1669.8,1011.0 1670.4,1011.1 1671.0,1011.6 1671.6,1011.6 1672.2,1011.3 1672.8,1011.2 1673.4,1010.8 1674.0,1010.3 1674.6,1010.8 1675.2,1010.9 1675.8,1011.6 1676.4,1010.5 1677.0,1010.9 1677.6,1010.5 1678.2,1012.3 1678.8,1011.8 1679.4,1011.7 1680.0,1011.0 1680.6,1011.8 1681.2,1011.4 1681.8,1011.1 1682.4,1011.0 1683.0,1011.4 1683.6,1011.6 1684.2,1011.0 1684.8,1011.1 1685.4,1010.7 1686.0,1010.7 1686.6,1010.6 1687.2,1011.6 1687.8,1011.7 1688.4,1011.9 1689.0,1011.4 1689.6,1011.5 1690.2,1012.4 1690.8,1011.9 1691.4,1012.1 1692.0,1011.6 1692.6,1011.8 1693.2,1011.6 1693.8,1011.5 1694.4,1012.1 1695.0,1012.0 1695.6,1011.8 1696.2,1011.0 1696.8,1011.5 1697.4,1011.9 1698.0,1012.4 1698.6,1011.7 1699.2,1011.6 1699.8,1011.2 1700.4,1011.6 1701.0,1011.6 1701.6,1010.9 1702.2,1011.1 1702.8,1011.1 1703.4,1011.3 1704.0,1011.2 1704.6,1011.8 1705.2,1012.2 1705.8,1012.5 1706.4,1011.8 1707.0,1011.6 1707.6,1011.0 1708.2,1010.9 1708.8,1011.8 1709.4,1012.5 1710.0,1012.4 1710.6,1012.3 1711.2,1011.9 1711.8,1011.9 1712.4,1011.7 1713.0,1011.4 1713.6,1011.0 1714.2,1011.4 1714.8,1011.0 1715.4,1011.9 1716.0,1010.8 1716.6,1011.5 1717.2,1011.2 1717.8,1011.6 1718.4,1010.8 1719.0,1010.8 1719.6,1011.0 1720.2,1011.5 1720.8,1011.5 1721.4,1012.0 1722.0,1012.0 1722.6,1012.2 1723.2,1011.3 1723.8,1011.8 1724.4,1011.9 1725.0,1013.4 1725.6,1013.6 1726.2,1013.5 1726.8,1013.1 1727.4,1012.3 1728.0,1012.6 1728.6,1011.8 1729.2,1012.0 1729.8,1012.0 1730.4,1012.3 1731.0,1013.1 1731.6,1012.1 1732.2,1012.1 1732.8,1011.4 1733.4,1011.8 1734.0,1011.0 1734.6,1011.6 1735.2,1011.8 1735.8,1012.1 1736.4,1011.2 1737.0,1010.8 1737.6,1011.7 1738.2,1012.2 1738.8,1012.5 1739.4,1012.1 1740.0,1012.1 1740.6,1012.4 1741.2,1012.5 1741.8,1012.6 1742.4,1012.9 1743.0,1012.1 1743.6,1012.0 1744.2,1011.5 1744.8,1012.0 1745.4,1012.0 1746.0,1011.9 1746.6,1011.7 1747.2,1012.1 1747.8,1012.1 1748.4,1011.8 1749.0,1011.6 1749.6,1012.2 1750.2,1012.6 1750.8,1012.4 1751.4,1011.7 1752.0,1011.7 1752.6,1012.1 1753.2,1012.7 1753.8,1012.9 1754.4,1012.3 1755.0,1011.4 1755.6,1011.4 1756.2,1011.7 1756.8,1012.8 1757.4,1013.4 1758.0,1013.4 1758.6,1013.3 1759.2,1012.1 1759.8,1012.4 1760.4,1012.4 1761.0,1013.3 1761.6,1013.1 1762.2,1012.9 1762.8,1012.9 1763.4,1012.4 1764.0,1012.4 1764.6,1012.3 1765.2,1012.2 1765.8,1011.5 1766.4,1011.2 1767.0,1011.5 1767.6,1012.2 1768.2,1012.3 1768.8,1011.9 1769.4,1011.7 1770.0,1011.9 1770.6,1012.0 1771.2,1011.8 1771.8,1010.9 1772.4,1011.3 1773.0,1012.1 1773.6,1012.0 1774.2,1011.9 1774.8,1011.5 1775.4,1011.8 1776.0,1011.3 1776.6,1010.5 1777.2,1010.4 1777.8,1010.5 1778.4,1011.1 1779.0,1011.4 1779.6,1011.7 1780.2,1011.4 1780.8,1010.9 1781.4,1011.1 1782.0,1011.4 1782.6,1011.5 1783.2,1011.6 1783.8,1011.2 1784.4,1011.5 1785.0,1011.5 1785.6,1010.2 1786.2,1009.5 1786.8,1008.9 1787.4,1009.7 1788.0,1009.9 1788.6,1010.1 1789.2,1010.3 1789.8,1010.1 1790.4,1009.2 1791.0,1009.2 1791.6,1010.3 1792.2,1009.6 1792.8,1009.3 1793.4,1008.3 1794.0,1008.3 1794.6,1008.0 1795.2,1007.4 1795.8,1007.7 1796.4,1008.2 1797.0,1008.9 1797.6,1009.2 1798.2,1008.6 1798.8,1008.4 1799.4,1008.2 1800.0,1007.3 1800.6,1006.8 1801.2,1006.5 1801.8,1006.4 1802.4,1006.1 1803.0,1006.0 1803.6,1006.5 1804.2,1006.1 1804.8,1005.0 1805.4,1004.3 1806.0,1004.2 1806.6,1003.9 1807.2,1003.4 1807.8,1003.0 1808.4,1002.8 1809.0,1003.2 1809.6,1002.9 1810.2,1002.6 1810.8,1001.1 1811.4,1001.0 1812.0,1000.4 1812.6,998.8 1813.2,996.9 1813.8,995.5 1814.4,994.4 1815.0,993.2 1815.6,992.0 1816.2,990.8 1816.8,989.0 1817.4,987.6 1818.0,985.1 1818.6,983.7 1819.2,981.1 1819.8,979.5 1820.4,975.6 1821.0,973.3 1821.6,969.3 1822.2,966.4 1822.8,962.2 1823.4,958.4 1824.0,954.0 1824.6,947.9 1825.2,942.6 1825.8,937.2 1826.4,932.4 1827.0,926.3 1827.6,920.1 1828.2,913.9 1828.8,908.1 1829.4,902.7 1830.0,899.2 1830.6,896.3 1831.2,895.5 1831.8,894.8 1832.4,897.2 1833.0,899.4 1833.6,903.7 1834.2,908.3 1834.8,914.1 1835.4,920.1 1836.0,925.8 1836.6,932.1 1837.2,937.7 1837.8,944.0 1838.4,949.4 1839.0,954.0 1839.6,958.1 1840.2,962.3 1840.8,966.4 1841.4,970.6 1842.0,974.0 1842.6,977.6 1843.2,979.4 1843.8,981.5 1844.4,983.8 1845.0,985.5 1845.6,987.7 1846.2,989.0 1846.8,990.9 1847.4,992.2 1848.0,993.0 1848.6,994.5 1849.2,995.1 1849.8,996.0 1850.4,997.4 1851.0,998.5 1851.6,998.9 1852.2,999.5 1852.8,1000.2 1853.4,1000.3 1854.0,1000.5 1854.6,1001.7 1855.2,1003.7 1855.8,1004.9 1856.4,1005.0 1857.0,1005.5 1857.6,1004.8 1858.2,1005.3 1858.8,1006.0 1859.4,1007.0 1860.0,1007.3 1860.6,1006.2 1861.2,1006.2 1861.8,1005.9 1862.4,1007.2 1863.0,1007.3 1863.6,1008.2 1864.2,1007.7 1864.8,1008.9 1865.4,1008.5 1866.0,1009.2 1866.6,1009.6 1867.2,1010.4 1867.8,1010.1 1868.4,1009.5 1869.0,1009.9 1869.6,1010.8 1870.2,1009.9 1870.8,1009.7 1871.4,1008.7 1872.0,1010.3 1872.6,1010.4 1873.2,1011.1 1873.8,1010.8 1874.4,1011.0 1875.0,1010.8 1875.6,1011.3 1876.2,1011.1 1876.8,1011.0 1877.4,1011.0 1878.0,1011.8 1878.6,1013.0 1879.2,1012.8 1879.8,1011.9 1880.4,1011.8 1881.0,1012.4 1881.6,1013.2 1882.2,1013.5 1882.8,1012.5 1883.4,1012.7 1884.0,1012.4 1884.6,1012.2 1885.2,1011.2 1885.8,1010.6 1886.4,1011.3 1887.0,1012.2 1887.6,1012.4 1888.2,1012.4 1888.8,1012.2 1889.4,1012.4 1890.0,1012.7 1890.6,1013.0 1891.2,1013.0 1891.8,1012.9 1892.4,1012.6 1893.0,1012.9 1893.6,1012.7 1894.2,1013.5 1894.8,1013.3 1895.4,1013.6 1896.0,1012.7 1896.6,1012.6 1897.2,1012.6 1897.8,1012.9 1898.4,1012.8 1899.0,1012.3 1899.6,1012.4 1900.2,1012.7 1900.8,1013.4 1901.4,1013.9 1902.0,1013.8 1902.6,1012.8 1903.2,1012.3 1903.8,1011.7 1904.4,1012.0 1905.0,1012.5 1905.6,1013.5 1906.2,1013.7 1906.8,1013.1 1907.4,1012.9 1908.0,1012.5 1908.6,1012.9 1909.2,1012.8 1909.8,1014.3 1910.4,1013.7 1911.0,1014.3 1911.6,1013.3 1912.2,1014.1 1912.8,1013.4 1913.4,1013.9 1914.0,1013.4 1914.6,1013.5 1915.2,1013.1 1915.8,1013.5 1916.4,1014.0 1917.0,1014.7 1917.6,1014.9 1918.2,1013.7 1918.8,1012.9 1919.4,1011.8 1920.0,1012.7 1920.6,1013.2 1921.2,1013.4 1921.8,1013.1 1922.4,1013.0 1923.0,1013.4 1923.6,1014.5 1924.2,1014.6 1924.8,1015.0 1925.4,1015.0 1926.0,1014.7 1926.6,1014.5 1927.2,1013.4 1927.8,1013.8 1928.4,1014.2 1929.0,1015.1 1929.6,1015.0 1930.2,1014.4 1930.8,1013.5 1931.4,1013.0 1932.0,1013.3 1932.6,1014.2 1933.2,1013.8 1933.8,1012.9 1934.4,1013.0 1935.0,1013.3 1935.6,1014.3 1936.2,1013.2 1936.8,1014.2 1937.4,1014.4 1938.0,1015.0 1938.6,1015.0 1939.2,1014.7 1939.8,1014.9 1940.4,1015.3 1941.0,1015.8 1941.6,1015.3 1942.2,1014.2 1942.8,1013.7 1943.4,1013.9 1944.0,1014.3 1944.6,1014.1 1945.2,1014.5 1945.8,1014.5 1946.4,1014.9 1947.0,1014.6 1947.6,1014.9 1948.2,1014.3 1948.8,1014.9 1949.4,1014.8 1950.0,1015.5 1950.6,1015.1 1951.2,1015.4 1951.8,1015.5 1952.4,1015.4 1953.0,1014.9 1953.6,1014.0 1954.2,1014.0 1954.8,1013.9 1955.4,1014.5 1956.0,1015.4 1956.6,1014.8 1957.2,1014.9 1957.8,1014.4 1958.4,1015.6 1959.0,1016.1 1959.6,1015.1 1960.2,1014.3 1960.8,1014.1 1961.4,1014.5 1962.0,1015.6 1962.6,1015.4 1963.2,1015.6 1963.8,1015.1 1964.4,1014.9 1965.0,1014.9 1965.6,1014.5 1966.2,1014.6 1966.8,1014.3 1967.4,1014.7 1968.0,1014.2 1968.6,1013.8 1969.2,1013.9 1969.8,1014.6 1970.4,1014.8 1971.0,1014.5 1971.6,1014.0 1972.2,1015.2 1972.8,1014.7 1973.4,1015.8 1974.0,1014.7 1974.6,1015.5 1975.2,1014.7 1975.8,1014.9 1976.4,1015.1 1977.0,1015.5 1977.6,1015.6 1978.2,1014.8 1978.8,1015.4 1979.4,1016.0 1980.0,1016.5 1980.6,1015.5 1981.2,1015.1 1981.8,1015.1 1982.4,1015.7 1983.0,1015.2 1983.6,1015.2 1984.2,1014.4 1984.8,1015.3 1985.4,1016.0 1986.0,1016.3 1986.6,1016.0 1987.2,1015.8 1987.8,1015.8 1988.4,1015.2 1989.0,1015.1 1989.6,1015.4 1990.2,1015.7 1990.8,1015.9 1991.4,1015.7 1992.0,1015.1 1992.6,1014.7 1993.2,1014.6 1993.8,1016.0 1994.4,1015.9 1995.0,1015.8 1995.6,1015.3 1996.2,1015.4 1996.8,1014.9 1997.4,1014.8 1998.0,1014.6 1998.6,1015.7 1999.2,1016.6 1999.8,1016.3 2000.4,1015.3 2001.0,1014.0 2001.6,1014.2 2002.2,1014.3 2002.8,1014.7 2003.4,1015.4 2004.0,1015.1 2004.6,1014.5 2005.2,1013.3 2005.8,1014.3 2006.4,1015.4 2007.0,1015.5 2007.6,1014.4 2008.2,1013.9 2008.8,1015.0 2009.4,1016.0 2010.0,1016.0 2010.6,1015.8 2011.2,1015.5 2011.8,1015.2 2012.4,1015.6 2013.0,1015.4 2013.6,1015.1 2014.2,1014.1 2014.8,1013.3 2015.4,1013.6 2016.0,1014.0 2016.6,1013.9 2017.2,1014.0 2017.8,1013.9 2018.4,1013.9 2019.0,1012.1 2019.6,1009.4 2020.2,1006.9 2020.8,1003.2 2021.4,997.5 2022.0,991.1 2022.6,989.1 2023.2,994.3 2023.8,1000.5 2024.4,1006.2 2025.0,1009.5 2025.6,1012.3 2026.2,1012.5 2026.8,1013.6 2027.4,1013.7 2028.0,1015.2 2028.6,1015.2 2029.2,1015.3 2029.8,1014.5 2030.4,1015.0 2031.0,1015.9 2031.6,1016.1 2032.2,1015.5 2032.8,1015.3 2033.4,1015.1 2034.0,1015.0 2034.6,1014.7 2035.2,1014.9 2035.8,1015.2 2036.4,1015.1 2037.0,1015.6 2037.6,1015.5 2038.2,1016.2 2038.8,1016.3 2039.4,1016.8 2040.0,1016.7 2040.6,1016.7 2041.2,1016.1 2041.8,1016.1 2042.4,1015.5 2043.0,1015.5 2043.6,1015.6 2044.2,1015.9 2044.8,1016.2 2045.4,1015.5 2046.0,1016.1 2046.6,1015.7 2047.2,1016.3 2047.8,1015.7 2048.4,1016.4 2049.0,1016.1 2049.6,1015.7 2050.2,1014.6 2050.8,1014.6 2051.4,1014.5 2052.0,1015.5 2052.6,1016.2 2053.2,1015.8 2053.8,1015.1 2054.4,1014.6 2055.0,1016.0 2055.6,1016.7 2056.2,1016.7 2056.8,1016.4 2057.4,1016.5 2058.0,1017.1 2058.6,1017.1 2059.2,1016.4 2059.8,1015.6 2060.4,1015.4 2061.0,1015.6 2061.6,1015.7 2062.2,1015.4 2062.8,1015.5 2063.4,1015.8 2064.0,1015.9 2064.6,1015.8 2065.2,1015.2 2065.8,1015.4 2066.4,1016.7 2067.0,1017.1 2067.6,1017.7 2068.2,1017.0 2068.8,1016.1 2069.4,1015.6 2070.0,1015.1 2070.6,1015.4 2071.2,1014.8 2071.8,1015.9 2072.4,1015.8 2073.0,1016.0 2073.6,1015.8 2074.2,1016.7 2074.8,1016.2 2075.4,1015.7 2076.0,1015.2 2076.6,1015.8 2077.2,1016.2 2077.8,1016.2 2078.4,1016.1 2079.0,1016.4 2079.6,1015.9 2080.2,1015.9 2080.8,1015.5 2081.4,1015.7 2082.0,1015.6 2082.6,1014.9 2083.2,1015.5 2083.8,1015.5 2084.4,1016.3 2085.0,1016.7 2085.6,1016.9 2086.2,1016.5 2086.8,1016.2 2087.4,1016.2 2088.0,1015.8 2088.6,1016.2 2089.2,1016.2 2089.8,1017.0 2090.4,1016.1 2091.0,1016.3 2091.6,1016.9 2092.2,1017.6 2092.8,1016.7 2093.4,1015.9 2094.0,1015.6 2094.6,1016.3 2095.2,1016.2 2095.8,1016.4 2096.4,1016.1 2097.0,1016.3 2097.6,1015.8 2098.2,1016.1 2098.8,1016.4 2099.4,1016.4 2100.0,1016.7 2100.6,1015.9 2101.2,1016.0 2101.8,1015.6 2102.4,1016.5 2103.0,1016.3 2103.6,1016.9 2104.2,1015.8 2104.8,1016.0 2105.4,1015.9 2106.0,1016.8 2106.6,1016.4 2107.2,1015.6 2107.8,1015.7 2108.4,1015.6 2109.0,1016.3 2109.6,1015.7 2110.2,1016.2 2110.8,1016.9 2111.4,1017.8 2112.0,1018.1 2112.6,1016.6 2113.2,1016.1 2113.8,1015.8 2114.4,1016.3 2115.0,1016.7 2115.6,1016.0 2116.2,1016.2 2116.8,1015.7 2117.4,1016.1 2118.0,1016.7 2118.6,1016.1 2119.2,1016.4 2119.8,1015.7 2120.4,1015.4 2121.0,1014.8 2121.6,1014.4 2122.2,1015.6 2122.8,1016.5 2123.4,1017.2 2124.0,1016.9 2124.6,1015.7 2125.2,1015.5 2125.8,1015.2 2126.4,1016.6 2127.0,1017.0 2127.6,1018.1 2128.2,1018.0 2128.8,1017.7 2129.4,1016.4 2130.0,1016.2 2130.6,1015.3 2131.2,1016.1 2131.8,1015.6 2132.4,1016.0 2133.0,1015.3 2133.6,1015.6 2134.2,1015.9 2134.8,1016.0 2135.4,1016.3 2136.0,1015.7 2136.6,1016.5 2137.2,1016.1 2137.8,1016.9 2138.4,1017.2 2139.0,1016.5 2139.6,1015.7 2140.2,1014.7 2140.8,1016.2 2141.4,1016.4 2142.0,1016.6 2142.6,1015.9 2143.2,1016.3 2143.8,1015.7 2144.4,1016.3 2145.0,1014.8 2145.6,1014.6 2146.2,1015.0 2146.8,1016.3 2147.4,1016.7 2148.0,1016.8 2148.6,1017.2 2149.2,1018.0 2149.8,1016.9 2150.4,1016.8 2151.0,1016.5 2151.6,1016.0 2152.2,1016.0 2152.8,1015.7 2153.4,1016.9 2154.0,1017.2 2154.6,1017.0 2155.2,1016.2 2155.8,1015.8 2156.4,1016.3 2157.0,1016.4 2157.6,1016.3 2158.2,1016.3 2158.8,1016.6 2159.4,1017.1 2160.0,1017.0 2160.6,1016.4 2161.2,1015.2 2161.8,1015.5 2162.4,1015.7 2163.0,1016.3 2163.6,1015.8 2164.2,1015.3 2164.8,1015.3 2165.4,1014.4 2166.0,1014.8 2166.6,1014.6 2167.2,1016.4 2167.8,1016.8 2168.4,1017.1 2169.0,1016.4 2169.6,1016.5 2170.2,1016.3 2170.8,1016.1 2171.4,1015.7 2172.0,1017.0 2172.6,1017.1 2173.2,1016.5 2173.8,1015.8 2174.4,1016.8 2175.0,1017.2 2175.6,1018.3 2176.2,1017.2 2176.8,1018.0 2177.4,1016.4 2178.0,1016.3 2178.6,1015.4 2179.2,1015.2 2179.8,1014.4 2180.4,1015.4 2181.0,1015.3 2181.6,1016.4 2182.2,1016.0 2182.8,1016.2 2183.4,1016.1 2184.0,1015.9 2184.6,1016.0 2185.2,1016.0 2185.8,1016.1 2186.4,1015.5 2187.0,1014.4 2187.6,1013.4 2188.2,1013.3 2188.8,1013.9 2189.4,1014.3 2190.0,1013.8 2190.6,1012.8 2191.2,1010.1 2191.8,1008.4 2192.4,1005.9 2193.0,1003.9 2193.6,1001.3 2194.2,999.1 2194.5,998.7"/>
<polyline class="c" stroke="#0670e0" stroke-width="8.8" stroke-linejoin="round" stroke-miterlimit="10" points="194.0,806.8 194.6,806.2 195.2,806.5 195.8,806.8 196.4,806.4 197.0,806.0 197.6,805.6 198.2,805.9 198.8,806.0 199.4,807.0 200.0,806.1 200.6,805.6 201.2,805.1 201.8,805.4 202.4,805.0 203.0,805.6 203.6,805.2 204.2,804.4 204.8,804.2 205.4,803.8 206.0,804.2 206.6,803.2 207.2,802.2 207.8,802.7 208.4,802.0 209.0,803.0 209.6,804.2 210.2,806.5 210.8,807.5 211.4,807.1 212.0,807.4 212.6,807.7 213.2,808.3 213.8,808.1 214.4,807.6 215.0,807.8 215.6,806.5 216.2,807.4 216.8,806.2 217.4,806.4 218.0,805.0 218.6,805.1 219.2,804.5 219.8,803.6 220.4,801.9 221.0,800.2 221.6,798.4 222.2,796.0 222.8,793.8 223.4,792.2 224.0,793.0 224.6,794.3 225.2,796.0 225.8,797.2 226.4,798.5 227.0,799.4 227.6,799.7 228.2,799.9 228.8,801.4 229.4,802.7 230.0,803.0 230.6,802.3 231.2,801.9 231.8,803.0 232.4,802.6 233.0,802.3 233.6,801.9 234.2,801.1 234.8,800.1 235.4,798.7 236.0,797.9 236.6,797.6 237.2,796.1 237.8,794.6 238.4,791.4 239.0,789.8 239.6,788.8 240.2,788.3 240.8,787.7 241.4,787.3 242.0,788.6 242.6,790.6 243.2,793.4 243.8,795.5 244.4,797.1 245.0,797.7 245.6,798.3 246.2,799.0 246.8,799.8 247.4,799.7 248.0,799.3 248.6,799.4 249.2,799.9 249.8,799.6 250.4,798.8 251.0,798.2 251.6,798.1 252.2,797.0 252.8,794.8 253.4,791.8 254.0,788.5 254.6,786.0 255.2,782.9 255.8,781.3 256.4,779.4 257.0,779.0 257.6,779.8 258.2,780.9 258.8,782.0 259.4,783.7 260.0,786.5 260.6,789.5 261.2,791.4 261.8,793.6 262.4,794.9 263.0,795.1 263.6,795.2 264.2,795.4 264.8,796.8 265.4,796.5 266.0,796.0 266.6,796.0 267.2,795.8 267.8,795.7 268.4,794.6 269.0,793.9 269.6,791.9 270.2,788.8 270.8,786.1 271.4,782.9 272.0,780.3 272.6,778.3 273.2,777.1 273.8,776.1 274.4,775.2 275.0,775.9 275.6,778.0 276.2,780.0 276.8,783.4 277.4,787.0 278.0,790.6 278.6,792.3 279.2,793.7 279.8,794.9 280.4,795.3 281.0,795.3 281.6,794.8 282.2,795.5 282.8,795.8 283.4,795.4 284.0,794.6 284.6,794.7 285.2,793.8 285.8,792.5 286.4,789.1 287.0,787.1 287.6,783.5 288.2,780.0 288.8,775.4 289.4,772.4 290.0,770.7 290.6,770.4 291.2,770.2 291.8,771.9 292.4,773.9 293.0,777.2 293.6,780.1 294.2,783.4 294.8,786.7 295.4,788.9 296.0,791.0 296.6,792.2 297.2,792.4 297.8,792.9 298.4,792.9 299.0,794.0 299.6,793.9 300.2,794.3 300.8,793.7 301.4,793.5 302.0,792.0 302.6,789.8 303.2,787.0 303.8,782.8 304.4,779.3 305.0,775.3 305.6,772.4 306.2,769.8 306.8,767.7 307.4,766.7 308.0,766.3 308.6,768.0 309.2,770.5 309.8,774.0 310.4,777.8 311.0,782.3 311.6,786.9 312.2,789.5 312.8,790.6 313.4,791.5 314.0,792.9 314.6,793.9 315.2,794.4 315.8,794.6 316.4,794.4 317.0,793.6 317.6,792.1 318.2,792.1 318.8,791.5 319.4,790.4 320.0,787.0 320.6,782.9 321.2,778.0 321.8,773.6 322.4,769.2 323.0,765.6 323.6,763.7 324.2,763.2 324.8,764.4 325.4,766.3 326.0,768.8 326.6,772.5 327.2,777.0 327.8,781.5 328.4,785.4 329.0,788.2 329.6,790.5 330.2,792.1 330.8,792.6 331.4,793.7 332.0,793.1 332.6,793.8 333.2,792.8 333.8,794.1 334.4,794.1 335.0,793.9 335.6,792.0 336.2,789.3 336.8,786.9 337.4,783.7 338.0,781.0 338.6,776.1 339.2,772.1 339.8,767.2 340.4,765.3 341.0,763.9 341.6,764.7 342.2,766.6 342.8,769.4 343.4,773.3 344.0,777.7 344.6,782.9 345.2,786.4 345.8,789.5 346.4,791.1 347.0,793.0 347.6,793.9 348.2,795.3 348.8,796.8 349.4,797.8 350.0,796.9 350.6,796.1 351.2,794.9 351.8,795.0 352.4,794.2 353.0,793.0 353.6,790.3 354.2,786.1 354.8,780.9 355.4,775.3 356.0,771.1 356.6,768.5 357.2,767.4 357.8,766.1 358.4,766.3 359.0,767.6 359.6,771.2 360.2,774.9 360.8,778.6 361.4,782.9 362.0,786.9 362.6,790.6 363.2,792.0 363.8,793.3 364.4,793.2 365.0,793.3 365.6,793.2 366.2,793.7 366.8,794.7 367.4,795.3 368.0,795.3 368.6,795.3 369.2,793.5 369.8,792.1 370.4,788.3 371.0,785.3 371.6,780.9 372.2,777.2 372.8,773.3 373.4,769.2 374.0,766.9 374.6,765.1 375.2,766.2 375.8,768.0 376.4,771.2 377.0,774.9 377.6,778.6 378.2,783.2 378.8,787.0 379.4,790.9 380.0,792.5 380.6,795.0 381.2,795.3 381.8,796.9 382.4,796.3 383.0,797.0 383.6,796.6 384.2,797.1 384.8,796.8 385.4,797.0 386.0,796.0 386.6,794.6 387.2,792.4 387.8,788.6 388.4,785.1 389.0,780.4 389.6,776.3 390.2,772.6 390.8,770.2 391.4,770.4 392.0,770.3 392.6,772.2 393.2,774.5 393.8,777.6 394.4,781.9 395.0,785.6 395.6,790.7 396.2,794.3 396.8,797.1 397.4,797.5 398.0,797.8 398.6,798.3 399.2,799.5 399.8,799.4 400.4,798.9 401.0,798.7 401.6,798.3 402.2,799.1 402.8,798.0 403.4,796.6 404.0,793.6 404.6,790.4 405.2,786.9 405.8,783.2 406.4,779.9 407.0,776.9 407.6,775.3 408.2,774.7 408.8,774.6 409.4,775.5 410.0,778.2 410.6,781.9 411.2,785.9 411.8,789.4 412.4,793.4 413.0,796.2 413.6,798.3 414.2,799.3 414.8,800.4 415.4,800.5 416.0,801.7 416.6,801.7 417.2,802.0 417.8,801.7 418.4,801.6 419.0,801.4 419.6,800.2 420.2,798.5 420.8,796.0 421.4,792.9 422.0,790.2 422.6,786.7 423.2,783.3 423.8,779.6 424.4,778.0 425.0,777.9 425.6,777.9 426.2,779.3 426.8,781.1 427.4,784.8 428.0,788.6 428.6,791.8 429.2,795.8 429.8,798.6 430.4,800.9 431.0,802.7 431.6,803.8 432.2,805.2 432.8,804.1 433.4,803.8 434.0,803.2 434.6,804.1 435.2,804.7 435.8,803.9 436.4,802.9 437.0,800.9 437.6,800.1 438.2,797.5 438.8,794.0 439.4,790.2 440.0,786.7 440.6,784.2 441.2,782.3 441.8,781.7 442.4,782.4 443.0,783.1 443.6,786.6 444.2,789.9 444.8,794.2 445.4,796.1 446.0,797.9 446.6,799.9 447.2,802.3 447.8,805.5 448.4,807.2 449.0,807.5 449.6,807.3 450.2,807.3 450.8,807.6 451.4,807.7 452.0,807.2 452.6,806.5 453.2,804.7 453.8,803.1 454.4,801.8 455.0,799.2 455.6,795.6 456.2,792.3 456.8,788.7 457.4,787.5 458.0,785.2 458.6,785.7 459.2,785.8 459.8,786.5 460.4,787.7 461.0,790.4 461.6,793.8 462.2,797.1 462.8,799.0 463.4,801.8 464.0,804.0 464.6,805.0 465.2,805.1 465.8,804.7 466.4,804.8 467.0,805.4 467.6,805.3 468.2,805.8 468.8,804.7 469.4,804.4 470.0,803.5 470.6,803.0 471.2,801.1 471.8,797.6 472.4,794.0 473.0,790.8 473.6,788.4 474.2,786.0 474.8,783.5 475.4,782.0 476.0,782.2 476.6,783.8 477.2,785.1 477.8,786.9 478.4,788.2 479.0,790.9 479.6,794.5 480.2,796.8 480.8,797.9 481.4,796.6 482.0,796.0 482.6,794.9 483.2,794.4 483.8,793.8 484.4,794.0 485.0,792.1 485.6,790.8 486.2,788.8 486.8,786.2 487.4,783.0 488.0,777.7 488.6,773.6 489.2,768.0 489.8,761.9 490.4,754.6 491.0,746.3 491.6,739.4 492.2,734.0 492.8,730.7 493.4,730.0 494.0,732.5 494.6,738.3 495.2,744.8 495.8,752.3 496.4,759.1 497.0,766.6 497.6,772.6 498.2,777.5 498.8,781.5 499.4,783.5 500.0,785.5 500.6,786.5 501.2,788.5 501.8,790.0 502.4,791.4 503.0,792.3 503.6,793.2 504.2,793.7 504.8,794.6 505.4,794.2 506.0,794.1 506.6,793.0 507.2,791.2 507.8,789.6 508.4,788.2 509.0,789.1 509.6,790.2 510.2,791.9 510.8,793.5 511.4,794.7 512.0,796.5 512.6,798.9 513.2,802.0 513.8,804.7 514.4,807.0 515.0,808.8 515.6,810.9 516.2,812.3 516.8,813.2 517.4,813.4 518.0,813.4 518.6,813.9 519.2,814.1 519.8,814.5 520.4,814.3 521.0,813.9 521.6,811.8 522.2,811.3 522.8,809.8 523.4,808.2 524.0,805.3 524.6,803.6 525.2,802.0 525.8,801.1 526.4,800.6 527.0,801.8 527.6,802.6 528.2,805.3 528.8,807.7 529.4,810.2 530.0,813.1 530.6,814.4 531.2,817.0 531.8,817.1 532.4,818.4 533.0,818.1 533.6,819.6 534.2,820.1 534.8,821.2 535.4,820.7 536.0,820.7 536.6,819.9 537.2,819.2 537.8,818.5 538.4,817.5 539.0,816.0 539.6,813.5 540.2,811.4 540.8,809.8 541.4,808.5 542.0,807.6 542.6,806.7 543.2,806.7 543.8,807.0 544.4,808.1 545.0,810.3 545.6,812.7 546.2,815.7 546.8,817.5 547.4,818.6 548.0,819.8 548.6,821.1 549.2,822.6 549.8,823.8 550.4,824.8 551.0,825.3 551.6,824.8 552.2,824.4 552.8,824.6 553.4,823.8 554.0,823.0 554.6,821.7 555.2,821.4 555.8,820.8 556.4,818.8 557.0,816.6 557.6,813.9 558.2,812.8 558.8,810.9 559.4,810.6 560.0,810.2 560.6,810.9 561.2,811.9 561.8,813.9 562.4,815.9 563.0,817.5 563.6,820.1 564.2,821.9 564.8,823.0 565.4,822.3 566.0,821.8 566.6,822.6 567.2,824.3 567.8,824.8 568.4,825.0 569.0,823.7 569.6,824.9 570.2,825.1 570.8,825.7 571.4,825.2 572.0,824.8 572.6,823.8 573.2,821.4 573.8,818.5 574.4,816.0 575.0,814.0 575.6,814.2 576.2,814.0 576.8,814.9 577.4,814.9 578.0,817.0 578.6,818.3 579.2,820.5 579.8,821.7 580.4,823.7 581.0,823.9 581.6,825.4 582.2,826.0 582.8,827.2 583.4,827.2 584.0,827.7 584.6,828.5 585.2,828.2 585.8,828.4 586.4,828.0 587.0,828.2 587.6,828.1 588.2,827.3 588.8,826.9 589.4,825.1 590.0,823.1 590.6,820.9 591.2,820.1 591.8,819.0 592.4,817.7 593.0,816.5 593.6,816.8 594.2,817.6 594.8,818.9 595.4,819.6 596.0,822.0 596.6,823.9 597.2,825.9 597.8,827.2 598.4,828.2 599.0,829.9 599.6,829.4 600.2,830.1 600.8,829.6 601.4,829.4 602.0,829.0 602.6,828.9 603.2,829.4 603.8,828.9 604.4,827.9 605.0,828.1 605.6,827.3 606.2,826.9 606.8,825.9 607.4,824.6 608.0,823.0 608.6,820.7 609.2,819.8 609.8,820.0 610.4,820.1 611.0,820.2 611.6,821.1 612.2,822.7 612.8,824.6 613.4,826.6 614.0,827.5 614.6,828.9 615.2,828.2 615.8,829.3 616.4,829.9 617.0,831.3 617.6,831.0 618.2,831.2 618.8,831.1 619.4,831.6 620.0,832.3 620.6,831.9 621.2,831.3 621.8,830.1 622.4,828.6 623.0,828.7 623.6,827.8 624.2,827.2 624.8,825.6 625.4,824.3 626.0,824.5 626.6,823.5 627.2,822.8 627.8,821.5 628.4,822.4 629.0,823.4 629.6,825.4 630.2,827.1 630.8,828.8 631.4,829.6 632.0,830.8 632.6,831.5 633.2,832.4 633.8,832.5 634.4,832.2 635.0,831.7 635.6,832.4 636.2,833.0 636.8,832.9 637.4,831.6 638.0,831.2 638.6,830.7 639.2,829.9 639.8,829.2 640.4,828.5 641.0,827.6 641.6,825.7 642.2,823.9 642.8,823.1 643.4,823.2 644.0,824.2 644.6,824.4 645.2,824.7 645.8,825.5 646.4,826.1 647.0,828.1 647.6,829.6 648.2,831.9 648.8,832.6 649.4,832.9 650.0,832.5 650.6,833.0 651.2,831.7 651.8,831.5 652.4,831.3 653.0,832.5 653.6,832.4 654.2,832.5 654.8,832.6 655.4,832.6 656.0,831.5 656.6,830.0 657.2,829.0 657.8,828.3 658.4,827.9 659.0,826.5 659.6,824.7 660.2,823.3 660.8,823.8 661.4,824.6 662.0,825.8 662.6,826.7 663.2,828.0 663.8,829.2 664.4,829.8 665.0,830.5 665.6,831.4 666.2,832.6 666.8,833.1 667.4,833.1 668.0,833.5 668.6,833.5 669.2,833.8 669.8,833.1 670.4,832.9 671.0,832.0 671.6,831.6 672.2,831.1 672.8,831.1 673.4,829.6 674.0,828.0 674.6,825.7 675.2,823.5 675.8,821.0 676.4,819.0 677.0,818.1 677.6,819.2 678.2,820.5 678.8,823.9 679.4,826.0 680.0,828.6 680.6,830.6 681.2,832.2 681.8,833.4 682.4,834.0 683.0,834.9 683.6,835.9 684.2,836.5 684.8,837.2 685.4,836.9 686.0,836.5 686.6,836.1 687.2,835.9 687.8,835.3 688.4,835.4 689.0,835.4 689.6,835.5 690.2,834.3 690.8,833.0 691.4,832.0 692.0,831.3 692.6,831.1 693.2,829.9 693.8,829.6 694.4,829.1 695.0,829.8 695.6,830.2 696.2,830.3 696.8,831.1 697.4,832.5 698.0,834.6 698.6,835.4 699.2,836.0 699.8,836.1 700.4,837.1 701.0,837.2 701.6,837.2 702.2,837.2 702.8,836.6 703.4,836.4 704.0,835.3 704.6,834.8 705.2,834.2 705.8,833.9 706.4,834.3 707.0,834.3 707.6,833.9 708.2,832.6 708.8,831.1 709.4,830.2 710.0,829.6 710.6,829.4 711.2,829.2 711.8,829.1 712.4,829.3 713.0,830.6 713.6,831.6 714.2,833.3 714.8,833.8 715.4,835.2 716.0,834.6 716.6,834.8 717.2,834.6 717.8,835.4 718.4,835.6 719.0,836.2 719.6,836.0 720.2,836.2 720.8,835.2 721.4,835.8 722.0,836.0 722.6,836.2 723.2,834.6 723.8,834.0 724.4,833.0 725.0,833.2 725.6,832.8 726.2,832.1 726.8,831.5 727.4,831.3 728.0,831.6 728.6,831.6 729.2,831.3 729.8,831.6 730.4,831.9 731.0,833.6 731.6,834.7 732.2,835.4 732.8,835.6 733.4,835.4 734.0,834.9 734.6,835.6 735.2,836.6 735.8,837.3 736.4,836.4 737.0,835.9 737.6,836.2 738.2,836.0 738.8,835.3 739.4,835.0 740.0,834.7 740.6,834.5 741.2,833.9 741.8,833.1 742.4,832.3 743.0,831.0 743.6,831.3 744.2,830.0 744.8,830.3 745.4,829.6 746.0,830.4 746.6,830.6 747.2,831.1 747.8,830.7 748.4,830.8 749.0,830.5 749.6,830.9 750.2,830.7 750.8,831.2 751.4,831.2 752.0,831.2 752.6,830.4 753.2,830.6 753.8,830.7 754.4,830.6 755.0,830.7 755.6,830.3 756.2,830.1 756.8,829.8 757.4,828.5 758.0,827.9 758.6,826.0 759.2,825.4 759.8,823.7 760.4,823.1 761.0,821.6 761.6,822.1 762.2,822.2 762.8,823.3 763.4,823.9 764.0,825.3 764.6,827.4 765.2,828.7 765.8,829.9 766.4,829.9 767.0,830.1 767.6,829.7 768.2,829.9 768.8,829.8 769.4,830.2 770.0,830.3 770.6,829.7 771.2,830.3 771.8,830.8 772.4,830.7 773.0,830.2 773.6,829.8 774.2,829.8 774.8,828.5 775.4,826.5 776.0,825.7 776.6,825.9 777.2,825.1 777.8,824.2 778.4,822.9 779.0,823.3 779.6,823.8 780.2,824.6 780.8,825.0 781.4,826.3 782.0,826.7 782.6,827.0 783.2,826.3 783.8,825.8 784.4,825.2 785.0,825.0 785.6,825.0 786.2,826.4 786.8,827.5 787.4,829.2 788.0,829.6 788.6,829.8 789.2,829.1 789.8,829.2 790.4,829.1 791.0,829.7 791.6,829.2 792.2,828.1 792.8,826.6 793.4,825.7 794.0,825.2 794.6,825.6 795.2,825.5 795.8,825.5 796.4,825.5 797.0,826.1 797.6,827.1 798.2,827.3 798.8,827.8 799.4,828.2 800.0,829.9 800.6,831.0 801.2,831.8 801.8,832.2 802.4,831.9 803.0,832.2 803.6,831.8 804.2,831.9 804.8,831.9 805.4,831.0 806.0,830.5 806.6,829.3 807.2,829.3 807.8,828.6 808.4,826.6 809.0,824.7 809.6,822.9 810.2,822.6 810.8,820.7 811.4,817.6 812.0,811.7 812.6,804.9 813.2,796.3 813.8,790.7 814.4,793.3 815.0,802.8 815.6,811.9 816.2,818.2 816.8,822.5 817.4,825.9 818.0,828.2 818.6,829.6 819.2,829.5 819.8,830.0 820.4,830.8 821.0,831.8 821.6,832.6 822.2,832.7 822.8,832.0 823.4,832.1 824.0,832.0 824.6,832.3 825.2,831.3 825.8,829.4 826.4,828.0 827.0,826.4 827.6,826.8 828.2,826.1 828.8,826.1 829.4,826.4 830.0,827.7 830.6,828.4 831.2,829.5 831.8,829.8 832.4,831.1 833.0,831.2 833.6,832.7 834.2,832.9 834.8,833.0 835.4,833.1 836.0,832.8 836.6,833.4 837.2,833.2 837.8,834.2 838.4,833.8 839.0,833.6 839.6,833.3 840.2,833.7 840.8,832.7 841.4,831.9 842.0,830.9 842.6,830.2 843.2,828.8 843.8,827.9 844.4,827.4 845.0,826.9 845.6,827.2 846.2,827.3 846.8,827.7 847.4,826.8 848.0,827.7 848.6,828.5 849.2,831.1 849.8,832.8 850.4,833.5 851.0,834.1 851.6,834.2 852.2,834.8 852.8,834.4 853.4,834.3 854.0,834.1 854.6,833.0 855.2,832.5 855.8,832.8 856.4,833.2 857.0,832.9 857.6,832.8 858.2,831.9 858.8,831.7 859.4,830.2 860.0,829.7 860.6,827.9 861.2,827.4 861.8,826.5 862.4,826.0 863.0,826.2 863.6,826.9 864.2,828.7 864.8,829.7 865.4,830.3 866.0,830.7 866.6,830.4 867.2,831.0 867.8,832.3 868.4,834.2 869.0,835.1 869.6,834.8 870.2,834.4 870.8,834.3 871.4,833.5 872.0,832.9 872.6,833.1 873.2,834.0 873.8,834.2 874.4,833.1 875.0,831.8 875.6,830.6 876.2,829.3 876.8,827.7 877.4,827.0 878.0,826.4 878.6,826.5 879.2,826.8 879.8,827.3 880.4,827.5 881.0,827.7 881.6,827.7 882.2,829.3 882.8,830.1 883.4,831.4 884.0,831.8 884.6,832.6 885.2,832.7 885.8,832.2 886.4,832.3 887.0,832.4 887.6,833.2 888.2,831.8 888.8,831.7 889.4,830.5 890.0,830.6 890.6,829.6 891.2,828.7 891.8,827.9 892.4,826.6 893.0,824.4 893.6,815.3 894.2,795.3 894.8,765.8 895.4,726.0 896.0,677.3 896.6,620.0 897.2,553.5 897.8,478.3 898.4,505.0 899.0,579.2 899.6,644.2 900.2,700.4 900.8,746.4 901.4,783.0 902.0,808.8 902.6,823.5 903.2,827.4 903.8,827.6 904.4,828.6 905.0,829.8 905.6,830.4 906.2,830.9 906.8,829.7 907.4,829.6 908.0,828.4 908.6,829.5 909.2,828.9 909.8,828.8 910.4,826.5 911.0,825.9 911.6,825.1 912.2,825.5 912.8,824.2 913.4,824.2 914.0,825.0 914.6,827.4 915.2,828.4 915.8,828.4 916.4,828.8 917.0,829.8 917.6,830.9 918.2,831.7 918.8,831.5 919.4,832.1 920.0,832.3 920.6,832.2 921.2,833.3 921.8,833.1 922.4,833.5 923.0,832.0 923.6,831.8 924.2,831.3 924.8,830.5 925.4,829.3 926.0,828.7 926.6,828.3 927.2,826.9 927.8,825.0 928.4,824.2 929.0,824.7 929.6,825.6 930.2,825.4 930.8,826.2 931.4,826.5 932.0,827.8 932.6,828.5 933.2,830.0 933.8,831.3 934.4,832.5 935.0,832.4 935.6,832.4 936.2,831.8 936.8,832.0 937.4,832.0 938.0,832.3 938.6,832.9 939.2,833.2 939.8,833.7 940.4,833.4 941.0,833.4 941.6,832.7 942.2,832.5 942.8,831.5 943.4,830.8 944.0,829.4 944.6,827.8 945.2,826.2 945.8,826.5 946.4,827.0 947.0,827.9 947.6,827.5 948.2,827.9 948.8,829.8 949.4,830.4 950.0,831.6 950.6,831.2 951.2,831.9 951.8,831.8 952.4,831.7 953.0,832.1 953.6,832.4 954.2,832.9 954.8,832.5 955.4,832.7 956.0,832.9 956.6,832.9 957.2,829.9 957.8,825.7 958.4,823.2 959.0,821.4 959.6,820.0 960.2,817.8 960.8,815.2 961.4,813.3 962.0,811.8 962.6,811.5 963.2,810.7 963.8,810.3 964.4,810.0 965.0,809.7 965.6,808.7 966.2,808.0 966.8,807.6 967.4,807.3 968.0,806.2 968.6,795.3 969.2,783.7 969.8,709.8 970.4,652.1 971.0,642.3 971.6,633.4 972.2,623.2 972.8,613.5 973.4,609.0 974.0,608.3 974.6,606.6 975.2,603.8 975.8,600.5 976.4,599.0 977.0,597.3 977.6,595.4 978.2,594.0 978.8,594.8 979.4,595.7 980.0,596.8 980.6,597.1 981.2,597.3 981.8,597.3 982.4,598.4 983.0,600.1 983.6,601.8 984.2,603.4 984.8,603.9 985.4,602.3 986.0,600.8 986.6,599.2 987.2,596.8 987.8,595.5 988.4,594.3 989.0,593.1 989.6,591.0 990.2,586.6 990.8,581.6 991.4,576.9 992.0,569.5 992.6,563.0 993.2,555.7 993.8,548.0 994.4,538.8 995.0,505.2 995.6,465.8 996.2,405.8 996.8,303.1 997.4,201.7 997.5,184.9"/>
<polyline class="c" stroke="#0670e0" stroke-width="8.8" stroke-linejoin="round" stroke-miterlimit="10" points="1024.5,185.5 1025.1,267.6 1025.7,329.8 1026.3,353.7 1026.9,377.0 1027.5,400.9 1028.1,420.0 1028.7,440.7 1029.3,454.6 1029.9,468.6 1030.5,482.6 1031.1,498.0 1031.7,512.5 1032.3,524.3 1032.9,534.6 1033.5,546.0 1034.1,557.3 1034.7,569.1 1035.3,581.8 1035.9,593.4 1036.5,604.8 1037.1,607.6 1037.7,609.4 1038.3,611.1 1038.9,614.0 1039.5,616.1 1040.1,619.6 1040.7,622.0 1041.3,624.9 1041.9,626.2 1042.5,628.1 1043.1,630.6 1043.7,633.8 1044.3,635.7 1044.9,637.9 1045.5,639.7 1046.1,642.1 1046.7,644.6 1047.3,646.5 1047.9,648.6 1048.5,651.2 1049.1,654.4 1049.7,658.1 1050.3,661.9 1050.9,665.3 1051.5,667.1 1052.1,668.1 1052.7,668.5 1053.3,669.3 1053.9,670.6 1054.5,671.4 1055.1,672.6 1055.7,672.7 1056.3,674.4 1056.9,674.7 1057.5,675.4 1058.1,674.9 1058.7,674.9 1059.3,675.0 1059.9,675.5 1060.5,675.8 1061.1,675.7 1061.7,677.1 1062.3,680.4 1062.9,683.5 1063.5,686.4 1064.1,688.8 1064.7,691.0 1065.3,694.0 1065.9,696.4 1066.5,698.8 1067.1,701.2 1067.7,704.4 1068.3,706.7 1068.9,708.3 1069.5,708.3 1070.1,709.0 1070.7,709.6 1071.3,710.7 1071.9,711.7 1072.5,710.7 1073.1,709.6 1073.7,708.9 1074.3,707.4 1074.9,707.2 1075.5,705.6 1076.1,704.7 1076.7,705.0 1077.3,707.1 1077.9,709.3 1078.5,711.9 1079.1,713.6 1079.7,716.3 1080.3,717.7 1080.9,720.2 1081.5,720.6 1082.1,720.5 1082.7,720.9 1083.3,721.5 1083.9,722.0 1084.5,721.4 1085.1,720.8 1085.7,720.2 1086.3,719.1 1086.9,719.3 1087.5,718.2 1088.1,718.5 1088.7,719.0 1089.3,719.8 1089.9,720.5 1090.5,721.5 1091.1,722.4 1091.7,723.6 1092.3,723.8 1092.9,724.7 1093.5,724.3 1094.1,723.7 1094.7,723.2 1095.3,723.0 1095.9,722.8 1096.5,722.8 1097.1,721.6 1097.7,721.2 1098.3,721.1 1098.9,720.1 1099.5,717.7 1100.1,714.5 1100.7,711.3 1101.3,708.8 1101.9,707.0 1102.5,708.2 1103.1,712.9 1103.7,716.6 1104.3,721.4 1104.9,723.3 1105.5,725.4 1106.1,726.4 1106.7,726.1 1107.3,724.6 1107.9,723.1 1108.5,720.9 1109.1,718.9 1109.7,717.1 1110.3,715.4 1110.9,715.4 1111.5,717.3 1112.1,719.3 1112.7,720.5 1113.3,721.1 1113.9,721.7 1114.5,722.7 1115.1,722.2 1115.7,721.7 1116.3,721.3 1116.9,720.6 1117.5,719.3 1118.1,719.0 1118.7,718.1 1119.3,717.6 1119.9,717.6 1120.5,720.5 1121.1,723.3 1121.7,726.5 1122.3,729.8 1122.9,732.6 1123.5,733.8 1124.1,733.9 1124.7,735.5 1125.3,737.1 1125.9,739.9 1126.5,739.9 1127.1,739.2 1127.7,738.2 1128.3,737.5 1128.9,737.2 1129.5,736.0 1130.1,736.0 1130.7,737.2 1131.3,738.1 1131.9,739.3 1132.5,739.3 1133.1,740.4 1133.7,739.7 1134.3,739.9 1134.9,739.8 1135.5,739.3 1136.1,738.8 1136.7,735.5 1137.3,733.3 1137.9,731.3 1138.5,730.3 1139.1,727.0 1139.7,723.1 1140.3,719.7 1140.9,715.8 1141.5,712.7 1142.1,709.6 1142.7,713.1 1143.3,717.7 1143.9,722.0 1144.5,727.0 1145.1,732.1 1145.7,737.0 1146.3,741.7 1146.9,745.2 1147.5,749.5 1148.1,753.0 1148.7,754.2 1149.3,755.2 1149.9,755.4 1150.5,757.2 1151.1,758.3 1151.7,760.1 1152.3,761.4 1152.9,763.6 1153.5,765.5 1154.1,767.0 1154.7,767.8 1155.3,768.6 1155.9,768.9 1156.5,769.0 1157.1,768.8 1157.7,768.9 1158.3,768.8 1158.9,768.8 1159.5,768.5 1160.1,768.2 1160.7,767.3 1161.3,766.5 1161.9,766.0 1162.5,765.7 1163.1,766.2 1163.7,766.5 1164.3,767.2 1164.9,767.4 1165.5,769.0 1166.1,770.2 1166.7,772.0 1167.3,772.7 1167.9,773.7 1168.5,774.6 1169.1,775.9 1169.7,777.1 1170.3,777.3 1170.9,777.6 1171.5,777.7 1172.1,778.4 1172.7,778.9 1173.3,780.0 1173.9,780.5 1174.5,780.4 1175.1,779.8 1175.7,778.9 1176.3,779.3 1176.9,779.0 1177.5,779.6 1178.1,778.3 1178.7,777.6 1179.3,776.8 1179.9,776.8 1180.5,776.9 1181.1,776.4 1181.7,777.2 1182.3,777.8 1182.9,779.3 1183.5,779.7 1184.1,779.8 1184.7,780.6 1185.3,782.1 1185.9,783.3 1186.5,783.5 1187.1,783.7 1187.7,784.7 1188.3,784.8 1188.9,786.0 1189.5,786.6 1190.1,787.2 1190.7,785.7 1191.3,785.3 1191.9,786.1 1192.5,786.8 1193.1,786.8 1193.7,785.2 1194.3,784.7 1194.9,783.4 1195.5,784.4 1196.1,784.6 1196.7,784.5 1197.3,783.2 1197.9,783.6 1198.5,785.2 1199.1,786.5 1199.7,787.5 1200.3,789.2 1200.9,790.5 1201.5,790.6 1202.1,790.8 1202.7,791.2 1203.3,792.5 1203.9,793.6 1204.5,794.8 1205.1,795.2 1205.7,795.5 1206.3,795.5 1206.9,796.1 1207.5,795.9 1208.1,796.1 1208.7,795.4 1209.3,795.3 1209.9,794.7 1210.5,794.3 1211.1,793.3 1211.7,793.1 1212.3,792.1 1212.9,793.3 1213.5,792.9 1214.1,793.9 1214.7,792.9 1215.3,793.5 1215.9,794.2 1216.5,795.0 1217.1,795.9 1217.7,796.1 1218.3,796.8 1218.9,797.4 1219.5,799.5 1220.1,800.1 1220.7,800.7 1221.3,800.6 1221.9,802.0 1222.5,802.0 1223.1,801.3 1223.7,800.4 1224.3,800.8 1224.9,800.4 1225.5,799.1 1226.1,798.0 1226.7,798.4 1227.3,798.5 1227.9,798.8 1228.5,798.0 1229.1,797.7 1229.7,797.4 1230.3,797.3 1230.9,797.4 1231.5,796.8 1232.1,796.7 1232.7,796.9 1233.3,797.4 1233.9,797.6 1234.5,797.8 1235.1,798.4 1235.7,798.8 1236.3,798.0 1236.9,796.9 1237.5,796.7 1238.1,795.4 1238.7,793.0 1239.3,790.3 1239.9,788.9 1240.5,787.5 1241.1,785.9 1241.7,785.2 1242.3,784.5 1242.9,783.6 1243.5,778.9 1244.1,773.7 1244.7,764.5 1245.3,746.4 1245.9,728.8 1246.5,689.1 1247.1,629.8 1247.7,496.6 1248.3,289.4 1248.9,185.0 1249.5,184.6 1250.1,184.9 1250.7,289.1 1251.3,496.6 1251.9,621.6 1252.5,663.0 1253.1,705.3 1253.7,726.7 1254.3,740.3 1254.9,753.2 1255.5,766.5 1256.1,769.3 1256.7,772.6 1257.3,775.8 1257.9,777.8 1258.5,780.0 1259.1,781.7 1259.7,784.9 1260.3,787.2 1260.9,790.8 1261.5,793.9 1262.1,796.7 1262.7,799.3 1263.3,800.0 1263.9,801.1 1264.5,802.0 1265.1,801.7 1265.7,802.4 1266.3,803.6 1266.9,805.4 1267.5,805.8 1268.1,806.2 1268.7,807.0 1269.3,808.0 1269.9,809.2 1270.5,809.5 1271.1,810.6 1271.7,811.1 1272.3,813.1 1272.9,813.6 1273.5,813.6 1274.1,813.2 1274.7,813.3 1275.3,813.7 1275.9,812.7 1276.5,813.2 1277.1,813.2 1277.7,813.8 1278.3,814.4 1278.9,814.4 1279.5,815.0 1280.1,814.1 1280.7,813.7 1281.3,813.7 1281.9,813.8 1282.5,814.8 1283.1,815.5 1283.7,816.0 1284.3,815.3 1284.9,815.0 1285.5,815.0 1286.1,815.8 1286.7,816.2 1287.3,816.6 1287.9,816.7 1288.5,817.2 1289.1,818.1 1289.7,818.0 1290.3,817.9 1290.9,817.2 1291.5,817.1 1292.1,817.3 1292.7,817.6 1293.3,818.1 1293.9,817.6 1294.5,817.3 1295.1,816.7 1295.7,817.0 1296.3,817.0 1296.9,816.8 1297.5,815.4 1298.1,813.8 1298.7,810.9 1299.3,807.3 1299.9,804.4 1300.5,806.2 1301.1,809.4 1301.7,813.8 1302.3,815.6 1302.9,817.4 1303.5,817.7 1304.1,818.4 1304.7,819.1 1305.3,819.3 1305.9,819.6 1306.5,819.5 1307.1,819.5 1307.7,820.3 1308.3,820.7 1308.9,821.6 1309.5,820.7 1310.1,820.7 1310.7,820.1 1311.3,820.8 1311.9,821.3 1312.5,821.8 1313.1,821.8 1313.7,821.8 1314.3,822.1 1314.9,822.9 1315.5,821.7 1316.1,821.3 1316.7,820.2 1317.3,820.4 1317.9,819.9 1318.5,818.9 1319.1,817.4 1319.7,816.0 1320.3,815.7 1320.9,817.6 1321.5,818.8 1322.1,819.6 1322.7,819.2 1323.3,820.1 1323.9,821.1 1324.5,822.4 1325.1,822.3 1325.7,822.3 1326.3,821.6 1326.9,822.5 1327.5,822.3 1328.1,822.3 1328.7,822.9 1329.3,823.8 1329.9,825.2 1330.5,825.1 1331.1,824.6 1331.7,825.1 1332.3,824.7 1332.9,826.0 1333.5,825.9 1334.1,825.7 1334.7,825.4 1335.3,826.3 1335.9,827.1 1336.5,827.3 1337.1,826.6 1337.7,826.6 1338.3,825.3 1338.9,826.1 1339.5,826.3 1340.1,827.6 1340.7,826.8 1341.3,826.8 1341.9,827.2 1342.5,827.7 1343.1,828.0 1343.7,827.2 1344.3,827.6 1344.9,828.3 1345.5,828.7 1346.1,828.7 1346.7,828.1 1347.3,829.0 1347.9,828.9 1348.5,829.5 1349.1,829.8 1349.7,830.1 1350.3,829.7 1350.9,828.8 1351.5,828.9 1352.1,830.4 1352.7,831.0 1353.3,831.2 1353.9,831.0 1354.5,831.5 1355.1,831.5 1355.7,831.9 1356.3,831.8 1356.9,832.4 1357.5,831.0 1358.1,830.8 1358.7,831.3 1359.3,832.2 1359.9,833.2 1360.5,832.7 1361.1,832.5 1361.7,831.9 1362.3,832.1 1362.9,832.9 1363.5,832.7 1364.1,833.2 1364.7,832.7 1365.3,833.0 1365.9,832.0 1366.5,832.0 1367.1,832.2 1367.7,832.5 1368.3,832.7 1368.9,832.6 1369.5,833.1 1370.1,833.7 1370.7,834.2 1371.3,834.6 1371.9,834.4 1372.5,834.0 1373.1,833.0 1373.7,832.9 1374.3,832.9 1374.9,832.9 1375.5,833.8 1376.1,833.4 1376.7,834.4 1377.3,834.1 1377.9,834.8 1378.5,835.8 1379.1,835.7 1379.7,835.5 1380.3,835.3 1380.9,835.1 1381.5,834.9 1382.1,833.8 1382.7,834.0 1383.3,834.7 1383.9,835.3 1384.5,835.1 1385.1,835.3 1385.7,836.1 1386.3,836.5 1386.9,836.4 1387.5,835.9 1388.1,836.8 1388.7,836.6 1389.3,836.1 1389.9,835.3 1390.5,836.0 1391.1,836.8 1391.7,836.4 1392.3,835.2 1392.9,834.4 1393.5,834.7 1394.1,835.8 1394.7,836.4 1395.3,837.9 1395.9,838.1 1396.5,838.1 1397.1,837.9 1397.7,837.3 1398.3,836.7 1398.9,836.3 1399.5,837.1 1400.1,837.1 1400.7,837.5 1401.3,837.5 1401.9,838.0 1402.5,837.8 1403.1,837.4 1403.7,837.7 1404.3,838.0 1404.9,837.8 1405.5,838.3 1406.1,838.4 1406.7,839.1 1407.3,838.0 1407.9,836.9 1408.5,836.9 1409.1,837.5 1409.7,838.0 1410.3,837.5 1410.9,837.2 1411.5,837.5 1412.1,837.5 1412.7,837.9 1413.3,838.3 1413.9,838.1 1414.5,838.9 1415.1,837.9 1415.7,839.4 1416.3,838.5 1416.9,839.7 1417.5,839.1 1418.1,839.7 1418.7,839.8 1419.3,839.5 1419.9,838.8 1420.5,838.7 1421.1,839.3 1421.7,839.8 1422.3,839.0 1422.9,838.4 1423.5,838.8 1424.1,839.6 1424.7,840.3 1425.3,840.4 1425.9,840.6 1426.5,839.3 1427.1,840.0 1427.7,839.8 1428.3,841.0 1428.9,840.0 1429.5,839.9 1430.1,839.6 1430.7,840.4 1431.3,841.1 1431.9,841.4 1432.5,841.6 1433.1,840.8 1433.7,840.8 1434.3,839.8 1434.9,840.5 1435.5,840.3 1436.1,840.9 1436.7,841.1 1437.3,840.2 1437.9,840.7 1438.5,840.2 1439.1,840.9 1439.7,839.2 1440.3,838.9 1440.9,838.1 1441.5,838.9 1442.1,838.9 1442.7,840.6 1443.3,840.4 1443.9,840.8 1444.5,840.4 1445.1,841.3 1445.7,840.6 1446.3,840.2 1446.9,838.5 1447.5,837.8 1448.1,836.8 1448.7,836.7 1449.3,835.5 1449.9,833.7 1450.5,831.3 1451.1,827.3 1451.7,821.0 1452.3,814.3 1452.9,815.1 1453.5,822.0 1454.1,828.8 1454.7,832.6 1455.3,835.4 1455.9,837.3 1456.5,838.2 1457.1,837.8 1457.7,837.9 1458.3,839.5 1458.9,840.1 1459.5,841.8 1460.1,841.1 1460.7,841.5 1461.3,841.0 1461.9,841.0 1462.5,841.3 1463.1,840.4 1463.7,840.2 1464.3,839.8 1464.9,840.4 1465.5,840.8 1466.1,840.3 1466.7,840.5 1467.3,840.8 1467.9,841.6 1468.5,841.2 1469.1,840.5 1469.7,841.3 1470.3,841.4 1470.9,842.6 1471.5,842.6 1472.1,843.4 1472.7,843.3 1473.3,842.8 1473.9,842.5 1474.5,842.9 1475.1,843.2 1475.7,842.9 1476.3,842.8 1476.9,842.8 1477.5,843.3 1478.1,843.3 1478.7,843.8 1479.3,843.6 1479.9,844.0 1480.5,843.5 1481.1,843.3 1481.7,842.6 1482.3,842.5 1482.9,843.1 1483.5,844.0 1484.1,844.1 1484.7,843.8 1485.3,843.1 1485.9,843.7 1486.5,844.0 1487.1,844.1 1487.7,843.9 1488.3,843.4 1488.9,843.7 1489.5,843.5 1490.1,844.0 1490.7,843.5 1491.3,844.0 1491.9,844.7 1492.5,844.7 1493.1,844.4 1493.7,844.0 1494.3,845.5 1494.9,845.3 1495.5,844.7 1496.1,843.8 1496.7,844.8 1497.3,845.3 1497.9,845.4 1498.5,845.3 1499.1,844.5 1499.7,843.5 1500.3,843.2 1500.9,844.4 1501.5,844.7 1502.1,844.6 1502.7,844.3 1503.3,845.0 1503.9,844.5 1504.5,844.3 1505.1,843.9 1505.7,844.3 1506.3,844.4 1506.9,845.5 1507.5,845.8 1508.1,845.2 1508.7,844.8 1509.3,845.1 1509.9,845.9 1510.5,846.2 1511.1,845.6 1511.7,845.8 1512.3,845.0 1512.9,845.4 1513.5,844.6 1514.1,845.5 1514.7,844.6 1515.3,844.3 1515.9,844.1 1516.5,844.6 1517.1,845.6 1517.7,845.6 1518.3,845.7 1518.9,845.3 1519.5,845.2 1520.1,845.4 1520.7,846.0 1521.3,846.8 1521.9,846.3 1522.5,846.2 1523.1,845.6 1523.7,845.8 1524.3,845.3 1524.9,844.9 1525.5,845.5 1526.1,845.9 1526.7,846.4 1527.3,845.7 1527.9,846.1 1528.5,845.6 1529.1,845.5 1529.7,845.4 1530.3,845.8 1530.9,846.7 1531.5,846.1 1532.1,846.3 1532.7,846.4 1533.3,847.6 1533.9,847.3 1534.5,846.4 1535.1,845.6 1535.7,846.0 1536.3,846.3 1536.9,846.7 1537.5,846.9 1538.1,846.4 1538.7,845.8 1539.3,845.1 1539.9,845.0 1540.5,845.5 1541.1,846.1 1541.7,847.7 1542.3,848.0 1542.9,847.9 1543.5,847.5 1544.1,847.0 1544.7,847.2 1545.3,847.0 1545.9,847.7 1546.5,847.7 1547.1,847.2 1547.7,846.4 1548.3,846.2 1548.9,846.1 1549.5,847.0 1550.1,847.0 1550.7,847.5 1551.3,846.6 1551.9,847.1 1552.5,846.5 1553.1,846.6 1553.7,845.6 1554.3,845.8 1554.9,846.9 1555.5,847.8 1556.1,847.6 1556.7,847.2 1557.3,846.9 1557.9,846.7 1558.5,846.3 1559.1,845.5 1559.7,845.8 1560.3,845.2 1560.9,845.7 1561.5,845.7 1562.1,846.4 1562.7,846.4 1563.3,847.3 1563.9,847.5 1564.5,848.0 1565.1,847.8 1565.7,848.3 1566.3,848.5 1566.9,848.0 1567.5,847.2 1568.1,846.6 1568.7,846.7 1569.3,847.1 1569.9,847.4 1570.5,848.1 1571.1,848.1 1571.7,848.9 1572.3,848.8 1572.9,848.7 1573.5,848.3 1574.1,846.8 1574.7,847.5 1575.3,847.4 1575.9,848.7 1576.5,847.5 1577.1,848.4 1577.7,848.1 1578.3,848.8 1578.9,848.2 1579.5,848.2 1580.1,848.0 1580.7,847.8 1581.3,847.5 1581.9,848.1 1582.5,847.9 1583.1,848.8 1583.7,848.0 1584.3,848.5 1584.9,848.2 1585.5,849.5 1586.1,848.7 1586.7,849.4 1587.3,848.9 1587.9,849.5 1588.5,848.4 1589.1,848.4 1589.7,848.4 1590.3,848.3 1590.9,847.7 1591.5,847.1 1592.1,848.0 1592.7,848.6 1593.3,849.3 1593.9,848.8 1594.5,848.8 1595.1,848.6 1595.7,848.3 1596.3,848.8 1596.9,848.7 1597.5,849.0 1598.1,848.0 1598.7,848.0 1599.3,847.7 1599.9,848.1 1600.5,848.4 1601.1,848.2 1601.7,848.4 1602.3,848.2 1602.9,849.1 1603.5,849.0 1604.1,848.9 1604.7,848.6 1605.3,848.3 1605.9,847.3 1606.5,846.5 1607.1,847.2 1607.7,848.1 1608.3,848.4 1608.9,847.9 1609.5,847.7 1610.1,848.1 1610.7,848.4 1611.3,849.4 1611.9,849.3 1612.5,849.4 1613.1,848.2 1613.7,848.2 1614.3,847.8 1614.9,848.1 1615.5,848.1 1616.1,848.6 1616.7,848.8 1617.3,848.7 1617.9,849.4 1618.5,848.8 1619.1,849.3 1619.7,849.5 1620.3,849.7 1620.9,850.1 1621.5,849.8 1622.1,850.2 1622.7,848.9 1623.3,849.0 1623.9,848.9 1624.5,849.4 1625.1,849.4 1625.7,849.0 1626.3,849.7 1626.9,849.0 1627.5,849.5 1628.1,848.6 1628.7,848.7 1629.3,848.1 1629.9,848.3 1630.5,848.5 1631.1,848.9 1631.7,849.2 1632.3,849.7 1632.9,849.7 1633.5,848.9 1634.1,848.3 1634.7,848.4 1635.3,849.5 1635.9,850.1 1636.5,850.5 1637.1,850.0 1637.7,849.8 1638.3,848.8 1638.9,849.5 1639.5,849.4 1640.1,850.2 1640.7,849.5 1641.3,849.4 1641.9,848.9 1642.5,849.3 1643.1,848.8 1643.7,849.5 1644.3,849.5 1644.9,850.8 1645.5,850.4 1646.1,850.2 1646.7,849.4 1647.3,849.5 1647.9,849.5 1648.5,849.0 1649.1,848.5 1649.7,848.3 1650.3,848.7 1650.9,848.7 1651.5,848.4 1652.1,848.4 1652.7,849.2 1653.3,849.6 1653.9,850.1 1654.5,850.2 1655.1,850.6 1655.7,850.1 1656.3,849.6 1656.9,848.5 1657.5,848.4 1658.1,848.8 1658.7,849.1 1659.3,849.9 1659.9,850.4 1660.5,850.7 1661.1,850.5 1661.7,849.3 1662.3,849.1 1662.9,848.5 1663.5,849.1 1664.1,849.5 1664.7,849.3 1665.3,850.1 1665.9,850.3 1666.5,850.8 1667.1,850.3 1667.7,850.3 1668.3,850.1 1668.9,849.6 1669.5,848.8 1670.1,849.5 1670.7,849.4 1671.3,849.4 1671.9,848.5 1672.5,848.2 1673.1,849.7 1673.7,850.2 1674.3,851.4 1674.9,851.2 1675.5,851.3 1676.1,851.0 1676.7,850.1 1677.3,849.9 1677.9,849.4 1678.5,849.7 1679.1,849.5 1679.7,850.2 1680.3,850.6 1680.9,850.8 1681.5,849.6 1682.1,849.6 1682.7,850.0 1683.3,850.7 1683.9,849.9 1684.5,849.7 1685.1,850.2 1685.7,849.9 1686.3,850.0 1686.9,848.8 1687.5,849.7 1688.1,850.1 1688.7,850.9 1689.3,851.1 1689.9,850.3 1690.5,850.2 1691.1,851.0 1691.7,851.7 1692.3,851.5 1692.9,850.4 1693.5,849.9 1694.1,850.9 1694.7,851.2 1695.3,851.6 1695.9,850.6 1696.5,850.0 1697.1,850.1 1697.7,850.2 1698.3,850.4 1698.9,849.6 1699.5,849.3 1700.1,849.4 1700.7,849.1 1701.3,849.8 1701.9,850.2 1702.5,851.3 1703.1,850.6 1703.7,850.6 1704.3,850.3 1704.9,850.9 1705.5,851.1 1706.1,851.2 1706.7,850.5 1707.3,849.6 1707.9,849.2 1708.5,849.2 1709.1,849.4 1709.7,849.3 1710.3,850.2 1710.9,850.5 1711.5,850.2 1712.1,849.1 1712.7,848.4 1713.3,849.4 1713.9,850.2 1714.5,850.4 1715.1,850.5 1715.7,850.0 1716.3,850.9 1716.9,851.2 1717.5,851.4 1718.1,851.2 1718.7,850.7 1719.3,850.4 1719.9,849.6 1720.5,849.8 1721.1,849.9 1721.7,850.2 1722.3,850.1 1722.9,850.0 1723.5,849.8 1724.1,849.6 1724.7,850.1 1725.3,850.4 1725.9,851.2 1726.5,850.3 1727.1,849.8 1727.7,849.3 1728.3,850.1 1728.9,850.4 1729.5,850.6 1730.1,850.6 1730.7,851.3 1731.3,851.0 1731.9,850.6 1732.5,849.5 1733.1,849.6 1733.7,849.7 1734.3,851.0 1734.9,850.4 1735.5,850.0 1736.1,849.0 1736.7,849.9 1737.3,849.2 1737.9,849.2 1738.5,849.6 1739.1,850.9 1739.7,850.8 1740.3,850.0 1740.9,850.0 1741.5,850.8 1742.1,850.7 1742.7,850.1 1743.3,850.2 1743.9,850.3 1744.5,850.9 1745.1,850.7 1745.7,850.5 1746.3,850.8 1746.9,850.4 1747.5,850.8 1748.1,849.9 1748.7,850.0 1749.3,849.8 1749.9,849.7 1750.5,849.9 1751.1,850.5 1751.7,851.6 1752.3,852.0 1752.9,851.4 1753.5,851.3 1754.1,850.8 1754.7,851.6 1755.3,850.5 1755.9,851.0 1756.5,850.0 1757.1,850.9 1757.7,850.1 1758.3,850.8 1758.9,850.2 1759.5,849.6 1760.1,848.8 1760.7,848.8 1761.3,849.6 1761.9,849.1 1762.5,848.7 1763.1,848.4 1763.7,849.2 1764.3,849.7 1764.9,849.7 1765.5,849.1 1766.1,849.2 1766.7,849.4 1767.3,850.3 1767.9,850.0 1768.5,850.3 1769.1,849.6 1769.7,849.9 1770.3,849.7 1770.9,850.2 1771.5,849.7 1772.1,849.6 1772.7,849.1 1773.3,849.4 1773.9,849.6 1774.5,851.2 1775.1,851.2 1775.7,851.2 1776.3,850.1 1776.9,850.5 1777.5,850.3 1778.1,850.7 1778.7,850.4 1779.3,851.1 1779.9,851.2 1780.5,850.4 1781.1,849.5 1781.7,848.9 1782.3,848.7 1782.9,848.2 1783.5,847.9 1784.1,848.5 1784.7,848.8 1785.3,848.3 1785.9,848.8 1786.5,849.0 1787.1,849.8 1787.7,849.3 1788.3,849.0 1788.9,848.6 1789.5,849.1 1790.1,849.3 1790.7,850.2 1791.3,849.5 1791.9,849.8 1792.5,848.7 1793.1,848.7 1793.7,847.6 1794.3,848.0 1794.9,847.9 1795.5,848.5 1796.1,848.8 1796.7,848.7 1797.3,848.5 1797.9,848.2 1798.5,848.0 1799.1,847.5 1799.7,847.2 1800.3,847.3 1800.9,847.6 1801.5,847.7 1802.1,847.0 1802.7,846.7 1803.3,846.7 1803.9,846.6 1804.5,846.4 1805.1,845.4 1805.7,845.4 1806.3,845.7 1806.9,845.8 1807.5,845.0 1808.1,844.2 1808.7,843.9 1809.3,844.4 1809.9,843.4 1810.5,842.5 1811.1,841.6 1811.7,841.1 1812.3,841.5 1812.9,840.2 1813.5,840.0 1814.1,838.4 1814.7,838.3 1815.3,838.3 1815.9,838.5 1816.5,838.4 1817.1,837.5 1817.7,835.6 1818.3,834.5 1818.9,832.5 1819.5,832.1 1820.1,830.7 1820.7,830.1 1821.3,829.2 1821.9,827.7 1822.5,827.3 1823.1,825.9 1823.7,825.2 1824.3,823.2 1824.9,821.8 1825.5,819.6 1826.1,818.5 1826.7,816.2 1827.3,814.9 1827.9,812.6 1828.5,811.7 1829.1,810.5 1829.7,809.3 1830.3,809.1 1830.9,808.8 1831.5,809.0 1832.1,809.1 1832.7,808.8 1833.3,808.8 1833.9,809.2 1834.5,810.6 1835.1,813.7 1835.7,815.2 1836.3,817.3 1836.9,818.2 1837.5,820.8 1838.1,822.0 1838.7,823.6 1839.3,824.2 1839.9,825.3 1840.5,826.1 1841.1,827.3 1841.7,829.6 1842.3,831.3 1842.9,832.8 1843.5,833.3 1844.1,834.0 1844.7,835.1 1845.3,836.0 1845.9,837.3 1846.5,838.5 1847.1,838.6 1847.7,839.1 1848.3,840.0 1848.9,840.9 1849.5,841.2 1850.1,841.3 1850.7,842.7 1851.3,843.5 1851.9,843.8 1852.5,843.9 1853.1,844.5 1853.7,845.1 1854.3,846.0 1854.9,846.1 1855.5,845.9 1856.1,845.1 1856.7,845.1 1857.3,845.7 1857.9,846.6 1858.5,847.0 1859.1,848.0 1859.7,848.3 1860.3,848.9 1860.9,848.1 1861.5,847.8 1862.1,847.7 1862.7,848.2 1863.3,848.8 1863.9,848.7 1864.5,848.6 1865.1,849.2 1865.7,849.7 1866.3,849.4 1866.9,848.6 1867.5,848.3 1868.1,849.3 1868.7,849.6 1869.3,849.2 1869.9,849.3 1870.5,849.4 1871.1,850.5 1871.7,850.3 1872.3,850.9 1872.9,850.9 1873.5,851.2 1874.1,850.6 1874.7,850.8 1875.3,850.6 1875.9,850.4 1876.5,849.9 1877.1,849.7 1877.7,850.5 1878.3,850.9 1878.9,850.7 1879.5,850.9 1880.1,850.6 1880.7,850.7 1881.3,850.8 1881.9,850.6 1882.5,850.6 1883.1,850.6 1883.7,851.3 1884.3,851.5 1884.9,851.7 1885.5,851.8 1886.1,851.9 1886.7,852.3 1887.3,851.9 1887.9,852.3 1888.5,850.5 1889.1,850.9 1889.7,850.6 1890.3,851.7 1890.9,850.8 1891.5,851.6 1892.1,852.0 1892.7,853.5 1893.3,851.9 1893.9,851.6 1894.5,851.0 1895.1,851.0 1895.7,850.5 1896.3,850.3 1896.9,852.1 1897.5,852.1 1898.1,852.3 1898.7,851.7 1899.3,852.2 1899.9,852.0 1900.5,852.4 1901.1,852.7 1901.7,852.3 1902.3,852.4 1902.9,851.8 1903.5,852.2 1904.1,852.3 1904.7,852.6 1905.3,853.0 1905.9,852.9 1906.5,853.1 1907.1,852.7 1907.7,852.0 1908.3,852.1 1908.9,852.6 1909.5,853.1 1910.1,852.8 1910.7,852.9 1911.3,852.7 1911.9,852.3 1912.5,852.1 1913.1,852.3 1913.7,853.2 1914.3,852.7 1914.9,852.3 1915.5,852.1 1916.1,852.3 1916.7,852.6 1917.3,852.9 1917.9,853.2 1918.5,854.0 1919.1,853.7 1919.7,854.3 1920.3,854.0 1920.9,854.9 1921.5,854.3 1922.1,853.8 1922.7,853.3 1923.3,853.2 1923.9,853.0 1924.5,852.6 1925.1,853.0 1925.7,852.6 1926.3,852.7 1926.9,852.4 1927.5,853.0 1928.1,852.9 1928.7,853.0 1929.3,853.5 1929.9,853.6 1930.5,853.6 1931.1,853.2 1931.7,853.5 1932.3,853.9 1932.9,854.4 1933.5,853.9 1934.1,853.7 1934.7,854.0 1935.3,854.1 1935.9,854.7 1936.5,854.2 1937.1,854.1 1937.7,852.9 1938.3,852.8 1938.9,852.7 1939.5,853.0 1940.1,852.1 1940.7,852.8 1941.3,853.2 1941.9,853.9 1942.5,853.6 1943.1,853.7 1943.7,853.7 1944.3,853.8 1944.9,853.6 1945.5,852.5 1946.1,852.6 1946.7,852.9 1947.3,854.0 1947.9,854.3 1948.5,853.6 1949.1,852.5 1949.7,852.4 1950.3,853.2 1950.9,853.7 1951.5,852.9 1952.1,853.0 1952.7,853.2 1953.3,853.6 1953.9,854.2 1954.5,855.3 1955.1,855.0 1955.7,854.3 1956.3,853.4 1956.9,853.5 1957.5,853.3 1958.1,853.2 1958.7,852.7 1959.3,853.6 1959.9,854.0 1960.5,854.2 1961.1,853.2 1961.7,853.8 1962.3,854.9 1962.9,854.8 1963.5,854.3 1964.1,854.0 1964.7,854.1 1965.3,853.6 1965.9,852.9 1966.5,853.0 1967.1,853.2 1967.7,853.1 1968.3,853.0 1968.9,853.7 1969.5,854.5 1970.1,854.5 1970.7,854.9 1971.3,854.3 1971.9,854.4 1972.5,853.1 1973.1,853.7 1973.7,853.7 1974.3,853.6 1974.9,853.0 1975.5,853.8 1976.1,854.7 1976.7,855.1 1977.3,854.7 1977.9,853.8 1978.5,853.5 1979.1,852.6 1979.7,852.9 1980.3,853.1 1980.9,853.9 1981.5,854.6 1982.1,855.2 1982.7,856.0 1983.3,855.4 1983.9,855.0 1984.5,854.2 1985.1,854.1 1985.7,854.0 1986.3,853.9 1986.9,853.9 1987.5,854.2 1988.1,854.6 1988.7,854.5 1989.3,853.4 1989.9,853.0 1990.5,853.0 1991.1,854.0 1991.7,853.8 1992.3,854.3 1992.9,854.7 1993.5,855.2 1994.1,855.0 1994.7,854.0 1995.3,852.7 1995.9,852.0 1996.5,852.2 1997.1,853.2 1997.7,853.8 1998.3,853.9 1998.9,853.2 1999.5,852.8 2000.1,852.4 2000.7,853.3 2001.3,853.1 2001.9,854.1 2002.5,853.5 2003.1,854.5 2003.7,854.3 2004.3,855.0 2004.9,855.2 2005.5,854.8 2006.1,854.1 2006.7,853.5 2007.3,853.4 2007.9,854.1 2008.5,854.2 2009.1,854.5 2009.7,854.4 2010.3,854.2 2010.9,854.6 2011.5,853.7 2012.1,853.9 2012.7,853.6 2013.3,854.0 2013.9,853.5 2014.5,853.6 2015.1,853.6 2015.7,852.9 2016.3,851.8 2016.9,852.1 2017.5,852.1 2018.1,852.6 2018.7,851.9 2019.3,851.0 2019.9,848.9 2020.5,845.2 2021.1,840.6 2021.7,833.8 2022.3,829.0 2022.9,830.0 2023.5,836.5 2024.1,842.1 2024.7,846.7 2025.3,848.4 2025.9,849.2 2026.5,849.7 2027.1,851.2 2027.7,852.5 2028.3,853.3 2028.9,854.5 2029.5,854.9 2030.1,855.2 2030.7,854.4 2031.3,854.5 2031.9,854.7 2032.5,855.2 2033.1,854.9 2033.7,855.0 2034.3,855.4 2034.9,855.1 2035.5,854.1 2036.1,853.8 2036.7,854.5 2037.3,855.3 2037.9,854.8 2038.5,855.6 2039.1,855.6 2039.7,855.3 2040.3,854.0 2040.9,854.4 2041.5,854.7 2042.1,854.7 2042.7,854.7 2043.3,854.8 2043.9,855.0 2044.5,854.9 2045.1,854.6 2045.7,854.6 2046.3,854.2 2046.9,855.0 2047.5,854.6 2048.1,855.0 2048.7,853.9 2049.3,854.1 2049.9,853.7 2050.5,855.1 2051.1,855.2 2051.7,855.9 2052.3,854.7 2052.9,854.2 2053.5,854.0 2054.1,854.1 2054.7,855.1 2055.3,855.0 2055.9,855.6 2056.5,855.3 2057.1,855.4 2057.7,855.7 2058.3,855.3 2058.9,855.5 2059.5,855.7 2060.1,856.0 2060.7,856.0 2061.3,855.4 2061.9,855.3 2062.5,855.5 2063.1,855.6 2063.7,854.9 2064.3,854.7 2064.9,854.8 2065.5,855.6 2066.1,855.6 2066.7,856.3 2067.3,855.6 2067.9,855.2 2068.5,854.9 2069.1,855.0 2069.7,855.5 2070.3,855.2 2070.9,854.9 2071.5,855.0 2072.1,855.6 2072.7,856.4 2073.3,855.6 2073.9,855.4 2074.5,854.9 2075.1,855.4 2075.7,855.2 2076.3,855.3 2076.9,854.7 2077.5,854.5 2078.1,854.8 2078.7,855.1 2079.3,854.9 2079.9,855.2 2080.5,855.5 2081.1,855.6 2081.7,855.0 2082.3,855.1 2082.9,855.4 2083.5,855.5 2084.1,854.9 2084.7,854.7 2085.3,854.5 2085.9,855.1 2086.5,855.7 2087.1,856.3 2087.7,856.5 2088.3,856.1 2088.9,855.6 2089.5,855.5 2090.1,855.2 2090.7,855.2 2091.3,854.8 2091.9,854.9 2092.5,855.0 2093.1,856.1 2093.7,856.3 2094.3,856.2 2094.9,855.8 2095.5,855.3 2096.1,855.9 2096.7,855.9 2097.3,857.2 2097.9,856.4 2098.5,856.0 2099.1,854.9 2099.7,855.4 2100.3,855.7 2100.9,855.3 2101.5,854.9 2102.1,854.8 2102.7,855.5 2103.3,855.4 2103.9,854.6 2104.5,854.7 2105.1,855.5 2105.7,856.5 2106.3,855.7 2106.9,855.3 2107.5,854.9 2108.1,855.5 2108.7,855.5 2109.3,855.4 2109.9,855.6 2110.5,855.5 2111.1,855.3 2111.7,854.7 2112.3,854.7 2112.9,854.9 2113.5,855.0 2114.1,855.0 2114.7,855.5 2115.3,855.7 2115.9,855.7 2116.5,855.7 2117.1,855.3 2117.7,855.5 2118.3,854.9 2118.9,854.9 2119.5,854.8 2120.1,854.8 2120.7,854.5 2121.3,854.5 2121.9,854.6 2122.5,855.2 2123.1,855.5 2123.7,856.3 2124.3,856.4 2124.9,856.2 2125.5,855.3 2126.1,855.0 2126.7,855.2 2127.3,855.2 2127.9,855.7 2128.5,855.1 2129.1,855.5 2129.7,855.1 2130.3,855.1 2130.9,855.1 2131.5,855.1 2132.1,855.3 2132.7,855.9 2133.3,856.0 2133.9,856.1 2134.5,855.0 2135.1,854.5 2135.7,854.7 2136.3,854.9 2136.9,854.6 2137.5,854.1 2138.1,853.8 2138.7,854.2 2139.3,854.5 2139.9,854.5 2140.5,854.9 2141.1,855.3 2141.7,855.6 2142.3,854.5 2142.9,854.1 2143.5,854.3 2144.1,855.1 2144.7,855.3 2145.3,855.1 2145.9,854.5 2146.5,853.5 2147.1,853.7 2147.7,854.0 2148.3,855.1 2148.9,854.8 2149.5,854.9 2150.1,855.3 2150.7,854.9 2151.3,855.0 2151.9,854.0 2152.5,854.5 2153.1,854.7 2153.7,855.3 2154.3,855.4 2154.9,854.7 2155.5,854.5 2156.1,854.8 2156.7,855.7 2157.3,856.4 2157.9,856.3 2158.5,855.5 2159.1,854.5 2159.7,854.3 2160.3,855.1 2160.9,854.8 2161.5,855.1 2162.1,855.0 2162.7,855.1 2163.3,855.0 2163.9,854.4 2164.5,854.7 2165.1,854.4 2165.7,854.8 2166.3,854.3 2166.9,854.6 2167.5,853.7 2168.1,854.0 2168.7,853.6 2169.3,855.0 2169.9,855.3 2170.5,855.4 2171.1,854.4 2171.7,854.2 2172.3,854.2 2172.9,855.3 2173.5,854.3 2174.1,854.5 2174.7,852.7 2175.3,854.2 2175.9,853.9 2176.5,855.4 2177.1,854.8 2177.7,855.5 2178.3,855.0 2178.9,855.6 2179.5,855.2 2180.1,854.0 2180.7,853.3 2181.3,852.7 2181.9,854.1 2182.5,854.6 2183.1,855.2 2183.7,855.0 2184.3,854.9 2184.9,854.7 2185.5,855.2 2186.1,855.1 2186.7,854.8 2187.3,853.0 2187.9,852.2 2188.5,851.8 2189.1,851.8 2189.7,851.3 2190.3,850.8 2190.9,849.0 2191.5,847.2 2192.1,844.7 2192.7,842.9 2193.3,840.6 2193.9,839.6 2194.5,838.2"/>
</g>
<text x="199.2" y="1770" font-size="73.5" letter-spacing="2" text-anchor="middle">10</text>
<text x="365.6" y="1770" font-size="73.5" letter-spacing="2" text-anchor="middle">15</text>
<text x="531.9" y="1770" font-size="73.5" letter-spacing="2" text-anchor="middle">20</text>
<text x="698.3" y="1770" font-size="73.5" letter-spacing="2" text-anchor="middle">25</text>
<text x="864.6" y="1770" font-size="73.5" letter-spacing="2" text-anchor="middle">30</text>
<text x="1031.0" y="1770" font-size="73.5" letter-spacing="2" text-anchor="middle">35</text>
<text x="1197.3" y="1770" font-size="73.5" letter-spacing="2" text-anchor="middle">40</text>
<text x="1363.7" y="1770" font-size="73.5" letter-spacing="2" text-anchor="middle">45</text>
<text x="1530.1" y="1770" font-size="73.5" letter-spacing="2" text-anchor="middle">50</text>
<text x="1696.4" y="1770" font-size="73.5" letter-spacing="2" text-anchor="middle">55</text>
<text x="1862.8" y="1770" font-size="73.5" letter-spacing="2" text-anchor="middle">60</text>
<text x="2029.1" y="1770" font-size="73.5" letter-spacing="2" text-anchor="middle">65</text>
<text x="2195.5" y="1770" font-size="73.5" letter-spacing="2" text-anchor="middle">70</text>
<text x="1195.8" y="1923.3" font-size="111.5" text-anchor="middle">2θ (degree)</text>
<text transform="translate(93.2,937.8) rotate(-90)" font-size="110.7" text-anchor="middle">Intensity (a.u.)</text>
<text x="421.5" y="673.2" font-size="62.0">(201)</text>
<rect x="443.0" y="616.9" width="29.9" height="5.2" fill="#000"/>
<text x="1088.8" y="627.1" font-size="62.0">(402)</text>
<rect x="1110.1" y="570.8" width="29.9" height="5.2" fill="#000"/>
<text x="1774.4" y="753.9" font-size="63.2">(603)</text>
<rect x="1796.6" y="697.5" width="29.9" height="5.2" fill="#000"/>
<line x1="1784.5" y1="239.5" x2="1917" y2="239.5" stroke="#4f4f4f" stroke-width="9" stroke-linecap="round"/>
<text x="1931.3" y="257.7" font-size="58" letter-spacing="0.45">Substrate</text>
<line x1="1784.5" y1="314.3" x2="1917" y2="314.3" stroke="#08a863" stroke-width="9" stroke-linecap="round"/>
<text x="1931.3" y="332.7" font-size="58" letter-spacing="0.45">2:1</text>
<line x1="1784.5" y1="389.3" x2="1917" y2="389.3" stroke="#fd3c3c" stroke-width="9" stroke-linecap="round"/>
<text x="1931.3" y="407.3" font-size="58" letter-spacing="0.45">4:1</text>
<line x1="1784.5" y1="463.2" x2="1917" y2="463.2" stroke="#0670e0" stroke-width="9" stroke-linecap="round"/>
<text x="1931.3" y="482.8" font-size="58" letter-spacing="0.45">8:1</text>
</svg></body></html>
